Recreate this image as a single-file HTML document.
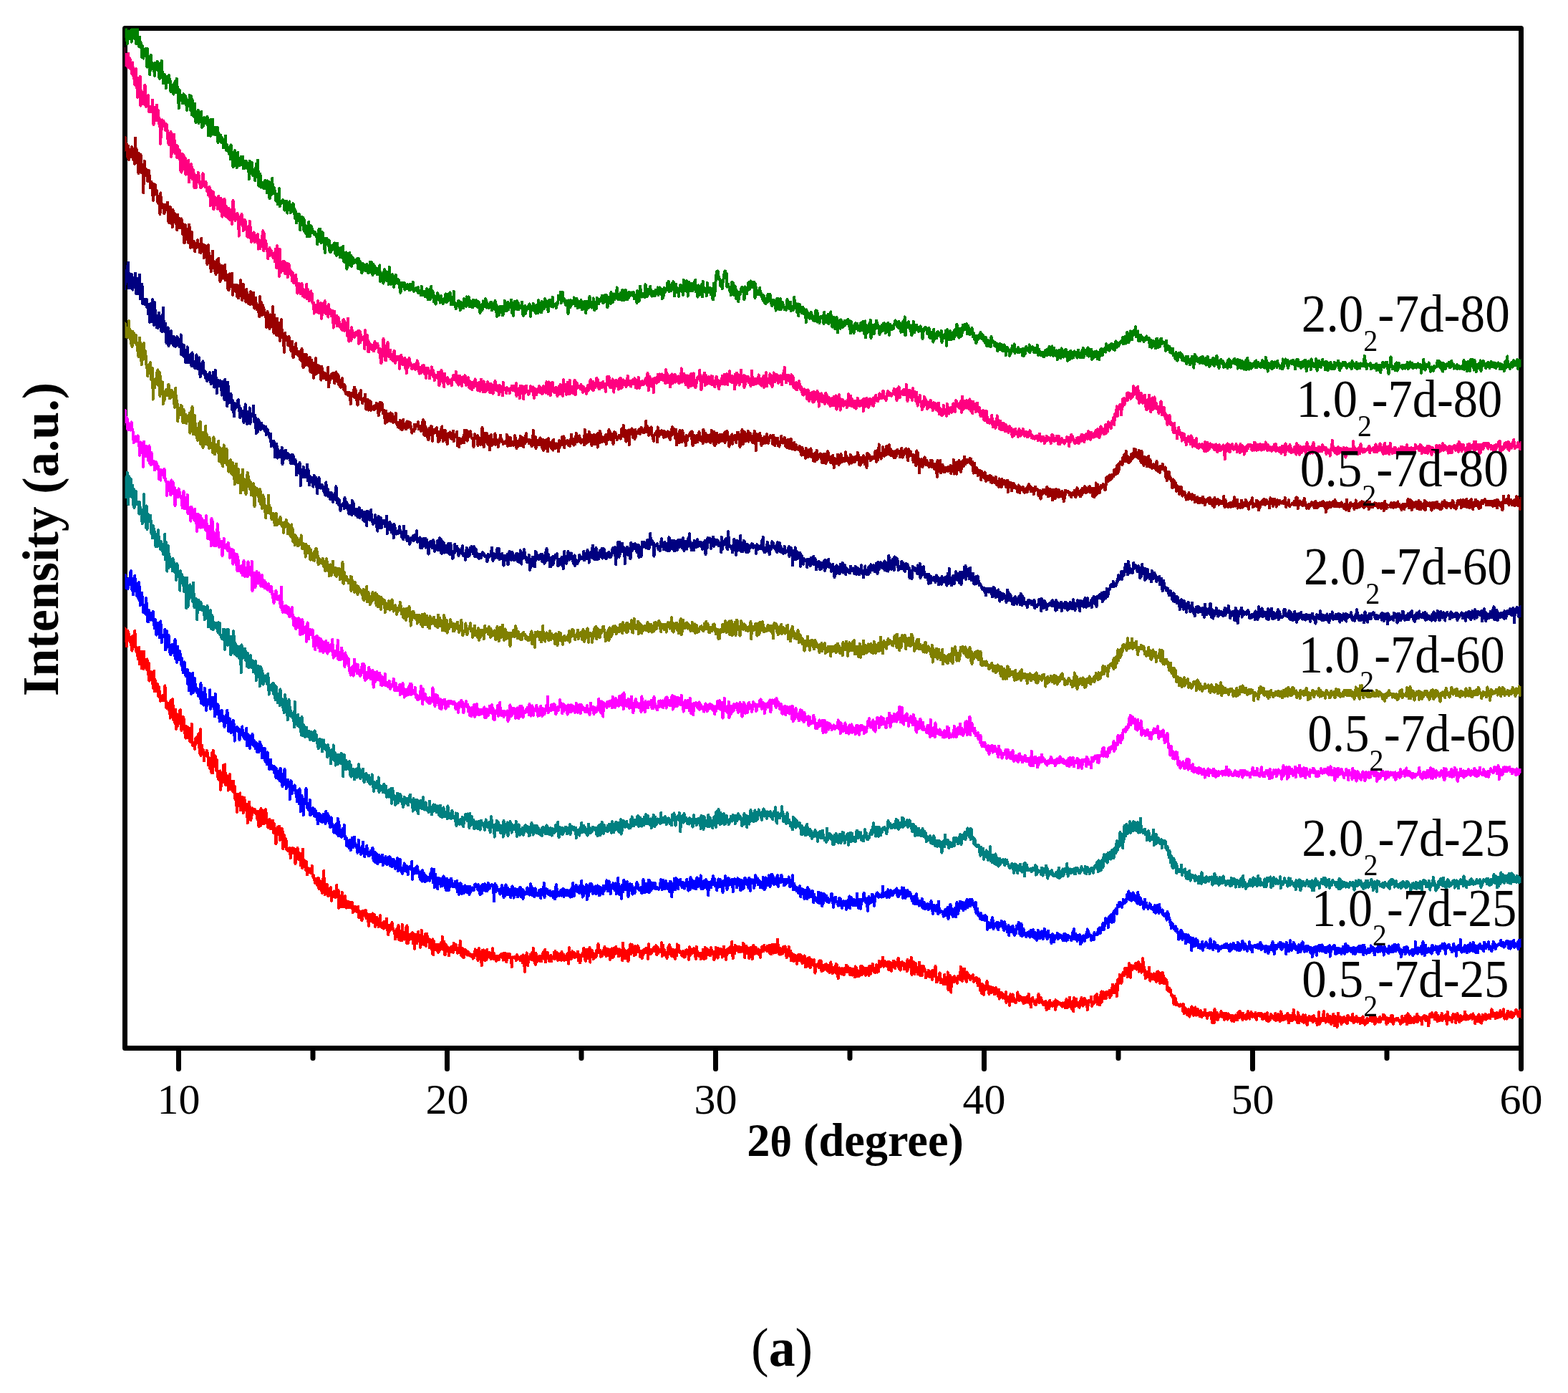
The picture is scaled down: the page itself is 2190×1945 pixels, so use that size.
<!DOCTYPE html><html><head><meta charset="utf-8"><title>XRD</title><style>html,body{margin:0;padding:0;background:#fff}svg{display:block}</style></head><body>
<svg width="2190" height="1945" viewBox="0 0 2190 1945" font-family="'Liberation Serif', serif">
<defs><clipPath id="c"><rect x="174.5" y="39.5" width="1950" height="1424"/></clipPath></defs>
<rect width="2190" height="1945" fill="#fff"/>
<rect x="174.5" y="39.5" width="1950" height="1424" fill="none" stroke="#000" stroke-width="7" stroke-linejoin="round"/>
<path d="M249.5 1463.5v29M437 1463.5v14M624.5 1463.5v29M812 1463.5v14M999.5 1463.5v29M1187 1463.5v14M1374.5 1463.5v29M1562 1463.5v14M1749.5 1463.5v29M1937 1463.5v14M2124.5 1463.5v29" stroke="#000" stroke-width="7" stroke-linecap="round" fill="none"/>
<g clip-path="url(#c)" fill="none" stroke-width="4" stroke-linejoin="round" shape-rendering="crispEdges">
<path stroke="#008000" d="M172.5,48.7l.75 2.8 .75-5.4 .75-5.8 .75 4.2 .75-5.1 .75 10 .75 12.1 .75-17 .75-1 .75 10.8 .75-.9 .75-1.8 .75-9.2 .75 9 .75 7.3 .75-18.4 .75 8.9 .75-12.9 .75 6.4 .75-4.4 .75 15.8 .75-8.8 .75 15.3 .75-.1 .75-2.1 .75-20.6 .75 19.5 .75 5.6 .75 2.6 .75-14 .75 10.8 .75-3.5 .75 2.7 .75 18.4 .75-16.1 .75 8.2 .75 9.6 .75-12.4 .75 5.5 .75 3.1 .75 .7 .75-10.6 .75 12.9 .75 12.8 .75-25.5 .75 22.9 .75-5.7 .75-6.1 .75 24.9 .75-10.5 .75-17 .75 12.4 .75 5.3 .75-6.2 .75 8.6 .75-6 .75 7.4 .75 7.7 .75-18.3 .75 8.6 .75-5.2 .75 6 .75-11 .75 6.2 .75 4.2 .75 10.6 .75 2.9 .75-21.3 .75 5.5 .75 13.7 .75-22.8 .75 14.5 .75 4.1 .75 12.9 .75-4.2 .75-8.1 .75 .5 .75 2 .75 16.6 .75-16.4 .75 2 .75 6.7 .75-3.2 .75 .2 .75-7.2 .75 10.7 .75-2.9 .75 15 .75-3.6 .75-5 .75 6.9 .75-7.9 .75 13.1 .75-8.3 .75 6 .75-15.4 .75 15.2 .75-16.8 .75-2.1 .75 16 .75-4.2 .75 10.1 .75 19 .75-25.7 .75 2.7 .75 8.1 .75 3.4 .75-4.8 .75 .7 .75 8.7 .75-.6 .75-12.4 .75 9.1 .75 1.9 .75-8.4 .75 12.2 .75-8.6 .75 16.5 .75-5.7 .75 0 .75-5 .75 4.9 .75-15.1 .75 8.1 .75 13.5 .75-20.3 .75 25.9 .75-21.2 .75 21.9 .75-12.7 .75 14.4 .75-4.7 .75-13.3 .75 24.2 .75 2.4 .75-12 .75-.9 .75 1.7 .75-6.1 .75 18.1 .75-13 .75 4.9 .75-5.5 .75 2.2 .75-4.7 .75 21.8 .75-11 .75 10 .75-7.2 .75-5.2 .75 3.7 .75-1.2 .75 5.3 .75-2.4 .75 1.3 .75-8.3 .75 5.4 .75 21 .75-18.5 .75-2.5 .75 12.2 .75 9.5 .75-22.9 .75 10.9 .75-2.8 .75-8.5 .75 21.1 .75-5.5 .75 1.5 .75-6 .75 10.6 .75-7.4 .75 4.1 .75-7.1 .75 0 .75 21.5 .75-14.1 .75 7.4 .75-1.8 .75-2.4 .75 .3 .75 10 .75-6.6 .75 2 .75 2.3 .75 10.1 .75-3.1 .75-1.6 .75-6.7 .75-5.6 .75 19.5 .75 1 .75-7.9 .75 6.4 .75 3 .75 1.5 .75 2 .75-9.5 .75 17 .75-20.3 .75 18.2 .75-1.2 .75 4.6 .75 9.5 .75-1.5 .75-18.9 .75-2.7 .75 20.8 .75-12.9 .75 8.8 .75 7.4 .75-18.5 .75-3 .75 18.6 .75-1.3 .75-2 .75 2.5 .75-6.7 .75-4.8 .75 10.6 .75-6 .75-4.9 .75 16.7 .75-4.1 .75 3.8 .75-10.5 .75 2.8 .75-2.4 .75 1.1 .75 8.5 .75-7.2 .75 9 .75 .3 .75 13.3 .75-25.6 .75 18 .75-6.7 .75 1.3 .75-10.1 .75 8.4 .75 10 .75-5.4 .75 2.2 .75-2 .75 11.9 .75-8 .75-15.6 .75 12.3 .75-8.7 .75-8.7 .75 21.3 .75 14.9 .75-8.7 .75-8.3 .75 2.7 .75 16.3 .75-6.4 .75 0 .75 .1 .75 1.5 .75 6.4 .75-1.1 .75-1.9 .75-8.6 .75 12.1 .75-8.1 .75 13.7 .75-16.8 .75 9 .75 1.6 .75-9 .75 23 .75-1.3 .75-13.5 .75 9.7 .75-2.2 .75-21.2 .75 21.5 .75-1.6 .75 1.7 .75-7.8 .75 6.5 .75 1.3 .75 10.5 .75-5.5 .75-1.8 .75 11.8 .75-14.4 .75 1.9 .75-9.7 .75 25.1 .75-3.7 .75 .4 .75-1.2 .75-3.3 .75 1.4 .75-2.6 .75 1 .75 2.5 .75 11.1 .75-6.2 .75-3.6 .75-3.1 .75 .3 .75 16.6 .75-7.1 .75-2.4 .75-2.2 .75-4.6 .75 8.1 .75 7.5 .75-8.1 .75 2.1 .75 .9 .75 3.3 .75-11 .75 10.4 .75-3.4 .75 13.1 .75-10.6 .75 10.3 .75 7.5 .75-11.8 .75-1.1 .75 6.4 .75-.4 .75-5.8 .75 10.9 .75 11.6 .75-14.7 .75 1.3 .75-4.8 .75 10.1 .75-9.8 .75 1.7 .75 17 .75-14.1 .75 14.1 .75 3.6 .75-7.9 .75 2.6 .75 10 .75-13.9 .75-2 .75-4.5 .75 9.9 .75 10.3 .75-2.9 .75-12.1 .75 1.2 .75 2.9 .75 5.9 .75-2.7 .75 3.4 .75 1.1 .75-3.3 .75 2.3 .75 2.3 .75-1.3 .75 4.5 .75 9.7 .75-7.8 .75-2.9 .75-10.8 .75 14.3 .75-14.6 .75 4.2 .75 15.5 .75-.3 .75-4.9 .75-9.5 .75 9.4 .75-1.3 .75 9.2 .75 11.2 .75-12.6 .75-5.7 .75-1.9 .75 7.9 .75-.1 .75-5.6 .75 8.8 .75-7.5 .75 15.1 .75 .2 .75 .7 .75-9.4 .75 6.8 .75-3.7 .75-1.2 .75 .8 .75-5.6 .75-.5 .75 14.6 .75-5.8 .75 3.1 .75 5.4 .75-16.9 .75 6.5 .75 6.5 .75 1.8 .75-4.4 .75 9.3 .75-4.7 .75-8.5 .75 2.3 .75 11.3 .75-1.6 .75-14.3 .75 20.8 .75-4.1 .75 5.2 .75-10.1 .75 1.1 .75-4.5 .75 23.4 .75-16.2 .75 11.5 .75-13.2 .75 5.6 .75-10.7 .75 8.5 .75 9 .75-13.3 .75 14.8 .75-4.1 .75-8.1 .75 3.8 .75 .6 .75 2.9 .75-2.6 .75-1.4 .75 3.5 .75-4 .75-1.2 .75 7.9 .75 6.1 .75-14.3 .75 9.7 .75-3.6 .75-1.6 .75 11.4 .75-7.9 .75 12.5 .75-13.4 .75 7.4 .75-3.3 .75-2.9 .75 8.4 .75-4.2 .75 4.8 .75-3.7 .75-6 .75 6.2 .75 1.1 .75 5.7 .75-11 .75 5.4 .75-9.8 .75 14.4 .75-10.1 .75-4.1 .75 10.6 .75 7.2 .75-15.5 .75 2.9 .75 2.3 .75-2.1 .75 9.2 .75-6.8 .75 .8 .75 8 .75-7.6 .75 7.4 .75-8 .75-1 .75-3.3 .75 22.3 .75-12.4 .75 3.8 .75-1.2 .75 1.6 .75-.2 .75 11.4 .75-16.9 .75-2.6 .75 3.7 .75-1.5 .75 12.7 .75 .8 .75-9.9 .75-2 .75 6.4 .75 10.7 .75-24.1 .75 19.9 .75-8.8 .75 12.7 .75-11.9 .75 5 .75-6.6 .75 3.5 .75 14 .75-2.8 .75-6.6 .75-2.3 .75-5.5 .75 9.1 .75 2.5 .75 .1 .75 .3 .75-5.4 .75 6.4 .75 .6 .75 8 .75 3.6 .75-10.9 .75-3.2 .75 4.4 .75-2.7 .75-.4 .75 4.3 .75-5.2 .75 9.6 .75-3.7 .75 2.3 .75-2.2 .75-2.7 .75-1 .75 4.3 .75-1.5 .75 4.6 .75-1 .75-7.4 .75 8.3 .75-7.6 .75 4.3 .75 2.1 .75-9.7 .75 12.3 .75 .6 .75-1.4 .75-1.3 .75 .6 .75-3.1 .75 4.2 .75-1.3 .75 3.8 .75-7 .75 8.3 .75-.3 .75-1.4 .75-1.4 .75 5.7 .75-12 .75 12 .75-1 .75 .5 .75 .7 .75-5.5 .75 2.4 .75 5.2 .75-.9 .75-1 .75-9.3 .75 11.5 .75 3.7 .75-.6 .75-4.1 .75-9.6 .75 14 .75-5.8 .75-12.8 .75 16.1 .75-10 .75 1.3 .75 3.9 .75 10.6 .75-8.7 .75 3.7 .75 8.3 .75-.6 .75-9.1 .75-.5 .75-5.3 .75 3.3 .75 6.3 .75 .1 .75-1.4 .75 5.1 .75-9.4 .75 4.1 .75 4.5 .75-.6 .75 2.9 .75-3.5 .75-3.6 .75 3.8 .75-7.1 .75-3.3 .75 12.1 .75-3.2 .75 2.1 .75-10.7 .75 7.4 .75-1.2 .75-1.2 .75-7.3 .75 10.4 .75 6.8 .75-2.7 .75-5.1 .75 3.3 .75 4.3 .75-18.7 .75 14.3 .75 3.7 .75 .9 .75 5.6 .75-2.9 .75-4.3 .75 0 .75 2.7 .75-7 .75 2.7 .75 5 .75 5.6 .75-11.3 .75 .6 .75 1.3 .75 6.1 .75-7.4 .75 8 .75-13 .75 4.1 .75-.1 .75 5.3 .75 1.4 .75-13.7 .75 3.2 .75 6.8 .75-5.3 .75-4.5 .75 13.7 .75-2.8 .75 .1 .75-5 .75 8.1 .75-6.6 .75 7.2 .75-10.6 .75 .4 .75 5.8 .75-4.7 .75 7.4 .75-2.1 .75-6.2 .75 5.4 .75-2.1 .75 6.8 .75-8.1 .75 1.2 .75 8.8 .75 5.6 .75-1.2 .75-10.1 .75 .9 .75 7.1 .75-8.7 .75-4.4 .75 5.9 .75 1.9 .75-6.6 .75-4.2 .75 1.2 .75 11.2 .75-7.4 .75 3.4 .75 1.9 .75 2.3 .75-4.9 .75 4.5 .75-7.2 .75 2.9 .75-3.4 .75 11.5 .75-6 .75-3.7 .75 2.2 .75 .8 .75 5 .75-11.9 .75 3 .75 3.7 .75 15.4 .75-8.1 .75-5.4 .75 4.6 .75 7.2 .75-11.8 .75-.5 .75 8.5 .75-3.6 .75 1 .75-6.1 .75 12.8 .75-1.1 .75-6 .75 .7 .75-14.2 .75 13.9 .75-4.3 .75 3.3 .75 1.3 .75-5.4 .75-7 .75 10.7 .75-5.8 .75 2.2 .75-1.5 .75 1.4 .75-10.2 .75 18.3 .75-5 .75 4.5 .75 4.5 .75-10.2 .75-9.5 .75 4.7 .75-1.6 .75 3.7 .75 3 .75-10.8 .75 12.2 .75-9.7 .75 9.5 .75-2.2 .75-1 .75 1.2 .75-2.4 .75-.4 .75-5.6 .75 8.6 .75 9.7 .75 .7 .75-3.5 .75-3.2 .75-7.3 .75 11.1 .75-7.9 .75-.1 .75-1.2 .75 2 .75-2.8 .75 1.8 .75-5.3 .75 3.7 .75 13.8 .75-12.3 .75-.9 .75 4 .75 .8 .75-9.5 .75 4.7 .75 5.8 .75-3.4 .75-.8 .75 7.4 .75-11.7 .75 4 .75-3.2 .75 10.5 .75-18.1 .75 6.7 .75 .7 .75 6.2 .75-.4 .75 4.1 .75-15.6 .75 12.1 .75-5.6 .75-2 .75 6.1 .75-7.8 .75-6.3 .75 8.8 .75-6.1 .75 4.2 .75 5.2 .75-.5 .75 6.5 .75-9.6 .75-7.3 .75 3.9 .75-1.1 .75-1.8 .75 8.6 .75-6 .75-7.2 .75 13.9 .75-4.5 .75 2.3 .75-1.5 .75 2.5 .75-3.4 .75 6 .75-4.7 .75-.9 .75-.8 .75-11.2 .75 5.4 .75-2.1 .75 1.1 .75-9.6 .75 16 .75-7.9 .75-6.1 .75-1.2 .75 9.3 .75 2.5 .75-2.2 .75 5.2 .75-3.3 .75 6.8 .75-6.5 .75 3.9 .75 5.6 .75 8.6 .75-18.8 .75 3.1 .75-1.8 .75 8.8 .75-10.1 .75 3.7 .75 2.6 .75-4.8 .75 .3 .75 2.6 .75-8.4 .75 3.5 .75 5.4 .75 3 .75-1.8 .75-8.5 .75 6.8 .75 6.5 .75-1.4 .75-3.4 .75-4.5 .75 7.9 .75-6.5 .75-3.3 .75 1.9 .75 11.7 .75-6.6 .75 4.9 .75-8.9 .75 7.4 .75-8.3 .75 2.2 .75 14 .75-9.3 .75-6.9 .75 2.1 .75 2 .75 4.6 .75-9.2 .75-6.8 .75 7.7 .75 1.4 .75 .4 .75 6.3 .75-5.5 .75 2.5 .75-10.3 .75 10.4 .75 6.4 .75-7.2 .75-3 .75-.7 .75 8.6 .75-14.8 .75 4.2 .75 2.8 .75 1.3 .75-6.5 .75 3.7 .75-3.3 .75 1.9 .75-1.6 .75-5.7 .75 5.9 .75 4.6 .75-10.2 .75 3.7 .75 4.7 .75-9.6 .75 6.5 .75-6.9 .75 11.6 .75 6.2 .75-1.8 .75-12.4 .75 5 .75-3.6 .75-.3 .75 7.6 .75-15.8 .75 12.7 .75-6.2 .75 7.7 .75-6.9 .75-4.9 .75 5 .75 2.3 .75-4.1 .75 2.3 .75-5.7 .75-8.9 .75 16.5 .75-1.2 .75-3.1 .75-.6 .75 5.3 .75-8.3 .75-1.4 .75 2.8 .75 7.5 .75-14.2 .75 14.1 .75-10.1 .75-2.6 .75 12.9 .75-7.5 .75-6.7 .75 5.2 .75 7 .75 1.4 .75-9 .75 4.5 .75 1.7 .75-7.6 .75 5.5 .75-2.2 .75-2.8 .75 .2 .75 3 .75-.3 .75-3.3 .75 .7 .75 8.4 .75-5 .75 3.6 .75 1.7 .75-3.4 .75 9.2 .75-17.1 .75 9 .75-6.3 .75 11.9 .75-.9 .75-20.2 .75 5.4 .75 9 .75 .6 .75-.4 .75-4.5 .75 2.9 .75 1 .75-4.1 .75 6 .75-18.3 .75 15.8 .75-9.3 .75 10.8 .75-6.7 .75-3.8 .75 6.9 .75-7.3 .75-.2 .75-3.7 .75 8.4 .75 2.7 .75 2.8 .75-6.6 .75 6.4 .75-5.9 .75-.7 .75 3.5 .75 2.6 .75-7.9 .75 .3 .75 .4 .75 1.2 .75-5.6 .75 10.6 .75-8 .75 4.7 .75-7.3 .75 6.6 .75 .1 .75-4.6 .75 13.6 .75-9.3 .75 7.8 .75-4.6 .75-9.1 .75 1.5 .75 4.5 .75-2.1 .75-.2 .75-1.9 .75-8.5 .75 8.8 .75-11.2 .75 14.4 .75-6.2 .75 0 .75 2.7 .75 2.7 .75-9.6 .75-1.8 .75 3.8 .75-5.5 .75 5.9 .75 14.3 .75-14.9 .75 9.6 .75-11.4 .75 9.3 .75-3.6 .75 1.4 .75 3.5 .75 6.5 .75-8.9 .75-.5 .75-6.4 .75 8.5 .75-4.9 .75 5.7 .75-5.2 .75 9.7 .75-21.3 .75 9.2 .75 6.4 .75-7.3 .75-2.8 .75 2.7 .75-6.5 .75 8.3 .75 13.1 .75-7.4 .75-12.7 .75 1.5 .75 2.9 .75 8.2 .75-10.1 .75 1.1 .75 9.1 .75 .2 .75-6.7 .75-3.9 .75-2.1 .75 5.1 .75-8.3 .75 17 .75-7.4 .75 6.5 .75 8.1 .75-3.7 .75-12.7 .75 11.6 .75 1.8 .75-10.4 .75-.9 .75 4.9 .75-8.2 .75 17.2 .75-21.5 .75 7.3 .75 4.8 .75 .3 .75 2.3 .75 .6 .75-2.6 .75 7.6 .75-18.2 .75 11.9 .75-3.9 .75 4.7 .75 .5 .75-6.3 .75 1.5 .75 8 .75-2.6 .75-5.9 .75 14.7 .75 .8 .75-22.6 .75 7.6 .75 9.3 .75-14 .75-8 .75-6.9 .75-5.1 .75 .8 .75-.9 .75 10.7 .75-2.4 .75 4.2 .75-.5 .75 9 .75-3.9 .75 3 .75 4.3 .75-7.8 .75-3.9 .75-5.4 .75-5 .75-2.3 .75 .1 .75 9.6 .75-6.3 .75 18.9 .75-3.2 .75-1 .75 3.8 .75 .4 .75 5.5 .75-4.5 .75 10.6 .75-10.7 .75-8.2 .75 8.7 .75-7.1 .75 11.1 .75 6.2 .75-2.1 .75-11 .75 3.3 .75 14.3 .75-8 .75-1.6 .75 5.9 .75 7.9 .75-6.4 .75-6.4 .75 1.2 .75 1.4 .75-7 .75-2.7 .75 5.9 .75-5.9 .75 4.6 .75 .5 .75 12.2 .75-18.1 .75 3.9 .75-.4 .75 3.3 .75 3.3 .75-8.8 .75-2.2 .75-5.2 .75 3 .75 6.9 .75-4.2 .75-7.5 .75 2.8 .75 2.2 .75 3.4 .75-4.7 .75 3.9 .75-6.6 .75 5.7 .75 17 .75-20 .75 11.1 .75 3.7 .75-2.7 .75-2 .75 4.5 .75 .7 .75-.1 .75-9.4 .75 9.9 .75-3.5 .75 2.1 .75 4.7 .75 2.6 .75 1.8 .75-7.1 .75 8.1 .75 1.8 .75 .2 .75 1.8 .75-7.9 .75 .2 .75 5.8 .75-11.4 .75 8.9 .75-3.5 .75 1.3 .75-7 .75 5 .75 5.1 .75 5.3 .75 .9 .75-5.3 .75-.2 .75-3 .75 6.9 .75-3.1 .75 4.8 .75 6.4 .75-9.3 .75-7.6 .75 3.5 .75-3 .75 1.4 .75 13.4 .75-5.7 .75-9.1 .75 11.5 .75 3.3 .75-8.5 .75-1.6 .75 1.9 .75 3.4 .75 1.9 .75 3 .75 .2 .75-.1 .75 1 .75-3.6 .75-11.5 .75 7.4 .75 2.5 .75-3.6 .75 6.9 .75-6.7 .75-2.9 .75 12.6 .75-4 .75-2.2 .75 3.9 .75 .9 .75-3.6 .75-14.4 .75 9.6 .75 1.5 .75-2.4 .75 6.5 .75 5.6 .75-8.4 .75-3 .75 16.8 .75-12.5 .75-3.7 .75 8 .75 1.4 .75-5.5 .75 8.1 .75-6.3 .75-1.9 .75 6.1 .75 3.4 .75-6.8 .75 5.3 .75-1.8 .75 15.3 .75-17.7 .75 11.1 .75-7 .75-.1 .75 4.7 .75 1.3 .75 2.2 .75-4.5 .75-4.4 .75 .6 .75 5.6 .75 .6 .75 4.4 .75-4.8 .75 3.5 .75 2.5 .75-6.6 .75-8.2 .75 1.8 .75-1.1 .75 15.5 .75-12.1 .75 10.7 .75-3 .75 5.9 .75-3.4 .75-5.3 .75-.3 .75 1.6 .75 .7 .75-3.3 .75 2.8 .75 8.4 .75-16.3 .75 10.1 .75-5.5 .75 5.8 .75 3.5 .75-4.2 .75 4.5 .75-11.5 .75 13.7 .75-8.2 .75 6.4 .75-1.9 .75-13.3 .75 9.3 .75 5.1 .75 6.9 .75-6 .75 .2 .75-8 .75 14.2 .75 2.1 .75-8.5 .75-1 .75-6.6 .75 12.4 .75 9.1 .75-9.5 .75 2.8 .75-3.3 .75-7.3 .75 11.5 .75-12.3 .75 5.2 .75 2.5 .75 3.2 .75-2.1 .75 0 .75-5.4 .75-2.3 .75 6.7 .75-3.5 .75-2.7 .75 .4 .75 3.9 .75-6.4 .75 2.6 .75-1.2 .75 9 .75 1.3 .75 7.8 .75-16.6 .75 4.1 .75 7.8 .75-5.2 .75-.3 .75 9.9 .75-9.6 .75-3.7 .75-.6 .75 8.1 .75 0 .75-7.8 .75 2 .75 7.4 .75 .4 .75-5.7 .75 6.1 .75-.1 .75-11.2 .75 7.1 .75 3.4 .75-4.7 .75-7.5 .75 8.8 .75 4.9 .75 3.9 .75-18 .75 22.9 .75-17.9 .75 9.9 .75 1.3 .75-1.2 .75-4 .75-6.3 .75 8.5 .75-6.5 .75-8.6 .75 25.4 .75-10.1 .75 5.2 .75-13 .75 11.3 .75 .6 .75-.3 .75-7.5 .75-5.7 .75 4.9 .75-9.7 .75 2.3 .75 8.5 .75-5.2 .75 3.9 .75 .3 .75 9.7 .75-3.1 .75-6.4 .75 5.9 .75-9.5 .75 2.1 .75 5.9 .75-10.4 .75 4.6 .75-5 .75 6.8 .75 7.2 .75-11.5 .75 4.6 .75-5.5 .75-1.3 .75-.6 .75 12.8 .75 4.2 .75-9.1 .75-5.9 .75 6.7 .75-5.1 .75 5.4 .75-2.6 .75-.1 .75 1.5 .75-5.8 .75 .8 .75-6.3 .75 6.1 .75-4.7 .75 6.1 .75-3.9 .75 5.1 .75 1.7 .75-9 .75 2.9 .75-.6 .75 8.1 .75 4.6 .75-4.1 .75-5.7 .75 8.7 .75-14.4 .75 14.6 .75-10.4 .75-10.2 .75 26.2 .75-5.1 .75-12.5 .75 5.8 .75-1.7 .75 1.6 .75-7.4 .75 4 .75 5.6 .75-1 .75 4.8 .75-5.2 .75 11 .75-14.5 .75 4.8 .75-10.2 .75 3.3 .75 12.5 .75-10.7 .75 7.2 .75-2.7 .75-4.6 .75 3.5 .75-.6 .75 .3 .75 6.1 .75-.3 .75-5.7 .75-1.3 .75 5.8 .75-1.6 .75 5.6 .75 7.9 .75-8.3 .75-4 .75-.4 .75-3 .75 0 .75-.2 .75 3.1 .75 0 .75 5.8 .75-5.2 .75 1.2 .75-4.6 .75 13.7 .75-5.1 .75 6.2 .75-4.4 .75 3.4 .75-7.9 .75 4.8 .75 9.4 .75-18 .75 11.4 .75 2.6 .75-5.7 .75 1.8 .75 2.6 .75-8.8 .75 5.3 .75-5.8 .75 1.1 .75 .5 .75 2.5 .75 1.6 .75 1.6 .75-8.6 .75 16.2 .75-3.6 .75-1.9 .75-4.9 .75 1.3 .75 3.1 .75-.7 .75-9.8 .75 11.2 .75 10.1 .75-22.6 .75 13.2 .75-3.2 .75-2.5 .75 6.8 .75-12.3 .75 6.1 .75 6 .75-8.1 .75-1.3 .75 2.3 .75-2.9 .75 9.3 .75-11.9 .75 8.2 .75-10.3 .75 9 .75-3.9 .75-12.1 .75 12.2 .75-5.2 .75 2.9 .75 9.3 .75-13 .75-.1 .75 11.5 .75-7.3 .75 5.7 .75-7.4 .75-7.6 .75 2.2 .75 4.8 .75-2.7 .75-5.3 .75 .4 .75 0 .75-.9 .75 14.1 .75-7.6 .75-3.9 .75 4.7 .75 7 .75 .4 .75-3 .75-2 .75 3.8 .75-7.7 .75 2.3 .75 10.4 .75-5.6 .75 4.5 .75 4.4 .75-2.2 .75-2.6 .75 10.4 .75-6.4 .75-4.4 .75 5.6 .75-1.1 .75-5.5 .75 4.8 .75-.6 .75-7.9 .75 8.7 .75-.1 .75-.3 .75-5.1 .75 6.3 .75 1.8 .75 1 .75-5.3 .75 8.4 .75-8.1 .75 4.8 .75 7.3 .75-8.8 .75 1.1 .75 7.5 .75-6.3 .75 .7 .75 2.6 .75 4.1 .75-14.4 .75 6.5 .75-.5 .75 0 .75 1.3 .75 .4 .75 5.4 .75-5.1 .75 4.8 .75 1.5 .75-4.8 .75 4.1 .75 7 .75-5.7 .75-4 .75 2.8 .75-3.6 .75 5.5 .75 2.8 .75-7.1 .75 2.9 .75 6 .75-6.8 .75 3.2 .75-5.1 .75 1.1 .75 1.6 .75 11.8 .75-10.9 .75-.2 .75 0 .75 1.9 .75 3.7 .75-1.8 .75 8.1 .75-7.6 .75 5.4 .75-4.8 .75 1.5 .75-8.5 .75 5.7 .75 .4 .75-.6 .75-7.9 .75 13 .75-5.2 .75-.1 .75 .9 .75 .3 .75 2.8 .75-6.9 .75 1.6 .75 5.3 .75-.5 .75-2.1 .75-.7 .75-1 .75 3.2 .75 5.2 .75-9.3 .75 10.7 .75-2.9 .75-5.5 .75 5.1 .75-9.5 .75-1.1 .75 1.7 .75 3.6 .75 .3 .75-.9 .75 2.6 .75-9.5 .75 11 .75-8.2 .75 3.2 .75 .9 .75-3.2 .75-.9 .75 1.5 .75 4.1 .75 2.6 .75-.1 .75-6.5 .75 1 .75-.4 .75 5.8 .75-10.3 .75 13.9 .75-7.1 .75-1.1 .75 4.9 .75 3 .75-2.7 .75 3.1 .75-3.7 .75 4.8 .75 .2 .75-5.5 .75 6.6 .75-5.2 .75-.2 .75-4 .75 2.7 .75 4.6 .75-8.6 .75 8.2 .75-1.2 .75-.3 .75-10.2 .75 8.7 .75 3.1 .75-5.8 .75 3.5 .75-10.2 .75 12.6 .75-5.5 .75 6.3 .75-11.2 .75 10.5 .75-3.9 .75 4.4 .75-7.2 .75 1.3 .75 11.8 .75-12.7 .75 .5 .75 1.8 .75-3.1 .75 9.2 .75 2.3 .75-10 .75-4.2 .75 12.1 .75-.2 .75-1.1 .75 1.4 .75-8.3 .75 3 .75-5 .75 0 .75 10 .75-6.8 .75 12.3 .75-9.1 .75-2.8 .75 6 .75 4.2 .75-5.4 .75-6.9 .75 6.6 .75 4.2 .75-7.6 .75-1.2 .75 7.4 .75-3.5 .75-5.1 .75 3 .75-1.6 .75 4.3 .75-.7 .75 4.2 .75-1.8 .75-9.3 .75 8.1 .75 2 .75-1.8 .75 2.4 .75-6.5 .75-1.7 .75 7.7 .75-8.2 .75-4.5 .75 13.1 .75-7.2 .75 1.7 .75-4.5 .75 .3 .75 .6 .75 3.3 .75 2.9 .75-11 .75 12.4 .75-8 .75 .4 .75 7.1 .75-3.2 .75-6.1 .75 13.9 .75-11.2 .75 4.5 .75-.3 .75 4.9 .75-7.8 .75 6 .75-7.3 .75 7.6 .75-7.9 .75 1.6 .75 9.2 .75-6.7 .75-1 .75 8.6 .75-8 .75-5.2 .75 6.2 .75-8.3 .75 9.4 .75 0 .75-7.7 .75-.6 .75 3.1 .75-1 .75-4.4 .75 6.2 .75-11.4 .75 6.5 .75-.1 .75 .2 .75 2.2 .75-6.9 .75 7.4 .75-3.6 .75-2.4 .75-3.4 .75 .3 .75 6.1 .75-6.2 .75 3.9 .75 3.8 .75-.7 .75 1.7 .75-8.7 .75-4.1 .75 8.7 .75-3.8 .75 3 .75-5.5 .75 4.7 .75-2.2 .75-1.1 .75-1.6 .75-1 .75-1.4 .75-.6 .75 2.9 .75-7.4 .75 9.6 .75-8.8 .75 4.4 .75-5.4 .75-1.2 .75 10 .75-11.2 .75-4.8 .75 2.1 .75 1.4 .75 11 .75-9.4 .75 2.9 .75-9.3 .75 5.8 .75 1.2 .75 5 .75-11.8 .75 6 .75-1.3 .75-6 .75 4.9 .75-.8 .75-9.1 .75 13.9 .75 .1 .75-4.1 .75-3.7 .75 13.3 .75-5.3 .75 3.8 .75 2.1 .75-8.5 .75 6.3 .75-4.5 .75 1.1 .75 .2 .75 .7 .75 5.4 .75-4.2 .75-1 .75-.2 .75 3.1 .75-5.3 .75 2.1 .75 2.3 .75-2 .75 2.2 .75-1.9 .75 12 .75-2.9 .75-3.7 .75-2.1 .75 10.2 .75-8.1 .75-1.7 .75 1.9 .75 .1 .75 5.1 .75-6.2 .75 9.6 .75-13.1 .75 7.1 .75-7.4 .75 12.7 .75-9.4 .75 1.4 .75 4.5 .75 1.6 .75-10.3 .75 3.6 .75-4.3 .75 7.1 .75-.7 .75-.6 .75-.9 .75 1.9 .75-.9 .75 6.3 .75 5 .75-14.2 .75 8.6 .75-.6 .75 4.7 .75-5.4 .75 4.2 .75-3.1 .75 8.1 .75-1.8 .75-.3 .75 3 .75-1.9 .75-4.6 .75 9.6 .75-.6 .75-1.2 .75 5.3 .75 1.4 .75-8.9 .75 1.6 .75 9.8 .75-.2 .75-8.5 .75-1.5 .75 2.4 .75 .8 .75-4.2 .75 6.8 .75-5.1 .75 .5 .75 8.8 .75-6.2 .75 2.7 .75 3 .75 1 .75-4.4 .75 1.7 .75-3.2 .75 10.4 .75-4.1 .75-6.8 .75 4.5 .75 3 .75-.8 .75 5.4 .75-1.7 .75-7.5 .75 1.9 .75-4.7 .75 6.2 .75-.3 .75 10.1 .75-10.2 .75-8.6 .75 5.7 .75 3.2 .75-5.3 .75 1.6 .75 2 .75 2.9 .75-1.9 .75-2.8 .75 6.7 .75-5.2 .75 .2 .75-3.3 .75 2.4 .75 5.7 .75-8.8 .75 6.1 .75 3.2 .75-4.2 .75 2.5 .75-5.3 .75 9.6 .75-.8 .75-3.3 .75-7.7 .75 2.9 .75 8 .75 2.9 .75-5.5 .75 3.8 .75-7.1 .75 1.7 .75 .8 .75 1.7 .75-7.5 .75 9.6 .75 1.6 .75-9.6 .75-.7 .75 6.6 .75-3.8 .75-6.7 .75 12.4 .75-2.5 .75-2.4 .75 10.1 .75-7.6 .75-3.4 .75 3.3 .75-4.4 .75 1.1 .75 4.5 .75-3.6 .75 .5 .75 8.2 .75-3.1 .75-.2 .75-1 .75-.1 .75 3.8 .75-5.7 .75 7.3 .75-10.8 .75 2.7 .75-4.3 .75 4 .75 3.4 .75 3.7 .75-8.2 .75 2.6 .75-1.3 .75-1.5 .75-1.7 .75 4.9 .75-6.9 .75 7.2 .75-.3 .75-2.6 .75-1.4 .75-1.4 .75 12.6 .75-12.3 .75 11.2 .75-3.6 .75-3.7 .75-3 .75 8.5 .75 2.7 .75-10.3 .75 2.5 .75 5.3 .75-2.8 .75 6.5 .75-9.9 .75 4.3 .75-6.8 .75 12.9 .75-10.8 .75-5.7 .75 8.1 .75-.1 .75 8 .75-8.7 .75 1.3 .75 2.4 .75 3.9 .75-6.3 .75 4.2 .75-1.9 .75-3.1 .75 1.4 .75-.1 .75-3.6 .75 8.2 .75-9.9 .75 9.8 .75-.8 .75-3.9 .75-2.6 .75 2.1 .75 2.7 .75 1.1 .75-1.7 .75 2.7 .75-5.9 .75 3.1 .75-6.8 .75 8.9 .75-2.3 .75-2.1 .75 6 .75-1.8 .75-13.4 .75 10.9 .75-5.7 .75 9.6 .75 5.4 .75-11.5 .75 2.3 .75-1.3 .75 2.3 .75 1.1 .75 2.4 .75-8.7 .75 9.8 .75-9.6 .75 4.6 .75 3.3 .75-1.7 .75-6.4 .75 .9 .75 .9 .75 1.6 .75 4.5 .75-9.3 .75 6.7 .75 .5 .75-.2 .75-.4 .75 4 .75-3.9 .75 1.4 .75-1.2 .75 4.7 .75-14.2 .75 12.2 .75-5.9 .75-.1 .75-2.7 .75-3.5 .75 5.7 .75-1.2 .75 4.5 .75-7.6 .75 11.2 .75-4.5 .75-2 .75-1.8 .75-.3 .75-1.4 .75 2.2 .75 2.1 .75-.7 .75-4.8 .75 4.4 .75-2.4 .75 4.1 .75 6.5 .75-4.7 .75-3.6 .75-5.1 .75 .9 .75-1.1 .75 9.3 .75-5.7 .75 3.2 .75-2.6 .75 2.8 .75 5 .75-8 .75 1.3 .75-1.7 .75 6.5 .75-7.3 .75-.4 .75-1 .75 0 .75 7.2 .75 8.1 .75-13.7 .75 7.5 .75-2.7 .75-5.1 .75 3.1 .75 .2 .75-1.7 .75 10.1 .75-14.7 .75 8.8 .75-.2 .75-3.5 .75 2.8 .75 2.8 .75-2.7 .75 1 .75 1.1 .75-10.4 .75 13.4 .75 3.1 .75-4.9 .75 .1 .75-9.3 .75 5 .75-2.6 .75 .8 .75 6 .75-6.7 .75 2.6 .75-6.8 .75 6.7 .75 1 .75-3.1 .75 0 .75 10 .75-11.8 .75 .6 .75 .9 .75 7.7 .75 3.5 .75-6.8 .75-3.9 .75 1.1 .75 5.7 .75-7.5 .75 9 .75-.1 .75-5.1 .75 2.2 .75 .4 .75 3.1 .75-9.9 .75 8.5 .75-5.9 .75-1.5 .75 3.3 .75-1.1 .75-3 .75-2.3 .75 2.5 .75 9.2 .75 2 .75-5 .75 2 .75-6.4 .75 1.6 .75 1.4 .75-5.1 .75 .3 .75 4.2 .75-1.6 .75-2.8 .75 5.5 .75-2.4 .75 4.9 .75-3.9 .75-1.1 .75 1.7 .75-1.2 .75-1.8 .75 1 .75 4.4 .75-.4 .75 2.5 .75-11.3 .75 4.9 .75 0 .75 2.2 .75-2.3 .75-.3 .75 5 .75-2.3 .75-5.1 .75 9.5 .75-1.2 .75-6 .75 5.4 .75-5.9 .75 7 .75-5 .75-2.2 .75 1.6 .75-1.5 .75 3.7 .75-.1 .75-.5 .75-2.2 .75-11.8 .75 14.3 .75-7.5 .75 8.1 .75 3.4 .75-3.2 .75-2.5 .75 .8 .75 .2 .75-1.6 .75-.1 .75-1.3 .75 8.1 .75-4.6 .75 3.7 .75-4.5 .75 1.2 .75-.9 .75 2.4 .75 1.4 .75-2.2 .75-3.4 .75-.4 .75 9.2 .75-7.3 .75 0 .75 6.7 .75-1.4 .75-2.1 .75-3.5 .75 10.4 .75-7.4 .75 .6 .75-2.7 .75-4.7 .75 .3 .75 6.6 .75 0 .75-2.4 .75-3.5 .75-1 .75 4.3 .75-4.3 .75 8.9 .75 1 .75 6.4 .75-7.4 .75-5.5 .75-1.1 .75-9.7 .75 10.8 .75 1.6 .75 4.3 .75-1.3 .75-.1 .75-1.4 .75 1.7 .75 3 .75-9.5 .75 2.3 .75-3.5 .75 11.3 .75-1.2 .75-2 .75-7.4 .75 5.2 .75-1.6 .75 1.2 .75-1 .75 2.7 .75-3.5 .75 4.7 .75-2.3 .75-2 .75 .7 .75-1.3 .75 4.8 .75-4.1 .75 2.1 .75-2.6 .75-4.1 .75 9 .75-7.4 .75 6.6 .75-1 .75-7.8 .75 2.6 .75 1.7 .75-1.2 .75-1.4 .75 7.3 .75-3.7 .75 2.4 .75-3.1 .75 2.8 .75-4 .75 2.7 .75 2.3 .75-2 .75-1.9 .75-2.4 .75 4.7 .75 .7 .75-2.3 .75-1.9 .75 5 .75 7.3 .75-10.5 .75 2.4 .75 .1 .75-11.1 .75 10.2 .75-3.2 .75 7.9 .75-6.1 .75-2 .75 2.1 .75 1.4 .75-2.7 .75 1.9 .75-4.9 .75 4.3 .75 3.7 .75 4.5 .75-4.7 .75-1.7 .75 3.5 .75-.6 .75 2.4 .75-2.2 .75-4.5 .75 1.4 .75-.3 .75 .5 .75-.4 .75-3.7 .75-5 .75 5.4 .75-5.1 .75 7.9 .75-.3 .75-6.3 .75 8.9 .75 .7 .75-3 .75 6 .75 .7 .75-11.6 .75 8.4 .75-2.2 .75-.1 .75 1.9 .75-6.3 .75 .5 .75-.9 .75 .2 .75 2.5 .75-5.1 .75 1.5 .75 6.1 .75-2.5 .75 1.7 .75-8.6 .75 4.2 .75 .8 .75 2.2 .75-2.3 .75 5.7 .75-3.8 .75 .3 .75 0 .75 2.6 .75-4.5 .75 6 .75-2.5 .75-1.2 .75-.4 .75 1.8 .75 1.8 .75-.3 .75-2.2 .75 1.9 .75-2.9 .75 4.3 .75-4.9 .75-7.7 .75 12.9 .75-4.7 .75-4.9 .75 3.7 .75-2.6 .75 11.3 .75-6.1 .75-7.9 .75 8 .75-3.6 .75 8.8 .75-11.3 .75-4.5 .75 8.7 .75-1.6 .75-.3 .75-6.5 .75 9.7 .75 4.7 .75-13.6 .75 11.7 .75-6.6 .75 11 .75-7.3 .75-2.4 .75 4.9 .75-2.2 .75-4.2 .75 4.9 .75-4.7 .75-4.9 .75 14.6 .75-9.1 .75-1 .75 3.6 .75-7.3 .75 .8 .75 3.2 .75-.1 .75 2.3 .75 3.9 .75-6.1 .75 3.7 .75 .4 .75-6.4 .75 4.9 .75-4.4 .75 7.6 .75-2.4 .75-1.7 .75-5.2 .75 5.6 .75-3.4 .75 5.6 .75-3.2 .75-2.7 .75 6.6 .75-.8 .75-5.1 .75 6.7 .75-5.6 .75-.1 .75 1.7 .75-3.4 .75 1.1 .75 1.1 .75 6.4 .75-.1 .75-6.8 .75 7.1 .75-6.3 .75 1.6 .75 1.8 .75-2.2 .75 8 .75-8.3 .75-5.5 .75 9.5 .75-6.6 .75 .4 .75-10.3 .75 15.2 .75-.7 .75-.1 .75 .6 .75 2.7 .75-6.6 .75 3.7 .75-6.5 .75 1.5 .75 5.4 .75-2.6 .75-6.7 .75 6.5 .75-2.1 .75-2.5 .75 4.8 .75-3.3 .75-4.5 .75 1.8 .75 11 .75-12.6 .75 6.6 .75 1.5 .75 .1 .75-7.2 .75 3.5 .75 1.7 .75 2.6"/>
<path stroke="#FF0080" d="M172.5,72.4l.75-5 .75 22.1 .75 1.6 .75-6.7 .75-8.9 .75 11.4 .75-1.6 .75 8.9 .75-19.3 .75 15.4 .75-1 .75-7.8 .75 15 .75 0 .75-2.7 .75 9.8 .75-16.2 .75 15.2 .75 6.5 .75 .2 .75 9.4 .75-21 .75-1.5 .75 18.5 .75 3.5 .75 17.5 .75-13.4 .75-13.4 .75 17.7 .75-14.9 .75-5 .75 41.1 .75-21 .75 5 .75-.2 .75 13.3 .75-13.6 .75 10.3 .75-20.5 .75-2.3 .75 28.5 .75 1.7 .75-8.1 .75-1.5 .75 .7 .75-6.9 .75 22.7 .75-7.1 .75-.2 .75 .2 .75 7.7 .75-3.8 .75 3.7 .75-16.8 .75 17.3 .75 17.3 .75-24.2 .75 5.1 .75 11 .75 2 .75-1.8 .75-19.7 .75 21.3 .75-14.4 .75 4.8 .75 14.2 .75-6.5 .75 11.7 .75 23.2 .75-20.7 .75 .8 .75-13.7 .75 3.7 .75-2.5 .75 6.2 .75-3.8 .75 5.3 .75 5.5 .75-6 .75-2.5 .75 1.9 .75 17.9 .75-2.3 .75 10.2 .75 1.5 .75-11.4 .75 10.6 .75-17.9 .75 35.2 .75-8.6 .75-11.5 .75-7.3 .75 15.3 .75-19 .75 11.1 .75 15.1 .75-4.7 .75-3.8 .75 14.3 .75-16.6 .75 13.2 .75-5.7 .75-1.8 .75 13 .75-11.7 .75 27.1 .75-20.8 .75 24.2 .75-26.1 .75 16.4 .75-14.7 .75 .1 .75 14.6 .75 5.8 .75-15.8 .75 22.8 .75-16.1 .75 9.4 .75 3.4 .75 3.1 .75-19.8 .75 30.8 .75-8.2 .75-7.7 .75-4.4 .75-5 .75 3.7 .75 17.3 .75-6.9 .75-6.1 .75 6 .75 18.8 .75-15.6 .75-1.4 .75 17.4 .75-6.9 .75-2.9 .75-4.8 .75-7.4 .75 4.1 .75 6.6 .75 3 .75 5.7 .75 2.4 .75-2 .75 .7 .75-9.7 .75-9.1 .75 14.7 .75-2.9 .75 3.3 .75 4 .75-7.5 .75 1.9 .75 9.3 .75 2.6 .75-5.8 .75 10.5 .75-5.3 .75-6 .75 9.7 .75 16.3 .75-20.8 .75 16.2 .75 2.5 .75 1.8 .75-18.8 .75 24.6 .75-15.2 .75-2.3 .75 1 .75 7.7 .75-3.8 .75-1.2 .75 13 .75-16 .75-1.8 .75 16 .75 .1 .75 4 .75-17.2 .75 18.6 .75-4.1 .75 11.3 .75-24.1 .75 12.9 .75-3.3 .75-10 .75 8 .75 15.9 .75-12.3 .75-1.3 .75 13.8 .75 1.7 .75 .7 .75-13.9 .75 6.6 .75 9.4 .75-13.2 .75-.3 .75 13.3 .75 6.5 .75-21.7 .75-11.3 .75 9.8 .75 4 .75 7.6 .75 6.6 .75-5.6 .75-3.9 .75 7.6 .75-8.3 .75 8.2 .75-4 .75 27.7 .75-14.2 .75-12.5 .75-.4 .75 5.3 .75-8.8 .75 8.2 .75 .8 .75 13.9 .75-9.6 .75-2.1 .75-3.5 .75 2.2 .75 9.7 .75-.3 .75 11.5 .75-13.1 .75 14.2 .75-5.6 .75-1.3 .75-15.1 .75 6.4 .75 16.7 .75 5.8 .75-8.8 .75 4.9 .75-8.6 .75 .9 .75-1.8 .75 13.4 .75-4.4 .75-3.9 .75-.2 .75 7.5 .75-1.3 .75-8.4 .75 20.4 .75-10.8 .75-1.4 .75 12 .75-2.9 .75-8.1 .75 5.5 .75-11.9 .75 4 .75-11.8 .75 27.8 .75-23.3 .75 20.8 .75-10.8 .75-.2 .75 6.9 .75 4.5 .75 3.6 .75 9.8 .75-9.9 .75 5 .75-10.4 .75 10.9 .75-3.3 .75-3.7 .75 3.7 .75 1.2 .75 2.8 .75 2.6 .75-6 .75-.8 .75 12.1 .75-17.5 .75 9 .75 17.2 .75-31.1 .75 15.9 .75 11.1 .75-16.7 .75 32.5 .75-38 .75 30.8 .75 1.6 .75-4 .75-7.7 .75 5 .75-8.5 .75 13.4 .75-13.5 .75 7 .75 10.1 .75-14.8 .75 6.3 .75 4.6 .75-10.3 .75 19.2 .75-5.3 .75-12.8 .75 11.6 .75-4.5 .75 1.7 .75 6.2 .75-4.8 .75 13.1 .75-11.2 .75 13.1 .75-6.5 .75 7.5 .75-9.2 .75 1.2 .75-3.7 .75 13.4 .75 3.5 .75 9.4 .75-5 .75-6.6 .75-2.3 .75 5.2 .75-2 .75 11.5 .75-2.8 .75-11.7 .75 2 .75 15.5 .75-6.6 .75-2.8 .75 10.9 .75-10.1 .75 1.7 .75-.4 .75-9.5 .75 20.7 .75-13.5 .75 5.4 .75-.3 .75 11.1 .75-4.5 .75 1.5 .75-10.8 .75 11.9 .75-8.6 .75 13.2 .75 1.4 .75-1.7 .75 15 .75-9.5 .75 1.3 .75-2.2 .75-1.5 .75 8.6 .75 1.6 .75-15.6 .75 16.5 .75-3.2 .75 3.6 .75-2.9 .75-11 .75 1 .75 20.6 .75-10 .75-10.8 .75 12.4 .75-4.3 .75-9.4 .75-2.5 .75 5.1 .75 13 .75-1.6 .75-.9 .75 4.1 .75 2.6 .75-17.5 .75 12.5 .75-3 .75-2.1 .75 5.1 .75 3.4 .75-.3 .75-7.2 .75 7 .75 17.1 .75-19.6 .75-3.5 .75 13.5 .75 2.8 .75-.3 .75-9.7 .75 14.5 .75-11 .75-1.6 .75 4 .75 3.9 .75 6 .75 0 .75-3.5 .75 6.8 .75-4.9 .75 5.9 .75-14.2 .75-.5 .75 15.7 .75-13.3 .75 7.5 .75 1.9 .75-1.9 .75 .8 .75 12.4 .75-24.5 .75 22.3 .75 9.6 .75-13.9 .75 .2 .75 5.3 .75 7.4 .75-18.6 .75 8.5 .75-1.3 .75 5.1 .75-2.1 .75 3.6 .75-6.4 .75 3.4 .75-4.1 .75 .4 .75 3.7 .75 .4 .75-6 .75 17.6 .75-10.3 .75-7.4 .75 16 .75-11.2 .75 8.3 .75-2.9 .75 2.1 .75-.1 .75-4.2 .75 4.3 .75 12.8 .75-26.1 .75 14.7 .75 2.8 .75-8.8 .75-1.5 .75 22.2 .75-15.1 .75 15.5 .75-9.1 .75-2.3 .75 2.9 .75 1.4 .75 3.8 .75-4.1 .75-1.4 .75 .7 .75 7.6 .75-2.8 .75-10.7 .75 2.7 .75 6.3 .75-5.3 .75 1.9 .75-3.1 .75 4.7 .75 4.5 .75 3.9 .75-5.5 .75 12.8 .75-12.5 .75 20.1 .75-12.8 .75-2.6 .75-5.6 .75-13.5 .75 16.4 .75 2.4 .75 10.9 .75-19.4 .75 20.1 .75-12.5 .75 6.2 .75-19 .75 16.4 .75-2.5 .75 6.5 .75-3.1 .75-6.9 .75 12.8 .75-1.1 .75-.2 .75 2.9 .75 .9 .75-6.2 .75-7.4 .75 .2 .75 16.5 .75-3.3 .75-3.2 .75-2.7 .75 3.1 .75 .4 .75-1.7 .75-1.7 .75 17.1 .75-10.9 .75-4.4 .75-3.6 .75 3.7 .75 8.8 .75 .6 .75-5.2 .75 1.9 .75-1.8 .75-4.3 .75 14.2 .75-5.1 .75 12.4 .75-18.4 .75 3.8 .75 6.1 .75-6.3 .75-6.3 .75 2.7 .75 6.3 .75 1.6 .75-2.3 .75 6.5 .75 .2 .75-3.6 .75-1.5 .75-1.4 .75 4.9 .75 2.3 .75-4.7 .75 2.5 .75-4.2 .75-6 .75 2.7 .75 10.3 .75-1.5 .75 6.8 .75-8.4 .75 4.9 .75 3 .75-1.6 .75-8.7 .75 2.7 .75 2.2 .75-6 .75 8.6 .75 3.4 .75-8.1 .75 14.1 .75-12.4 .75 .9 .75 .1 .75-2.3 .75 6.7 .75-1.9 .75 9.5 .75-5.6 .75-.1 .75-3.9 .75-6.4 .75 7.7 .75-3.9 .75 10.3 .75-5.2 .75 9.7 .75-4.9 .75 .8 .75-3.1 .75 .1 .75 2.7 .75 1.8 .75-8.8 .75 6.9 .75 12 .75-14.7 .75-.6 .75-2.2 .75-3.9 .75 14.8 .75-6 .75 1.6 .75 8.7 .75 3.9 .75-18.4 .75 10.8 .75-2.1 .75-1.1 .75 .6 .75-2.6 .75 9 .75-5.2 .75-1.3 .75 5.1 .75-1.8 .75-2.2 .75-.6 .75 8 .75-6.7 .75-3.1 .75-4.1 .75 3 .75-3.7 .75 6.5 .75 .9 .75-12.4 .75 11.5 .75 3.6 .75-2.5 .75-5.9 .75 12.3 .75-10.4 .75-2.7 .75 1.1 .75 6 .75 5.6 .75 1.3 .75-4.9 .75-7.4 .75 3.2 .75-1.1 .75 4.2 .75-8.4 .75 10.4 .75 3.1 .75-4 .75 3.5 .75-7.3 .75-2.6 .75 4.6 .75 9.8 .75-.6 .75-7.8 .75 9.1 .75-8.1 .75 10 .75-5.3 .75-4.9 .75 6.8 .75-8.2 .75-.7 .75-2.6 .75 9.2 .75-1.5 .75 .1 .75-1.7 .75 10 .75-9.7 .75-1.5 .75 10.6 .75 1.1 .75-5.6 .75-10.9 .75 6.2 .75 6.6 .75-3 .75 8.3 .75-15.3 .75 11 .75-6.8 .75 10.5 .75-7.3 .75 6 .75-8.7 .75-3.9 .75 1.8 .75 2.8 .75-2.1 .75 11.9 .75 .9 .75-5.5 .75-6.7 .75 4.9 .75-2.8 .75 11.4 .75-5.8 .75 1 .75-4.5 .75-8.3 .75 6.6 .75-1.7 .75 7.9 .75-1.4 .75-4.6 .75 2.2 .75 10.3 .75-13.2 .75 .2 .75 3.7 .75-2.4 .75 1.4 .75 5.1 .75 6.3 .75-18.4 .75 9.3 .75 .4 .75-.7 .75-.5 .75-.7 .75 7.1 .75-7.7 .75 1.8 .75 .7 .75 .6 .75-1.4 .75 6.2 .75-5.3 .75 1 .75-1.1 .75-5 .75 1 .75-1.1 .75 6.5 .75-4.7 .75-1.8 .75 6.9 .75 1.5 .75-11.9 .75 18.1 .75-8.7 .75-.6 .75 6.1 .75-5.2 .75-3.4 .75 14.6 .75-17 .75 5.1 .75 5 .75-10 .75 5.1 .75 2.6 .75 10.5 .75-17.1 .75 4.4 .75 3.8 .75-3 .75-6.7 .75 8.4 .75-1.6 .75 1.8 .75 3.5 .75-.6 .75-3.2 .75-.6 .75-7.3 .75 5 .75 1.8 .75-3.3 .75 2.6 .75-4.9 .75 12.3 .75 3.2 .75-13.3 .75 4 .75-3.3 .75 7.8 .75-4.4 .75-1.9 .75-1.6 .75 1.8 .75-5.9 .75 8.7 .75-7.3 .75 6.5 .75-2.2 .75 5 .75-5.8 .75 5.4 .75-10.2 .75 7.9 .75-4.4 .75 2.2 .75-.7 .75 4.5 .75-15.5 .75 12.2 .75-9.5 .75 14.1 .75-16.7 .75 5 .75-3.5 .75 17.3 .75-15.4 .75 7.3 .75-3.4 .75-6.7 .75 7.6 .75 5.3 .75-4.5 .75 5.8 .75-6.8 .75 1.9 .75-2.1 .75 3.8 .75 8.1 .75-8.1 .75-.9 .75-4.3 .75-.8 .75 11.6 .75-13.5 .75 1 .75 4.2 .75-1.8 .75 12.5 .75-22.7 .75 14.3 .75 1.8 .75-9.7 .75 2.5 .75 5.6 .75 6.2 .75-13.4 .75-3.5 .75 13.4 .75 2.8 .75-9.8 .75-9.9 .75 19.3 .75-8.8 .75 7 .75-6.2 .75-1.8 .75-.4 .75 10 .75-.2 .75-18.8 .75 6.2 .75 14.3 .75-11.3 .75-5.3 .75 7.1 .75-.6 .75 0 .75-2.1 .75 .8 .75-.8 .75 4.1 .75-6.1 .75 2.7 .75 .7 .75 7.5 .75-5 .75-2.6 .75 3.3 .75-.7 .75 3.5 .75-3.1 .75 6.7 .75-2.5 .75-7.4 .75-2 .75 6.8 .75-2 .75-3.3 .75-7.4 .75-2 .75 11.5 .75 2.1 .75 .1 .75-11.1 .75 12.2 .75-8.4 .75 4.8 .75 .1 .75-6.5 .75 1 .75-7.9 .75 6 .75-4.7 .75 11.8 .75-2.1 .75 4.5 .75-3.1 .75-5.3 .75 5.1 .75-4 .75 5.3 .75-1.6 .75-7 .75 5.2 .75 .2 .75-2 .75 6.4 .75 4.3 .75-11.1 .75 0 .75-10.1 .75 11.2 .75-1.7 .75-9.2 .75 13 .75 1.6 .75-7.1 .75 1.9 .75-3.2 .75 9.2 .75-12.2 .75 6.4 .75 12 .75-10.2 .75 2.2 .75-3.3 .75-5.5 .75 6 .75 2.3 .75-7.6 .75 7.2 .75 4.8 .75-1 .75-14.2 .75 3.2 .75-3.4 .75 14.3 .75-2.5 .75 .4 .75-8.4 .75-1.6 .75 6.6 .75 .1 .75-5.2 .75 5.3 .75 2.7 .75-2.3 .75-6.8 .75-5.8 .75 9.9 .75 2.2 .75-2.4 .75-1 .75-1.5 .75 7.5 .75-4.2 .75 .8 .75-6 .75 1.8 .75 4.1 .75-6.4 .75-1.5 .75 4.9 .75 8.1 .75-5.5 .75 6.7 .75-8.7 .75-1.1 .75-5.9 .75 4.3 .75 10.7 .75-6.1 .75 2.1 .75-.3 .75-3.9 .75-1.2 .75 1.6 .75 2.9 .75-1.3 .75 .1 .75-1.9 .75-5.1 .75 2.6 .75-3.8 .75 10.4 .75-16.9 .75 10.1 .75 14 .75-14.9 .75-4.4 .75 5.9 .75 7 .75-8 .75 4.1 .75-2.9 .75-2.7 .75 19 .75-16.7 .75-3.4 .75 .1 .75 4.7 .75 .1 .75 1.9 .75-3.5 .75-8.5 .75 10.6 .75-4.6 .75 .1 .75-6.6 .75 4.9 .75-.8 .75 3.7 .75-7.8 .75 8.2 .75 .3 .75-6.8 .75 2.7 .75-1.3 .75 9.5 .75-18.7 .75 11.9 .75-7.2 .75 6.6 .75 6.9 .75-8 .75 4.1 .75-5.4 .75 15.1 .75-5.6 .75 1.1 .75-13.4 .75 1.2 .75 11.9 .75-7 .75-.4 .75 3.2 .75-8.7 .75 11 .75-4.1 .75 2.4 .75-6.3 .75 6.4 .75-6.6 .75 9 .75 .9 .75-1.2 .75-2.2 .75 .7 .75-18.2 .75 19.3 .75-6 .75 2 .75-2 .75-6 .75 4.7 .75 6.5 .75 4.2 .75-11.1 .75-1.5 .75 12.9 .75-12.7 .75 16.2 .75-11 .75-5.1 .75 10.3 .75 3.8 .75-16.9 .75 16.3 .75-10 .75 9.7 .75-10.2 .75-6.4 .75 11.3 .75 2.4 .75 6.4 .75-2 .75-5.6 .75-5 .75-1.5 .75 1.3 .75-2.9 .75 3 .75-12.3 .75 14.9 .75-1.1 .75 14.1 .75-9.8 .75-6.7 .75 5.8 .75-9.7 .75 3.4 .75-6.8 .75 17.9 .75-4.5 .75-9.6 .75 6.1 .75 5.5 .75-2.5 .75-.6 .75-6.7 .75 1.2 .75 3.9 .75 4.5 .75-9.5 .75-1.6 .75 12.3 .75-11.2 .75 10.9 .75-4.6 .75 3.5 .75 4.7 .75-5.7 .75 .4 .75-9.2 .75 1.3 .75 7.2 .75 4.9 .75-.8 .75 5 .75-10.9 .75-.6 .75 4.4 .75-5.4 .75-.4 .75-5.4 .75 11.1 .75-11.2 .75 8.6 .75-10.5 .75 13.7 .75-11.6 .75 10.2 .75-13.2 .75 6.2 .75 8.8 .75-10.7 .75 4.7 .75-3 .75-9.9 .75 14.2 .75 .7 .75-8.4 .75 9.2 .75-7.4 .75-1.1 .75 5.5 .75-3.7 .75 16.2 .75-20.9 .75 12.5 .75 1.4 .75-16.1 .75 1.4 .75 12.5 .75-5.6 .75 4.7 .75 4.1 .75-8.1 .75-3.7 .75-9 .75 15.9 .75-6.1 .75 6.8 .75-.4 .75-8.7 .75 16.8 .75-3.4 .75-1.2 .75-11 .75 4.2 .75-.7 .75 .8 .75-3.8 .75 8.4 .75-1 .75 .7 .75-4.6 .75 9.7 .75-5.9 .75-15.8 .75 11.4 .75 3.2 .75 5.5 .75-6.8 .75 .3 .75-2.1 .75 7.2 .75-6 .75-.9 .75-.7 .75 7 .75-5.9 .75-6.3 .75 12.4 .75-7.2 .75 5.7 .75 0 .75 4.4 .75-.9 .75-8.9 .75 2.2 .75-6.2 .75 16 .75-6.8 .75 5.1 .75-9.4 .75-9.4 .75 19.3 .75-7.8 .75 .1 .75-.5 .75 3.1 .75-.7 .75-11.6 .75 14.5 .75-8.8 .75 .2 .75 11.9 .75-4.5 .75-6.9 .75-8.3 .75 10.9 .75 1.9 .75-3.4 .75-6.5 .75 2.4 .75-2.6 .75 7.8 .75 3.1 .75 .9 .75-9.9 .75 4.8 .75 1.2 .75-6.4 .75 1.2 .75 11.7 .75-11.4 .75 2.9 .75-8.1 .75 2.1 .75-10.1 .75 9.3 .75 7 .75 5.5 .75-4.3 .75-1.8 .75-2.4 .75-2.4 .75 3.7 .75 5.3 .75-6.5 .75 10.2 .75-9.6 .75-3.6 .75 4.8 .75-3 .75 2 .75 13.9 .75-6.8 .75 2.6 .75 5.4 .75 1 .75-9 .75 10.3 .75-4.5 .75-1.5 .75 2.9 .75-9.3 .75 4 .75 4.2 .75 4.4 .75-4.6 .75 1.9 .75 6.4 .75 2.9 .75-2.8 .75 3.2 .75-8.1 .75 1.1 .75 3.8 .75-2.6 .75-.5 .75 11.7 .75-9 .75-3.5 .75 8 .75 7.3 .75-8.7 .75 6.2 .75-8.2 .75 0 .75-.8 .75 3 .75 10.3 .75-15 .75 14.5 .75-13.3 .75 4.2 .75 5.6 .75-.8 .75-1.5 .75-9.6 .75 10.4 .75-6.8 .75 18.4 .75-13.8 .75 2.2 .75-6.5 .75 3.6 .75-3.8 .75 11.6 .75-6 .75 4.4 .75-6.1 .75 1.2 .75 9.2 .75-11.1 .75-4 .75 11.3 .75-7.5 .75 3.7 .75 7 .75-8.4 .75 8.7 .75-7.6 .75 11.1 .75-.6 .75-8.7 .75 1.5 .75-2.9 .75 5.3 .75 4.9 .75-12.7 .75 11.9 .75-11 .75 2.4 .75-4.5 .75 19.3 .75-10.1 .75 1 .75-4.5 .75 8.7 .75-15.7 .75 10.6 .75 10.8 .75-12.8 .75 2 .75 3.3 .75-7.3 .75 4.2 .75 4.7 .75-3.8 .75 .9 .75-3.5 .75 3.3 .75-1.2 .75 6.9 .75-3.6 .75-4.7 .75-10.9 .75 15.7 .75 .2 .75-8.2 .75-5.3 .75 4.3 .75 10.2 .75-9.8 .75 3.1 .75 3.4 .75 5 .75-6.1 .75-.4 .75-2.2 .75 10.8 .75-2.7 .75-5.7 .75-6.4 .75 3 .75 6.8 .75-6.4 .75 7.9 .75-2.6 .75-.4 .75 1.8 .75-.9 .75-6.7 .75 2.5 .75 13.1 .75-17.6 .75 3.6 .75 7.5 .75-6.1 .75-3.3 .75-2.6 .75 9.1 .75 2.3 .75 1.8 .75-6.7 .75 4.8 .75-10.3 .75 5.8 .75-4.3 .75 4.1 .75 2.7 .75 1.4 .75-10.4 .75 11 .75-9 .75-3.1 .75 3.9 .75-6.8 .75 7 .75 1 .75-2.8 .75 3.3 .75-4.6 .75 1.2 .75-7.6 .75 7.1 .75-4.9 .75 1.6 .75 1.4 .75 1.1 .75-9.7 .75 .1 .75 6 .75 3.6 .75-.9 .75 2.4 .75 1.7 .75-4.4 .75-2.9 .75-5.4 .75 .2 .75 2.2 .75 3.5 .75-.5 .75-1.4 .75-1 .75 3.7 .75-2.4 .75 .2 .75-.2 .75-4.6 .75-2.8 .75 7.6 .75-.6 .75-3.5 .75-1.3 .75 13.7 .75-16 .75 2.6 .75 2.2 .75-7.6 .75 6.5 .75 8.5 .75-4.6 .75-1.6 .75-.3 .75-2.4 .75 4.5 .75-5.7 .75-1.2 .75 2.9 .75 4.4 .75-2.7 .75 2 .75-13.6 .75 17 .75 6.3 .75-4.8 .75-8.2 .75-2.2 .75 6.2 .75-6.1 .75 9.3 .75-6 .75 8.1 .75 2.5 .75-16.9 .75 12.3 .75-4.6 .75-3.2 .75 4.5 .75 2.5 .75 6.8 .75-12.5 .75 13.4 .75 5.3 .75-6.7 .75 .1 .75-2.4 .75-5.5 .75 8.9 .75-.4 .75 2 .75 9.5 .75-8.9 .75-1.2 .75 6 .75-14.2 .75 1.3 .75 4.1 .75-1 .75 6.9 .75-4.7 .75 10.5 .75-.8 .75-3.4 .75-5.4 .75 5.2 .75 1.3 .75-8.9 .75 7.3 .75 2 .75-2 .75 6.9 .75-1.4 .75-9.6 .75 5.1 .75-4.4 .75 7.3 .75-6.6 .75 9 .75-2.2 .75 3.2 .75-5 .75-6 .75 15.9 .75-8.9 .75 7.8 .75-4.2 .75 1.5 .75 5.9 .75-6.8 .75 5.4 .75-13.5 .75 11.5 .75-5.2 .75 .6 .75 .6 .75 1.6 .75 6.1 .75-16.9 .75 8.8 .75-3.8 .75 8.8 .75-7.9 .75 4 .75-4.3 .75 4.9 .75 1.4 .75-7 .75 1.9 .75-7.3 .75 8.1 .75 2.5 .75-7.1 .75 7.9 .75-15.7 .75 .8 .75 2 .75 4.1 .75 2.1 .75-.8 .75-.3 .75 3.5 .75-6.2 .75-4.2 .75-.3 .75 16.1 .75-22.3 .75 10.3 .75 7.7 .75-5 .75-6.7 .75 3.9 .75 4.1 .75 1.7 .75-10.3 .75 8.2 .75-2.3 .75 4.3 .75 1.6 .75-8.3 .75-5.3 .75 9.3 .75 6.9 .75-5.1 .75-2.1 .75 10.8 .75-16.6 .75 9.8 .75-6.9 .75 3.4 .75 .7 .75 7.5 .75-11.2 .75 2.7 .75-4.2 .75 10.9 .75-3.6 .75 5.2 .75-6.1 .75 4.4 .75 7.6 .75-4.8 .75 4.7 .75 .4 .75-3.2 .75-4.8 .75 12.5 .75-3.1 .75 4.4 .75-13.2 .75 2.2 .75-1.7 .75 6.3 .75 9.3 .75-1.6 .75-2.2 .75 1.2 .75 3.4 .75-4.3 .75 3.7 .75-.6 .75-9.9 .75 8.6 .75 8.3 .75-7.3 .75 1.6 .75-1.6 .75 1.1 .75 7.5 .75-5.7 .75-2.9 .75-8.8 .75 11.5 .75-5.8 .75 .9 .75 11.8 .75-.1 .75-11.1 .75 12.3 .75-1.4 .75-5.1 .75 6.9 .75-9.9 .75 2.1 .75-.7 .75 1.7 .75 8.9 .75-9.2 .75 1.1 .75 1.1 .75 5.3 .75-2.1 .75 5.5 .75-6.5 .75-2.2 .75 3.6 .75 2.5 .75-3.9 .75 5.4 .75 6.8 .75-10 .75 2.9 .75 5.7 .75-8.2 .75-.6 .75-.9 .75 6.6 .75 .7 .75-2.6 .75 1 .75 5.4 .75-1.5 .75-9.3 .75 6.1 .75 .7 .75 2.7 .75-3.7 .75-1.6 .75 1 .75-5.4 .75 7.5 .75-2.2 .75 4.6 .75-6.1 .75 2.6 .75-2.1 .75-.2 .75 7.5 .75-4.7 .75 3.9 .75-6.3 .75 5.1 .75-7.2 .75 5.2 .75 0 .75 4.6 .75-1.5 .75-1.3 .75 4.3 .75-2.5 .75 1.6 .75 1.1 .75-3.3 .75-.8 .75 2.7 .75-2.9 .75 3.4 .75 3.1 .75-.9 .75-4.9 .75-3.5 .75 5.2 .75-.2 .75 5.2 .75-5.9 .75 .9 .75 3.9 .75-4.7 .75 1.4 .75 7.7 .75-.7 .75-3.4 .75-1.3 .75-4.9 .75 6.3 .75-1.9 .75 .8 .75-2.9 .75 2.1 .75-.6 .75 2.1 .75 4.5 .75-4.2 .75-8 .75 2.8 .75-2.4 .75 3.3 .75 5.5 .75-.6 .75-3.9 .75 3.5 .75-4 .75-2.6 .75 .2 .75 2.2 .75 9.2 .75-11 .75 10.4 .75 .4 .75-6 .75 .5 .75-2.2 .75 2.4 .75 2.7 .75-2.6 .75 4 .75 .7 .75-3.4 .75 0 .75-1.6 .75 1.7 .75-5.9 .75 6.1 .75-.8 .75-4.3 .75 12.1 .75-12.5 .75 .4 .75 4.6 .75-8.9 .75 4.5 .75-2.9 .75 2.1 .75 3.3 .75 1.7 .75 3 .75-1.3 .75 1.4 .75-2.6 .75-4.4 .75 6.3 .75-6.6 .75-.7 .75 8.5 .75-3.2 .75-2.4 .75 2 .75 .4 .75-9.2 .75 4.9 .75-4.5 .75 5.1 .75-3.4 .75 8.1 .75-3.6 .75-5.5 .75 3 .75-5.1 .75 4.9 .75 1.9 .75-1.4 .75-9.2 .75 6.3 .75 3.3 .75-1.1 .75 3.3 .75-10.3 .75 7.2 .75-5 .75 3.2 .75 .7 .75 .9 .75-5.4 .75 2.9 .75-5.9 .75-1.2 .75 7.9 .75-2.8 .75-6.9 .75 2.8 .75 3.2 .75 6 .75-2.7 .75-1.6 .75-11.5 .75 6.4 .75 1.8 .75-1 .75-.6 .75-3.4 .75 7.9 .75-1.9 .75-7.5 .75-4.5 .75 12.5 .75-12 .75 7 .75 2.4 .75-13.2 .75 4.8 .75-3.6 .75 3.1 .75-1.7 .75 6.5 .75-7 .75-3.7 .75 4.1 .75-7.5 .75-1.5 .75 10.7 .75-15.2 .75 .3 .75 1.3 .75-6.4 .75-6.1 .75 13.6 .75-9.8 .75-.1 .75-.4 .75-4.1 .75-1.7 .75 4.7 .75 9.7 .75-9.2 .75-1.1 .75-12.2 .75 6.2 .75-6.8 .75 8.7 .75-5.9 .75 .5 .75-1.5 .75-3.2 .75-5.5 .75 9.8 .75-10.7 .75 .3 .75 3.7 .75-2.9 .75 4.2 .75 3.1 .75-4.6 .75-.9 .75-1.6 .75 3.8 .75-14.3 .75 11.2 .75-6.8 .75-1.4 .75 6.8 .75-1.6 .75 5.6 .75 3.3 .75-16.8 .75 12.3 .75 11.1 .75-4.8 .75 3.6 .75-6 .75-7 .75 2.3 .75 9.9 .75 2 .75-7.8 .75 2.9 .75 3.3 .75-9.5 .75 7.4 .75 10.1 .75 3.1 .75-11.1 .75 9.9 .75-11.4 .75-1.2 .75-6.8 .75 16 .75-6.4 .75 13.6 .75-9.6 .75-.5 .75-9.6 .75 16.5 .75-8.9 .75 1.2 .75-9.8 .75 15.6 .75 .6 .75-7.5 .75 3.8 .75 2 .75 3.3 .75-3.5 .75 8.6 .75-8.7 .75-.9 .75 1.6 .75-8.9 .75 9.2 .75 9.6 .75-2.6 .75-4.1 .75 6.5 .75-10 .75 9.1 .75 4.8 .75 1.9 .75-5.8 .75 8.8 .75 5.4 .75-9.4 .75 6.4 .75-9.4 .75-.7 .75 12.6 .75-1.5 .75 1.7 .75-2.4 .75 2.4 .75 5.8 .75 5 .75-7.4 .75-5.2 .75 13.5 .75-2 .75 1.2 .75-1.3 .75 9.8 .75-8.8 .75 2.5 .75-9.2 .75 6 .75 .2 .75 3.5 .75 2.2 .75-3.9 .75 10.9 .75-10.8 .75 3.2 .75 3.5 .75-5.4 .75 8.1 .75 .9 .75-3.1 .75 9.5 .75-6.7 .75 1.4 .75-4.4 .75-2.4 .75 4.6 .75 1.6 .75-.2 .75 5.1 .75-12.2 .75 5.2 .75-2.5 .75 12.7 .75-7.3 .75 .4 .75-2.1 .75 8.1 .75-4.9 .75 2.7 .75-8.6 .75 12.7 .75-2.8 .75 .9 .75 2.9 .75-5.4 .75 .3 .75 3.7 .75-.9 .75-2.4 .75 1.2 .75-1.9 .75 4.9 .75 1 .75-3.5 .75 7.4 .75-13 .75 5.2 .75 7.6 .75-8 .75-4.4 .75 11.6 .75-3.1 .75-6.5 .75 7.7 .75-6.7 .75-1.1 .75 4.7 .75-1.1 .75-2.2 .75 2.9 .75-2.3 .75 4.1 .75-.2 .75 3 .75-4.5 .75-3.3 .75 0 .75 4.1 .75 6.8 .75-2.6 .75-5.7 .75 6 .75-8 .75 8.3 .75-5.3 .75 4.4 .75-.6 .75-3.4 .75 2.3 .75-5.3 .75 3.8 .75 4.3 .75 11.5 .75-12.9 .75-2.3 .75-4.2 .75 7.9 .75-10.3 .75 3.2 .75 4.4 .75-5.9 .75 10.4 .75-1.7 .75-6.3 .75 0 .75-2.9 .75-.3 .75 7 .75 .7 .75-1 .75-.3 .75-3.2 .75 3.5 .75-6.9 .75 5.6 .75 5.5 .75-.5 .75-6.8 .75 .5 .75 6.5 .75 1.5 .75-12.4 .75 4 .75 2.5 .75 3.8 .75-7.8 .75 5.6 .75-3.6 .75 10.2 .75-7.4 .75-2.2 .75-.7 .75 5.3 .75-1.5 .75-6.7 .75 5 .75-5.9 .75 2.2 .75-2.1 .75-.1 .75 2.4 .75-1.1 .75 5.8 .75 1 .75-4 .75-3.3 .75 7.3 .75-10.7 .75 .3 .75 10.1 .75-.3 .75 1.2 .75-4.5 .75-3.9 .75 2.8 .75 4.1 .75-5.1 .75 .3 .75-2.6 .75 .8 .75 7.6 .75-1.4 .75-6.2 .75 .4 .75 1.9 .75 4.2 .75-6.5 .75 3.8 .75-7.5 .75 3.4 .75 6.4 .75 1.8 .75-7.7 .75 1.4 .75 6 .75-4.5 .75-.5 .75 4 .75-1.2 .75 3.5 .75-1.2 .75-5.2 .75 1.8 .75 .2 .75-4.9 .75 1.5 .75 7.4 .75-9.7 .75 9.8 .75-2.6 .75-1.6 .75 2.6 .75-.3 .75 2.8 .75-6 .75 .6 .75 0 .75 8.1 .75-3.6 .75-7 .75 2.2 .75-1.4 .75 2.8 .75 .8 .75 7.8 .75-15.5 .75 10.8 .75-2.2 .75-4.3 .75 2.1 .75-1.3 .75 2.1 .75 3.6 .75-9.5 .75 10.7 .75-6.3 .75 7.1 .75-4.1 .75 3.1 .75-2.5 .75 2 .75-3.9 .75-3.3 .75 5.7 .75 .2 .75 5.2 .75-15.4 .75 6.8 .75 4.8 .75-8.7 .75 3.8 .75 8.9 .75-2.6 .75-8.7 .75 8.7 .75-.8 .75-1.6 .75-1.4 .75-.5 .75-4.2 .75 1.4 .75 4.7 .75-2.2 .75 6.4 .75-8.2 .75-7.7 .75 7.8 .75 2.3 .75 .4 .75-1.2 .75-3.3 .75 8.7 .75-8 .75 5.1 .75-3.7 .75-3.4 .75 9.8 .75-14.7 .75 6.3 .75 4.8 .75-2.9 .75 4.1 .75-3.1 .75-1.3 .75 9.8 .75-8.9 .75 .2 .75-3.4 .75 1.2 .75 5.3 .75-.3 .75-2.1 .75-2.7 .75 5.2 .75-8.9 .75 5.1 .75 .3 .75-2.2 .75 3.8 .75-3.1 .75-.5 .75 9.7 .75-3.9 .75 1.7 .75-4.3 .75 3.4 .75-.7 .75 1.6 .75 4.4 .75-9.7 .75 1.8 .75-1.2 .75-12.9 .75 7.9 .75 5.3 .75 2.3 .75-4.5 .75 6.4 .75 .5 .75-6.3 .75 6.9 .75 1.2 .75-4.8 .75-5.4 .75 9.1 .75-6.1 .75-.8 .75 1.9 .75-2.5 .75 6.1 .75-1.1 .75 1.6 .75-2.4 .75-5.1 .75 2.4 .75 3.8 .75-4.8 .75 12.5 .75-11.9 .75-1.2 .75 6.4 .75-1.5 .75-2.9 .75-.7 .75 2.4 .75 1.6 .75-.3 .75-4 .75 2.8 .75 1.5 .75-.3 .75-14.4 .75 8.2 .75 .5 .75 2 .75 1.5 .75 2.8 .75-1.1 .75-2.8 .75 .5 .75 6.5 .75-8.8 .75 3.4 .75 4.7 .75-4.6 .75-8.9 .75 9.1 .75-2.9 .75 1 .75 4.4 .75-2.2 .75-2.7 .75 4.3 .75-1.7 .75-1.3 .75 .8 .75-.2 .75-2.2 .75-.5 .75 1.8 .75-3.6 .75-1.2 .75 9.6 .75-5.7 .75 .8 .75-.5 .75 .6 .75 0 .75 .2 .75-3.3 .75 6.5 .75-6 .75 6.4 .75-11 .75 3.2 .75 7.7 .75-4.3 .75-2 .75 4 .75-5.4 .75 4.2 .75-8.5 .75 6.6 .75-.8 .75 4.5 .75 1.2 .75-6.4 .75 9.2 .75-8.3 .75-5.4 .75-1.2 .75 14.6 .75-6.1 .75-2.1 .75-.3 .75-1.3 .75 9.1 .75-5.4 .75 7 .75-7.4 .75-8 .75 11.9 .75-4.5 .75 .5 .75 6.7 .75-6.9 .75 5.4 .75-4.4 .75-2.8 .75 4.7 .75-4.2 .75 6.8 .75-1 .75-3.4 .75 2.1 .75-.2 .75-3.2 .75 4.4 .75-4.3 .75 3.2 .75-5.9 .75 3.9 .75 1.2 .75-4.6 .75 1.4 .75-.4 .75 4.7 .75-5.5 .75 4.4 .75 4 .75-4.4 .75-7.4 .75 6.5 .75 3.4 .75-5 .75 5.3 .75-1.9 .75-.8 .75-2.5 .75-1 .75 1 .75 1.1 .75 1.7 .75-.4 .75-2.7 .75 1.4 .75 1.2 .75-7.6 .75 3.2 .75-.1 .75 2.2 .75-.3 .75 0 .75-2.3 .75 5.8 .75-1.5 .75-7.2 .75 6.2 .75-4.3 .75 10.6 .75-8.2 .75 .3 .75 1.7 .75-1 .75 .5 .75 6 .75-5 .75 2.3 .75 1.1 .75-8 .75 10 .75-3.7 .75 1 .75-6.9 .75 6.3 .75-1.6 .75-3.5 .75 10.6 .75-6.5 .75-3.1 .75 1.6 .75 2.7 .75 .8 .75-2.1 .75 2.4 .75 1 .75-10.3 .75 2.8 .75-1.7 .75 3.9 .75 5.1 .75-3 .75-6.5 .75 2.9 .75 4.9 .75-5.9 .75 1.6 .75 1.5 .75-8 .75 9.8 .75-1.7 .75 .9 .75-5.9 .75 .8 .75 .6 .75 3.2 .75-.7 .75 .2 .75 6.3 .75-1.9 .75-7.7 .75 .3 .75 8.9 .75-7.7 .75 6.4 .75 .8 .75-8.1 .75 1 .75 1.3 .75-3.6 .75-.4 .75 2.1 .75 4.7 .75-4.9 .75 .9 .75-1 .75-3.4 .75 10.7 .75-14.5 .75 6.4 .75 4.6 .75-7.4 .75 7.5 .75 2.5 .75-8.1 .75 4.1 .75-5.1 .75 6.2 .75-1.6 .75 .4 .75 4.4 .75-3.5 .75 3.3 .75-2.7 .75-6.9 .75 5.5 .75 .8 .75-7.3 .75 10.5 .75-4.8 .75 1.1 .75-4.8 .75 3.6 .75 .9 .75-2.4 .75 1.5 .75-8.4 .75 13.2 .75-9.4 .75-4.1 .75 4.7 .75 .4 .75 5.2 .75-5.5 .75 4.5 .75-4.7 .75 12 .75-6.4 .75 5.4 .75-11.3 .75 6.3 .75-6.1 .75 5.8 .75 .3 .75-8.6 .75 1.7 .75-.1 .75-1.3 .75 2.9 .75-.9 .75-1.9 .75 5.9 .75 1.7 .75-7.2 .75 2.9 .75 2.1 .75-.9 .75-1.9 .75 5.8 .75 0 .75-.7 .75-3.4 .75 8.3 .75-1 .75-8.2 .75 1 .75 4.9 .75-7.6 .75 4.5 .75-1.4 .75-3 .75 1.8 .75-5.2 .75 3.9 .75-5.7 .75 16.4 .75-3.1 .75-1.1 .75-3.6 .75 2.6 .75 1 .75-1.1 .75-.4 .75-7.1 .75 5.1 .75-3.8 .75-2.5 .75 .1 .75 5.9 .75 2.4 .75-9.4 .75 11.9 .75-1.1 .75-7.2 .75-.4 .75 1.5 .75 4 .75-5.4 .75-2.8 .75 5.5 .75-9.4 .75 8.5 .75 3.9 .75-3.4 .75 1.8 .75-1.2 .75 .9 .75-2.4 .75-3.8 .75 2.3 .75 .5 .75 5.2 .75 1.4 .75-4.7 .75-4.6 .75 .1 .75 2.1"/>
<path stroke="#990000" d="M172.5,212.3l.75-10.1 .75-3.6 .75-6.5 .75 16.6 .75-5 .75-2.5 .75 2.6 .75 16.5 .75-16.7 .75 19.3 .75-3.1 .75-10.2 .75 9.4 .75-8.4 .75-5.4 .75 6.7 .75-4.8 .75 15 .75-3.5 .75 6.6 .75 3.7 .75-36.5 .75 34 .75-19 .75 20 .75-8.8 .75 10.4 .75 13.1 .75-28 .75 19.1 .75-1.4 .75-16.1 .75 25.2 .75-4.7 .75-4 .75-.9 .75 38.2 .75-32.8 .75-12.1 .75 9.3 .75 6.4 .75 1 .75 4 .75-7.9 .75 16 .75-8.4 .75-6.9 .75 6.3 .75 5.3 .75 12.7 .75-2.1 .75-6.3 .75 4.6 .75 3.1 .75 18.2 .75-23.2 .75 11.3 .75 3.7 .75-14.1 .75 11.8 .75 1.1 .75-4.5 .75 10.8 .75 5.5 .75 2.2 .75-10.7 .75 4.7 .75 20.9 .75-30.1 .75 13.3 .75 7.2 .75-5.5 .75 5.6 .75-3.3 .75 6.2 .75 5.7 .75-12.5 .75 4.7 .75-1.4 .75-2.1 .75 4.3 .75-9 .75 17.8 .75 9.4 .75 1 .75-2.9 .75-19 .75 23 .75-18.9 .75 6.8 .75 17.8 .75-24.9 .75 17.9 .75-4 .75-2.8 .75-5.4 .75 12.5 .75-6.7 .75 14.4 .75 2.7 .75-21.7 .75 8.9 .75 2.8 .75-6.4 .75 1.8 .75 11.7 .75-1.4 .75-11.4 .75 10.9 .75 10.4 .75-13.8 .75 3.6 .75 22.9 .75-1.1 .75-24.2 .75 3.5 .75 16 .75-12.3 .75 9.1 .75-.7 .75 9.6 .75-25.7 .75 3.6 .75 9 .75 19.6 .75-9.4 .75-12.8 .75 19.2 .75 2.2 .75-7.7 .75-.3 .75 7 .75 7 .75-8.6 .75 3.7 .75-4.5 .75-2.5 .75-4.1 .75 10.4 .75-4.3 .75 .9 .75 10.4 .75-3.3 .75 3.8 .75-20.2 .75 18.7 .75-9 .75-1.1 .75 .5 .75 18.2 .75-2.3 .75-12.1 .75-2.6 .75 10.6 .75-3 .75 18.7 .75-25.1 .75-2.1 .75 14.1 .75 3.1 .75 2 .75 6.1 .75 11.9 .75-19.1 .75-.7 .75-9.1 .75 17.5 .75 6 .75-8.2 .75 12.8 .75-8.6 .75 13.1 .75-8.9 .75-10.5 .75 4.3 .75-6.6 .75-.8 .75 17.2 .75 5.8 .75 9.7 .75-15.6 .75-.7 .75-6.2 .75 17.8 .75-4 .75-7.2 .75 11.2 .75-.2 .75-18.8 .75 21.9 .75-4 .75-3.5 .75 .7 .75 18.2 .75-.8 .75 3.2 .75-23 .75 4.9 .75 13.4 .75-16 .75 4.9 .75-7.7 .75 30.1 .75-5.3 .75-3.9 .75-1 .75-4.1 .75 1.1 .75 8.8 .75-9.7 .75 16.1 .75-12.8 .75-2.4 .75 17.8 .75-10.7 .75 6.1 .75-7 .75-13.8 .75 22.5 .75-14.2 .75 19.6 .75-20 .75-1.9 .75 17.6 .75 1.5 .75-1.8 .75-9.7 .75 16.9 .75-17.7 .75 8.4 .75-1.9 .75 3.8 .75 10.2 .75-10.9 .75 9.9 .75 1.6 .75-17.9 .75 4.9 .75 6.7 .75-1 .75 7.6 .75-16.5 .75 21 .75 .9 .75-6.3 .75-8.7 .75 11.3 .75-3.5 .75 9.2 .75-4.4 .75 6.9 .75-8.2 .75 15 .75-27.9 .75 10.5 .75 12.2 .75-14.5 .75 17.7 .75-14.1 .75 10.7 .75-6.9 .75 4.4 .75 5.4 .75-1.3 .75-1.2 .75 19.8 .75-15.3 .75-6.5 .75 15.1 .75 0 .75 3.8 .75 5 .75-19.5 .75 15.8 .75 1.4 .75-7.7 .75 2.7 .75-23.3 .75 18.9 .75 18.2 .75-25.5 .75 10.1 .75 6.9 .75 3 .75 8.6 .75-24 .75 14.1 .75 6.9 .75-14.9 .75 10.2 .75 15 .75-3.2 .75-4.7 .75-21.9 .75 18.9 .75 4.7 .75-4.1 .75 2.7 .75 23.7 .75-22.8 .75-4.5 .75 9.7 .75-3.1 .75 1 .75 2.5 .75 7.1 .75-2.9 .75-9.3 .75 8.6 .75 5.2 .75-5.8 .75 12.3 .75-1.8 .75-11.5 .75 10 .75 12.6 .75-2.1 .75-10.5 .75 7.5 .75-10.1 .75-4.6 .75 14.9 .75-1.3 .75 2.7 .75-2.9 .75 3.3 .75-5 .75 7.7 .75 3.3 .75-5.2 .75 6.8 .75-16.9 .75 7.5 .75 16.1 .75 2.9 .75-9.6 .75-1.8 .75-7.3 .75 11.8 .75 3.4 .75-14.7 .75 14.4 .75 .2 .75 .2 .75-10 .75 11.9 .75-13.2 .75 20.8 .75-8.5 .75-8.2 .75 17.5 .75-.7 .75-11.5 .75 19.7 .75-20.9 .75 9.4 .75 6.4 .75-22.4 .75 22.3 .75-6.5 .75 .8 .75-6.6 .75 9.9 .75-9.1 .75 1.4 .75 3.9 .75-4.7 .75 19 .75-18.7 .75 4.2 .75 3.4 .75 2.5 .75 5.7 .75 .6 .75-6.9 .75-.1 .75 3.2 .75 5.6 .75-.4 .75-7.5 .75-9.6 .75 27.9 .75-7.3 .75-4 .75 .9 .75-5.2 .75-2.6 .75 4.8 .75 1.1 .75-2.1 .75-5 .75 7.9 .75 6.2 .75-6.5 .75 3.8 .75-13.1 .75 12.5 .75 1 .75-6.7 .75-2.7 .75 14.2 .75-7.4 .75 8.8 .75-5.4 .75 7.1 .75-5.6 .75-7 .75 9.6 .75-1 .75 6.9 .75-6.4 .75 1.1 .75 8.7 .75 2.7 .75-1.7 .75 2.5 .75-2.9 .75 2.8 .75 1.5 .75-2.2 .75-1.4 .75 1.2 .75 14.8 .75-14.3 .75-1 .75-.3 .75 2.5 .75 2.2 .75-8.1 .75-4.8 .75 14.5 .75-11.4 .75 12 .75-.3 .75 6.6 .75 3.6 .75-7.6 .75-5.3 .75-3.4 .75 2.8 .75 5.5 .75-12.5 .75 13.6 .75-.1 .75 4.4 .75-5.6 .75 3.1 .75-4.6 .75 2.1 .75-7.5 .75 12 .75 9.2 .75-8 .75 1.7 .75-7.7 .75 15.1 .75-12.8 .75 10 .75-3.7 .75-6 .75 12.5 .75-5.6 .75 1.4 .75 2.2 .75-2.4 .75-1.6 .75 5.5 .75-4.7 .75 3.3 .75-3.9 .75-4.4 .75 5.3 .75 1.5 .75 3.5 .75 7.4 .75-16.6 .75 11.2 .75-13.5 .75 7.4 .75 3.6 .75-9.9 .75 2.7 .75 12.3 .75 0 .75-.7 .75-3.7 .75 17.8 .75-13.2 .75-3.7 .75 15.3 .75-5.8 .75-5.4 .75 9.6 .75-5.7 .75 3.3 .75-2 .75-6.9 .75 12 .75-4.4 .75-6.4 .75 1.8 .75 10.3 .75-7.3 .75 2.7 .75 3.9 .75-2.7 .75-9.2 .75 12.8 .75 2.1 .75-.1 .75 4.6 .75-6.8 .75 2.7 .75 5 .75-10.5 .75 12 .75 .3 .75-5.1 .75 6.4 .75-5.4 .75-9.5 .75 11.8 .75-4.4 .75 .8 .75-1.3 .75 7.1 .75-4.4 .75-6.9 .75 6.9 .75 1.6 .75-8.1 .75 1.9 .75 .4 .75-1.1 .75 5.6 .75 4 .75 5.1 .75-3.7 .75-.8 .75 .8 .75 1.3 .75-9.5 .75 6.2 .75-1.9 .75-2.3 .75-1.6 .75-.1 .75 1.5 .75-5.2 .75 10.1 .75-2.8 .75 1 .75 1.6 .75 2.4 .75-7.1 .75 3 .75-8.2 .75-3.1 .75 1.8 .75 19.7 .75-18.5 .75 13.1 .75 5.8 .75-10.5 .75 11.9 .75 1.5 .75-4.8 .75 8.2 .75-9.5 .75-7.2 .75 7.2 .75-5.1 .75-4.5 .75 .4 .75 20.1 .75-15.5 .75 3 .75-3.2 .75 4.6 .75-1.8 .75-.8 .75-4.1 .75-.9 .75 3.9 .75 5.9 .75 10 .75-5.4 .75 4.5 .75-7.1 .75-2.9 .75-6.6 .75 7.5 .75-11.5 .75 10.3 .75 10.8 .75-6.9 .75 4.6 .75-8 .75-5.3 .75 5.1 .75 .7 .75 8.9 .75 4.4 .75-14.6 .75 2.3 .75 1.3 .75-.9 .75-4.7 .75 7.5 .75 1.6 .75 .3 .75-8.4 .75 6.1 .75-8.6 .75 14.5 .75-10.2 .75 4.2 .75-.8 .75-.5 .75-2.4 .75-3.7 .75 19 .75-7.9 .75 .1 .75 9.9 .75-11.9 .75 3.5 .75-3 .75 6.2 .75-3.7 .75-1.1 .75-3.2 .75 2.8 .75 4.7 .75-17.6 .75 10.5 .75-1.7 .75 .6 .75-9.1 .75 14.6 .75-8.5 .75 3.3 .75-1.4 .75-6.3 .75 6.7 .75-7.5 .75 5 .75 3.4 .75 1.8 .75 .4 .75-1 .75 12.3 .75-9.1 .75-8.8 .75 3.3 .75-.1 .75 2.6 .75-2.2 .75-1.3 .75 13.6 .75-8.6 .75-1.9 .75 .5 .75 .3 .75 8.7 .75-4.9 .75 3.6 .75-22.7 .75 18.6 .75 4 .75 4.9 .75-10.3 .75-9.3 .75 12.4 .75-6.3 .75-6.3 .75 6.4 .75 9 .75 .9 .75-2.5 .75-9.4 .75 19.2 .75-19.7 .75 5.9 .75-7.2 .75 14.8 .75-4.6 .75 2.5 .75-4.2 .75-.8 .75 1.4 .75-11 .75 15.5 .75-.4 .75-6.9 .75 2.1 .75 1.7 .75 6.8 .75-6.1 .75-2 .75-2.9 .75-5.3 .75 4.9 .75 3.5 .75-1.7 .75 1.8 .75 3.6 .75-1.6 .75-.8 .75 2 .75-2.5 .75-1.1 .75 2.7 .75-11.7 .75 15.9 .75-13.5 .75 11.4 .75-4.4 .75 5.9 .75-5.7 .75-5.2 .75 10.7 .75-4.7 .75-.3 .75-.2 .75 5 .75-1 .75-3.1 .75-9.5 .75 6.2 .75 2.7 .75 9 .75-7.4 .75-2.6 .75 6.9 .75-6.9 .75 .5 .75 1 .75-8.8 .75 13.1 .75-2.8 .75-3.8 .75-4.5 .75 7.2 .75 6.4 .75-10.9 .75-2.2 .75 7.9 .75-10.7 .75-3.2 .75 9.5 .75-1.3 .75 2.3 .75-1.4 .75 4.7 .75-2.8 .75-2 .75 .9 .75 5.8 .75 1.8 .75-.2 .75-1 .75-21.1 .75 12.2 .75 3.8 .75 2.8 .75-9.6 .75 16.2 .75-5.9 .75-4.8 .75 4.2 .75-2.6 .75-2.1 .75 6.8 .75-5 .75-5 .75 4.2 .75 2.8 .75-5 .75 12.4 .75-12.3 .75 15.1 .75-4.5 .75-9.6 .75 5.7 .75 5.7 .75-7.2 .75-5.2 .75 6.9 .75 10 .75-18.3 .75 10.9 .75-2.8 .75-.6 .75-1.4 .75 .4 .75 7.2 .75-2.3 .75-8.4 .75 13.4 .75-15.1 .75 10.2 .75-2.7 .75 5.2 .75-4.5 .75 3.5 .75-5.8 .75 5.1 .75-3.5 .75 9.4 .75-15.2 .75 9.9 .75-4 .75-1.7 .75-4.1 .75 5.2 .75-10.3 .75 .4 .75 10.9 .75-12.2 .75 15.7 .75-9.2 .75 2.6 .75-1 .75 1.7 .75-3.9 .75-.6 .75 1.1 .75 6.1 .75 .3 .75 .6 .75-5 .75-3.1 .75-8.1 .75 12.3 .75 .9 .75-6.8 .75 6.3 .75 2.4 .75-6.5 .75 5 .75-4.2 .75-11.1 .75 6.7 .75 .2 .75 4.9 .75-7.5 .75 2.2 .75-2.9 .75 4.9 .75 .5 .75 4.8 .75-1 .75-3.4 .75 .4 .75-.8 .75 0 .75 7.7 .75-21.7 .75 12.4 .75 2.5 .75 4.4 .75-12 .75 7.7 .75 2.7 .75-7 .75-7.9 .75 8.3 .75-4.6 .75 9.9 .75-8.1 .75 14.1 .75-8.8 .75-5.2 .75 1.6 .75-3.2 .75 8 .75 5.9 .75-9.3 .75 6.1 .75-10.1 .75 6.7 .75 10.8 .75-20.1 .75 14.2 .75-.3 .75-16.6 .75 2.4 .75 2.4 .75 10.5 .75-7.6 .75 1.4 .75 4.6 .75-3.2 .75 .5 .75-3.1 .75 7.8 .75-10.4 .75 13.1 .75-11 .75-2.6 .75 7.7 .75-1.1 .75-13.3 .75 11.8 .75-8.6 .75 2.7 .75 8.6 .75-9 .75 6.5 .75-4.1 .75 12.4 .75-11.1 .75-6 .75 .3 .75 .9 .75 5.5 .75-.8 .75 5.2 .75-4.5 .75-.3 .75 .9 .75-2.6 .75 2.2 .75 2.6 .75-.1 .75-7.4 .75-6.8 .75 5.1 .75 5.9 .75-15.3 .75 10.9 .75 4.9 .75-5.6 .75-3.1 .75 15.5 .75-2.1 .75-9.1 .75 8.5 .75-.2 .75-13.4 .75 20.7 .75-20 .75 3.6 .75-4.7 .75 6.3 .75-7.8 .75 7 .75 5.8 .75-4.9 .75-2.8 .75 9.8 .75-13.5 .75 10.1 .75-7.2 .75 2.7 .75-1.2 .75 .4 .75-1.1 .75-4.2 .75 1 .75 5.5 .75-3.2 .75-5.9 .75 2.5 .75 0 .75 3.6 .75 1.3 .75-.4 .75-4 .75 3.9 .75-7.6 .75-8.2 .75 15.8 .75-8.7 .75 4.1 .75-1.3 .75 10.2 .75-9.9 .75 8.3 .75-4.1 .75-4 .75-1.7 .75 11.4 .75-.3 .75 2.2 .75 6 .75-8.4 .75 .1 .75-2.1 .75 1.4 .75-2.4 .75-2.9 .75 15.9 .75-21.1 .75 11.7 .75 1.1 .75-1.5 .75-6.1 .75 4.3 .75-1.4 .75-3.3 .75 5.7 .75-1.9 .75-.7 .75 6.8 .75-9.4 .75 8.2 .75-5.6 .75 5.7 .75-1.9 .75 1 .75-6.6 .75 1.2 .75-.4 .75 5.7 .75 3.2 .75 1.9 .75-8.5 .75 3.2 .75-9.2 .75-3.1 .75 7.4 .75 1.1 .75-4.7 .75-1.2 .75 12.7 .75-7.2 .75-4.7 .75 21.8 .75-11.6 .75-2.6 .75 5.5 .75-7.8 .75 12.8 .75-16.8 .75 1.3 .75 6.4 .75-3.3 .75 11.8 .75-16.2 .75 4.8 .75 5.3 .75 1.8 .75 2.4 .75-3.5 .75 10.2 .75-14.4 .75 3.6 .75 3.7 .75-6.3 .75 .2 .75-.8 .75-.9 .75-2.6 .75 3.2 .75-5.3 .75 10.5 .75-10.6 .75 19.8 .75-1.9 .75-3.1 .75-7 .75-2 .75 9.8 .75-5.5 .75 2.1 .75-6.8 .75 9.7 .75-10 .75 4.9 .75-9.7 .75 5.8 .75 6.3 .75-5.1 .75 .1 .75 6.7 .75-4.5 .75 7.1 .75-19.5 .75 16 .75-.2 .75-11 .75 1.4 .75 11.7 .75-10.4 .75 2.3 .75 6.6 .75-5 .75 4.3 .75-7.3 .75 6.2 .75 4.2 .75-4.1 .75-13.5 .75 15.2 .75-3.2 .75-5.2 .75 12.2 .75-16.8 .75 19.4 .75-13.5 .75 11.8 .75-8.7 .75-7 .75 7.6 .75 1.3 .75 1 .75 2.8 .75-10.5 .75 7.4 .75 1.2 .75-5.4 .75-3.6 .75-.2 .75 9.2 .75 .2 .75-8.8 .75-2.8 .75 13.8 .75-15 .75 9.2 .75-5.3 .75-5.1 .75 10.1 .75-1.8 .75 8.8 .75 4.4 .75-13.3 .75 6.5 .75 .1 .75-8.4 .75-1.9 .75 13.3 .75-10.6 .75 1.9 .75-1.4 .75 .9 .75-2.5 .75 7.3 .75 2.7 .75-8.7 .75-5.3 .75 7.7 .75-8.2 .75 4.5 .75 10.1 .75 5.9 .75-10.4 .75-7.7 .75 10 .75-16.2 .75 8.3 .75 11.9 .75-4.1 .75-11.3 .75-1.5 .75 13.5 .75-4.8 .75-2.9 .75 5.5 .75-5.3 .75-7.2 .75 14.7 .75-7.8 .75-1.8 .75-1.8 .75 8.5 .75-5.6 .75 7.7 .75-4.7 .75 7.2 .75-7.8 .75-1.4 .75-7 .75 4.7 .75 9.8 .75 12.5 .75-23 .75 1.2 .75 7.4 .75 .8 .75-6.1 .75 4 .75-8.9 .75 7 .75 6.4 .75 4 .75-9.6 .75-.4 .75 3.8 .75 3.5 .75-3.2 .75-6.6 .75 5.9 .75 3.3 .75-8.9 .75-3.3 .75 9.9 .75-.7 .75 3.2 .75-4.6 .75-3.9 .75 1.1 .75-3.1 .75 .5 .75 2.1 .75 .4 .75 8.6 .75-12.4 .75 6.3 .75-2.9 .75 11.1 .75-6.4 .75-3.4 .75 6.4 .75-4 .75-2.8 .75 10.7 .75-4.3 .75 5.4 .75-3 .75-2 .75-3.3 .75-6.4 .75 9.6 .75-3.2 .75 3.4 .75-3.4 .75-3.3 .75-1.3 .75 9.4 .75 3.5 .75-7.9 .75 4.4 .75 5.3 .75-11.2 .75 3 .75-3.6 .75 12.5 .75-4.4 .75-3.3 .75-5.8 .75 8.2 .75 6.6 .75-6.3 .75-.2 .75 5.9 .75-9.2 .75 7.1 .75 3.2 .75-6.7 .75 .1 .75 5.9 .75-1.5 .75-.3 .75 2.6 .75 .3 .75-5.5 .75 1.6 .75 6 .75 3.7 .75 1.5 .75-10.9 .75 10.2 .75-1.4 .75-3.7 .75 2.9 .75 2 .75 5.2 .75-14.1 .75 8.7 .75-3.5 .75 0 .75 7.1 .75-1.4 .75-9 .75 3.9 .75 2.8 .75-7.9 .75 11.6 .75-4.5 .75 1.4 .75 1.1 .75 7.6 .75-8.6 .75-1.7 .75 10.6 .75-10.9 .75 .1 .75-4.1 .75 12.5 .75-3.8 .75 1.3 .75-1.3 .75-1.3 .75-3 .75 .3 .75 6.2 .75-1.3 .75 7.6 .75-11.5 .75 1.6 .75-2.4 .75 12 .75-12.6 .75 10 .75 3.5 .75-7.5 .75 4.5 .75-13.7 .75 8.7 .75-6 .75 9.2 .75-.6 .75-3.6 .75 8.6 .75-2.6 .75-4.1 .75 .3 .75-4.5 .75 6.4 .75 11.3 .75-13.6 .75 5.6 .75-4.7 .75 6.6 .75-1.8 .75-3.2 .75-7.6 .75 6.1 .75 8.3 .75-7 .75 4.2 .75-5.4 .75-6.8 .75 11.1 .75-.6 .75-4.4 .75 1 .75 3.2 .75-4.3 .75 4.5 .75-2.7 .75-10.5 .75 10.7 .75-2.3 .75-1.2 .75 6 .75-4.3 .75 4.9 .75 2.7 .75-4.7 .75-8.2 .75 3.9 .75 7.9 .75-5.7 .75-2.7 .75 3.5 .75 2.8 .75-1.2 .75 1.8 .75-7.2 .75 2.7 .75 .1 .75 1 .75-10.1 .75 9 .75-5.4 .75 13.2 .75 .7 .75 .5 .75-4.4 .75-6.4 .75 6.9 .75-5.9 .75 3.8 .75-7.6 .75 1.4 .75 5 .75 6.2 .75-9 .75 11 .75 2.3 .75-20 .75 5.9 .75-4.7 .75 3.8 .75-2.1 .75 2.1 .75 4.9 .75-.3 .75-3.6 .75-1.4 .75 .4 .75-.2 .75 2.1 .75-3 .75 2.2 .75-9.1 .75 10.2 .75 4.6 .75-8 .75-8.1 .75 13.5 .75-8.5 .75-13.4 .75 13.6 .75 3.9 .75-1.3 .75 4.1 .75-3.3 .75-2.6 .75-10.7 .75 4.1 .75 6.3 .75 2.3 .75-8.6 .75 1.9 .75 5.3 .75-12 .75-.2 .75 8.6 .75 2.4 .75-3.7 .75-9.1 .75 11.6 .75-6.7 .75 9.9 .75-3.8 .75 1.8 .75 1.9 .75-5.8 .75 6.8 .75 2.1 .75-4.3 .75 4.7 .75-9.8 .75 7.7 .75-3.2 .75-6.3 .75 4.5 .75-2.2 .75-.2 .75 3.3 .75 4.9 .75-7 .75 2.2 .75-7.9 .75 7.9 .75 5.2 .75-1.7 .75-1.7 .75-5 .75-2.2 .75 4.5 .75-6.1 .75 .7 .75 11.2 .75-9.1 .75 13.9 .75-15.8 .75 9.7 .75-7.7 .75 7.1 .75-5.7 .75 5.8 .75-.6 .75-1.1 .75 5.2 .75 5.3 .75-10 .75 7.6 .75-3.6 .75-.2 .75 11.3 .75-21 .75 7.7 .75-5.2 .75 7.7 .75 .8 .75 20.1 .75-16.5 .75 7.4 .75-2 .75-8.1 .75 4.8 .75 6.2 .75-6.9 .75 .5 .75 1.8 .75-9.3 .75 3.7 .75 5.9 .75 1.4 .75-6.6 .75 3.2 .75 1.3 .75 .3 .75 4.4 .75-2.5 .75 .7 .75-7.2 .75 2.1 .75 6.8 .75-8.8 .75 9.1 .75-4.1 .75-.5 .75 7.2 .75-6 .75-.7 .75 1.1 .75 3.7 .75 12.9 .75-22.7 .75 10.1 .75-.8 .75 5.8 .75-6 .75-9.6 .75 18 .75-11.1 .75 5.1 .75-6 .75 1.5 .75 2.9 .75 6.5 .75-.1 .75-6.7 .75 5.1 .75-4.2 .75 2.1 .75 0 .75 2 .75-6 .75 2 .75 1.4 .75-.8 .75-4.4 .75 11.6 .75-10.5 .75 5.5 .75-2.8 .75 4.6 .75-16.3 .75 19.7 .75-10.9 .75-5 .75 6.2 .75 9.8 .75-8.6 .75-8.5 .75 3.3 .75 8.3 .75-13.4 .75 5.4 .75-.9 .75 11.4 .75-12.1 .75 7.3 .75-9.9 .75-1 .75 8.3 .75-2.2 .75-11.7 .75 11.1 .75-.3 .75-6.3 .75 3.8 .75 .2 .75-3.6 .75-.3 .75 0 .75 2.4 .75-4.5 .75 6.9 .75-6.3 .75 8.2 .75 0 .75-3.8 .75 9.8 .75 5.8 .75-2.1 .75-12 .75 13.2 .75-4.2 .75-.5 .75-1.8 .75 3.5 .75 7.2 .75-3.2 .75-3.6 .75-.5 .75 2 .75 5.3 .75 6.5 .75-12.6 .75 5.5 .75-1.2 .75-1.1 .75 5.7 .75 1.1 .75-8.4 .75 2.1 .75 10.3 .75-3.6 .75 1.2 .75-4.3 .75 .9 .75 4 .75-3.9 .75-2.5 .75 5.3 .75 4.3 .75-8.3 .75 9.5 .75-1.2 .75-6.6 .75 4.1 .75 .1 .75 3.2 .75 .4 .75-8.3 .75 .1 .75 10.6 .75-3.7 .75 1.5 .75-.1 .75 5.4 .75-11.6 .75 10.1 .75-8 .75 6.9 .75 2.9 .75-11.5 .75 7.9 .75-2.7 .75 .2 .75 1.6 .75-4.5 .75 .6 .75 7.2 .75 1 .75-5.8 .75-3.5 .75 16.3 .75-5 .75-2.9 .75-5.7 .75 2.1 .75 3.8 .75-4.9 .75 11.1 .75-6 .75 1.3 .75-5.8 .75 .8 .75 .7 .75 4.7 .75-2.1 .75 .2 .75 2.7 .75-.1 .75 5.5 .75-6.8 .75-3.2 .75 4.4 .75 6.3 .75-8.2 .75 2.7 .75-1.5 .75 3.3 .75-.5 .75-4.3 .75 2.6 .75 4.9 .75 .7 .75-.6 .75-.2 .75-4.9 .75 0 .75 5.4 .75-8.6 .75 4.7 .75-7.4 .75 6.2 .75-1.3 .75-2 .75 7.5 .75-5.4 .75 1.6 .75 .6 .75-1.9 .75 8.9 .75-7.7 .75 2.9 .75-6 .75 3.5 .75 .8 .75 .2 .75-1 .75 3.1 .75 6 .75-6.8 .75 .1 .75-.8 .75 12 .75-3.6 .75-4.1 .75 .7 .75-5.6 .75 2.4 .75 1.7 .75-.3 .75-3.8 .75 .5 .75 5.4 .75-.7 .75-9.7 .75 9 .75 4.9 .75-7.7 .75 3.7 .75-6.7 .75 9.2 .75-7.7 .75-.5 .75 3.8 .75 10.9 .75-11.9 .75-2.5 .75 7 .75-.9 .75 5.8 .75-11.6 .75-1.3 .75 5.2 .75 2.9 .75-.1 .75 3 .75-10.2 .75 2.7 .75 2.7 .75 3.9 .75-1.5 .75-3.6 .75-2.4 .75 7.5 .75 .2 .75 7 .75-11.6 .75 7.1 .75-11.4 .75 2.6 .75-.6 .75 .7 .75-1.7 .75 1.3 .75 1.8 .75-1.6 .75 4.4 .75-3.1 .75 .3 .75 5.8 .75-4.7 .75-.7 .75-.8 .75 .2 .75 2 .75-5.6 .75 7.8 .75 1.6 .75-1.7 .75-6.7 .75-4.6 .75 4.6 .75 2.3 .75 2.7 .75-4.2 .75-.5 .75 7.3 .75-9 .75 7 .75-.7 .75-9.2 .75 6.5 .75-3.5 .75-1.6 .75-3.8 .75 1.1 .75 7.9 .75-3.3 .75 2.6 .75-5.5 .75 3 .75 .1 .75-5.3 .75-.5 .75 8.5 .75-1.3 .75-4.5 .75 3.3 .75 3.1 .75 4.6 .75-11.1 .75 6.1 .75 6 .75-8.4 .75 5.6 .75-16.7 .75 16.4 .75-6.2 .75-7.8 .75 10.5 .75 .7 .75 .2 .75-.7 .75-5.7 .75-3.8 .75 .4 .75 1 .75 1.1 .75-4.6 .75 1.4 .75 2.7 .75-3.2 .75 7.6 .75-1.3 .75-15.1 .75 1.7 .75-4.1 .75-.2 .75 6.7 .75-7.6 .75-1.1 .75 2.6 .75 3.9 .75-6 .75-.9 .75 4.9 .75-2.9 .75-1 .75 1.4 .75-9.8 .75 4.7 .75-4.8 .75 6.7 .75-1.9 .75-9.4 .75 10.1 .75-12.5 .75 9.9 .75-5.4 .75-5.9 .75-2.1 .75 3 .75 .4 .75-4.2 .75 5.2 .75-10.2 .75 5.9 .75-.7 .75-9.8 .75 9.9 .75-8.2 .75-6.6 .75 8.6 .75 1.4 .75 5 .75-7.3 .75 9.1 .75-.7 .75-2.2 .75 .7 .75-5.3 .75-5 .75 5.5 .75 1.1 .75-4.1 .75-2.8 .75-7 .75 10.9 .75-1.8 .75-8.2 .75 7.1 .75 3.3 .75-3.7 .75 4.9 .75 .4 .75-10.5 .75 6.4 .75 4.5 .75 2.7 .75 3.1 .75-15.7 .75 9.6 .75 4.5 .75 3.1 .75 2.8 .75-12.1 .75 3.3 .75-2.6 .75 9.6 .75-9.7 .75 12.7 .75-.6 .75-1.6 .75-12.2 .75 7.7 .75 7.2 .75-9.9 .75 6 .75 .9 .75 5 .75-2.6 .75 .2 .75-3.1 .75 2.3 .75-.4 .75 4.3 .75-4.1 .75 5.9 .75-12.6 .75 13.9 .75-6.2 .75 6.3 .75-4.7 .75 3.8 .75 3.3 .75-9.3 .75 3.3 .75-.8 .75 2.2 .75-7.9 .75 7.4 .75 .4 .75-1.6 .75 3.7 .75-5.2 .75 14.4 .75-3.3 .75 7.6 .75-11.5 .75-.2 .75 7.5 .75-7.6 .75 9.5 .75-3.1 .75 2.7 .75 3.6 .75 .2 .75 8.9 .75-4.3 .75-7.3 .75 10.8 .75-8.9 .75 7 .75-4.8 .75 2.6 .75 9.8 .75-7.1 .75 .4 .75 1.1 .75 1.7 .75 7.9 .75-10.1 .75 .4 .75 8.2 .75-8.2 .75 5.7 .75 6.7 .75-3.9 .75-1.3 .75-.2 .75-.2 .75 2 .75 3.6 .75 5 .75-.5 .75-5.5 .75-.1 .75 6 .75-9.5 .75 5.7 .75 .7 .75-2.8 .75 .6 .75 5.4 .75-7.6 .75 3 .75 1.2 .75 3 .75-5.5 .75 9.7 .75-5.3 .75 .3 .75-.2 .75-1.1 .75-1 .75 8.4 .75-3.5 .75-1.1 .75 4.4 .75-6.4 .75 5.3 .75-2.2 .75-3.3 .75 6.4 .75-8.5 .75 8.4 .75-5.7 .75 5.1 .75 3.8 .75-2.9 .75-4.4 .75 2.4 .75-1.2 .75-2.9 .75 .4 .75 4.5 .75 2.1 .75-8.6 .75 6.5 .75 2.4 .75-1.4 .75-4 .75 7.8 .75-8.4 .75 7.1 .75 3.7 .75-13.6 .75 8.7 .75 .3 .75-.3 .75-3.7 .75 1.7 .75-4 .75 5.8 .75 1.5 .75-4.4 .75-1 .75 1.8 .75 1.7 .75 .3 .75-.6 .75 .7 .75-5.1 .75-5.2 .75 12.5 .75 3 .75-10.5 .75 2.8 .75 3.6 .75 2.5 .75-1.1 .75 2.4 .75-4.9 .75 1.7 .75 .1 .75-3.1 .75 6.1 .75-2.1 .75 1.3 .75-5 .75 5.3 .75-7.7 .75 5.4 .75-11.1 .75 6 .75 6.5 .75-4.4 .75 2.4 .75-6.7 .75 11.8 .75-3.5 .75-2.3 .75 1.7 .75-.4 .75 4.1 .75-4.5 .75-6.3 .75 4.5 .75 5.7 .75-2.7 .75-3.7 .75 3.8 .75-1.9 .75 1.8 .75-8.2 .75 2.5 .75 5.8 .75-3.4 .75 2.1 .75 6 .75-8.5 .75 2 .75-3 .75-.3 .75 2 .75-5.1 .75-2.5 .75 12.9 .75-5.5 .75 4.5 .75-3.8 .75 .1 .75 1.9 .75 .1 .75-7.1 .75 8.9 .75-8.1 .75 4.3 .75 8.7 .75-9.3 .75 5.9 .75-7.5 .75 3.5 .75-2.1 .75 1.3 .75-4.8 .75-.2 .75 4.6 .75-7.1 .75 2.7 .75 5.5 .75-4.7 .75-1 .75-.8 .75 4.7 .75-1.9 .75 1.9 .75-1.2 .75 7.6 .75-8.5 .75-5.7 .75 7.8 .75-.4 .75 .5 .75-6.5 .75 10.2 .75-4.3 .75 0 .75-5.7 .75 7.6 .75-2 .75 5.3 .75-6.5 .75-3 .75 5 .75-3.8 .75 4.9 .75-5.5 .75 3.6 .75-.4 .75 .7 .75-1.7 .75-1.1 .75 2.8 .75-1.9 .75 2.7 .75-1.5 .75-7.3 .75 8.1 .75 5.4 .75-4 .75 1.1 .75-.5 .75-3.4 .75-3.2 .75 7.9 .75 .9 .75-1.7 .75-.5 .75-.1 .75-1.6 .75 1.2 .75-1 .75 1.2 .75-4.7 .75 1.2 .75 4.4 .75-3.3 .75-7.6 .75 9.4 .75-8.9 .75 15.4 .75-4.3 .75-.2 .75-4.8 .75-1.7 .75 3.4 .75 .8 .75-2.8 .75 3.4 .75 1.9 .75-.3 .75-5.9 .75-4.1 .75 7.9 .75-2.4 .75 4 .75 4.4 .75 0 .75-4.9 .75 3 .75 2 .75-5.8 .75 .8 .75 2.2 .75-3.2 .75-1.7 .75-.9 .75 2.8 .75-2.3 .75 5.2 .75-4.1 .75 6.5 .75-.9 .75-8.8 .75 8.4 .75-5.3 .75 6.4 .75-3.1 .75-2 .75 2.6 .75-4.4 .75 3.2 .75 .2 .75-1.9 .75 2 .75-5 .75 5.6 .75-6.3 .75 6.6 .75-.6 .75 .9 .75-4.5 .75 12.9 .75-11.7 .75 1.4 .75-3.3 .75 7.9 .75-6.8 .75 5.3 .75-7 .75 4.5 .75-2.4 .75 4.7 .75-4.4 .75-2 .75 4.7 .75-5.9 .75 .9 .75 6.2 .75-9.4 .75 9.4 .75-4.1 .75-1.9 .75 4.2 .75 1.4 .75-4.3 .75 1.4 .75 3.5 .75-.1 .75-2.9 .75-2.5 .75-.6 .75 1.2 .75 4.6 .75-.3 .75-1 .75 3.9 .75-6 .75-.3 .75 0 .75 8.2 .75-14.1 .75 8.4 .75 .5 .75-1.3 .75 8.1 .75-4.2 .75-1.4 .75-5.9 .75 5 .75-3.1 .75 1.5 .75 .6 .75-2.4 .75 4 .75 3.5 .75-2.1 .75-2.9 .75-7.6 .75 10.7 .75 0 .75-4.5 .75-1 .75 4.1 .75-5.2 .75 5.7 .75-6.6 .75 .6 .75 3.3 .75-5.2 .75 5.2 .75 1.9 .75-6.6 .75 8 .75-5.3 .75 4 .75-1.2 .75-2.4 .75-.2 .75-4.1 .75 3.5 .75-.2 .75 8.5 .75-2.2 .75-8.4 .75 7.7 .75-2 .75-2.1 .75 2.9 .75 1.2 .75-4.8 .75 1.1 .75 1.5 .75-4 .75 4.1 .75-.9 .75-2.1 .75-.5 .75 4 .75 2 .75-1.9 .75-4.1 .75 5.6 .75-2 .75 1.5 .75 2 .75-7.2 .75 2.7 .75-1.6 .75-1 .75 10.1 .75-3.7 .75-9.5 .75 7.7 .75-3.4 .75 6 .75-3.7 .75-.9 .75 1.1 .75 .9 .75-1.3 .75-.8 .75 .3 .75 2.3 .75-5.8 .75 4 .75-.4 .75-1.3 .75 4.2 .75-7.1 .75 3.3 .75-1.8 .75 4.9 .75-3.5 .75 1.7 .75 1.2 .75-7 .75 7.2 .75-4.2 .75 1.7 .75 .5 .75 3.2 .75-.3 .75 3.6 .75-5.6 .75-2.3 .75-.1 .75 4 .75 3.3 .75-4.4 .75-3.2 .75 2.9 .75-.1 .75-.8 .75-2.7 .75-6.3 .75 7 .75 5.5 .75-2.9 .75-8.5 .75 7.7 .75-6.5 .75 13.4 .75-6.3 .75-4.9 .75 7 .75-5.6 .75 4.7 .75-1.9 .75-4.2 .75 6.4 .75-7 .75 9.4 .75-4.5 .75-3.9 .75-2.8 .75 12.1 .75-.6 .75-9.6 .75 10.2 .75-5.2 .75-1.4 .75 .5 .75-.7 .75 6 .75-4.6 .75-7 .75 13.8 .75-4.2 .75-7 .75 2.6 .75-2 .75 3.3 .75 1.3 .75-.6 .75-3 .75-.7 .75 5.8 .75-3.4 .75 8.3 .75-10.8 .75 5.6 .75-2.6 .75-2.9 .75 7.5 .75-4.4 .75-3.6 .75 2 .75 4.7 .75-7.9 .75 9.1 .75-2.5 .75-3.4 .75 5.8 .75 1.3 .75-4 .75-1.6 .75 5.9 .75-1.2 .75-8.6 .75 2.5 .75 0 .75-.7 .75-3.9 .75 8.5 .75-2.9 .75 0 .75 4.6 .75-7 .75 1.8 .75 1.1 .75-2.5 .75 1.1 .75 3.1 .75-2.7 .75 4.7 .75-7.4 .75 3.4 .75-5.8 .75 4.6 .75-2.1 .75 7.3 .75-2.2 .75-.9 .75 4.8 .75-1.5 .75-2.6 .75-5 .75-2.7 .75 5 .75-1.2 .75-1 .75 1.2 .75-4.9 .75 11.2 .75-9.4 .75 1.7 .75 4.4 .75-7.9 .75 9.1 .75 .1 .75-4.5 .75-2.8 .75 2.2 .75-5 .75 11.6 .75-4.8 .75-2.9 .75-.6 .75 5.3 .75 3.3 .75-10 .75 2.5 .75-4.2 .75 8.7 .75-1.9 .75 7.5 .75-8.5 .75-1.2 .75-1 .75 5.6 .75-8.9 .75 8.5 .75-1.8 .75-2.8 .75-1.4 .75 7 .75 2.9 .75-8.3 .75 3.5 .75 4.3 .75-8.5 .75 1.3 .75-3.5 .75 3.8 .75 .3 .75-1.3 .75-1.2 .75-3 .75 .8 .75 1.3 .75 5.9 .75-4.2 .75-1.3 .75 5.5 .75-.4 .75-4.8 .75 .5 .75 4.6 .75-1.1 .75-4.4 .75 3.9 .75-1 .75 4.1 .75-7.2 .75 6.3 .75-1.7 .75-5.2 .75 7.4 .75-.5 .75-8.2 .75 12 .75-11.4 .75 .8 .75 2.1 .75 4 .75-.7 .75-2.5 .75 5.3 .75-3.6 .75 3.6 .75 5.2 .75-9.6 .75-10.2 .75 7.7 .75-2.3 .75 4.3 .75 0 .75-4.9 .75 .2 .75 3.2 .75 .3 .75-8.9 .75 13.1 .75-3.5 .75-.2 .75 1.1 .75-4.9 .75 3.6 .75 4 .75 .1 .75-2.3 .75-2.8 .75-2 .75 7.9 .75-3 .75-3.6 .75-6.5 .75 4.8 .75-4 .75 11.8 .75-3.9 .75-3.5 .75 1.7 .75 10.7 .75-5.1 .75-9.6 .75 4.5 .75-4.1"/>
<path stroke="#000080" d="M172.5,364.6l.75 17.8 .75 21 .75-7.7 .75-13.9 .75-3.5 .75 5.9 .75 8.4 .75-22.6 .75-3.1 .75 35.6 .75-14.1 .75 13.1 .75-12 .75 12.2 .75-18.6 .75 11.1 .75 10.5 .75-4.1 .75-12.9 .75 13.5 .75-13.4 .75-6 .75 19.3 .75 9.4 .75-3.7 .75-18.1 .75 21.1 .75-.2 .75-9.1 .75-17.1 .75 33.7 .75 .3 .75-2.1 .75-18.9 .75 3.7 .75 24.4 .75-.4 .75-1.3 .75-5.3 .75 7.3 .75-7 .75 3.5 .75-3.6 .75 11.7 .75-4.8 .75 13.7 .75-.8 .75-12.8 .75 25.1 .75-25.7 .75 15.2 .75 6.6 .75 2.8 .75-30.5 .75 29.8 .75 2.9 .75 2.9 .75-31.9 .75 14.8 .75 6.1 .75-2.1 .75 16.9 .75-17.1 .75 17.9 .75-5 .75-17 .75 5 .75 5.6 .75 6 .75 8.9 .75-9.5 .75 10.6 .75-21.1 .75-12.2 .75 25 .75 7.9 .75-6.3 .75-4.9 .75 13.6 .75 14.2 .75-17.1 .75-4.6 .75-.1 .75 25.6 .75-16.7 .75 6.6 .75 6.2 .75-.3 .75-16.6 .75 17.3 .75-.1 .75-2.2 .75 5.4 .75-12.8 .75 5.1 .75-3 .75 11.9 .75-11.4 .75 9.9 .75-12.1 .75 9.2 .75-1.2 .75 2.9 .75 2.9 .75-1.9 .75 .4 .75-15.1 .75 28.1 .75-14.1 .75 4.1 .75-4.2 .75 16.4 .75-15.5 .75 12.8 .75 6.6 .75 4.8 .75-3.2 .75-4.1 .75-14.7 .75 22 .75-.1 .75-2.3 .75 .5 .75-5.4 .75-4.3 .75 14.2 .75 2.4 .75-18.9 .75 17.2 .75-4.9 .75 6.1 .75-4.4 .75 7.8 .75-.1 .75-.4 .75-18.3 .75 19.2 .75-5.8 .75-9.1 .75 16 .75-16.5 .75 19.5 .75 7.4 .75-17.6 .75 12.6 .75-3.2 .75 2.3 .75-15.9 .75 17 .75-3.3 .75 5.7 .75-5.4 .75 9.7 .75-6.1 .75 4 .75 6.4 .75-9.1 .75 7.3 .75-5.6 .75 3.1 .75-7.9 .75 11.3 .75 4.4 .75-10 .75 7.8 .75-2.3 .75-11.7 .75 12.5 .75 8.5 .75-13.9 .75-9.7 .75 16.8 .75-6.1 .75 21.3 .75-14.8 .75 1.1 .75-4.2 .75 7.8 .75-5.6 .75-1.9 .75 7.5 .75-5.1 .75 17.7 .75-18.9 .75 9.5 .75-4 .75-4.7 .75 24.9 .75-28.9 .75 28.9 .75-21.8 .75 12.7 .75 18 .75-33.6 .75 7 .75 22 .75-7.7 .75-4.4 .75 5.3 .75-5.9 .75 9.9 .75 12 .75-13.1 .75 5.5 .75 9.6 .75 7.4 .75-18.4 .75 8 .75-5.5 .75 .3 .75 2.7 .75-1.1 .75-7.9 .75-1.5 .75 9.9 .75 6.8 .75 8.5 .75-12.9 .75 3 .75 6.5 .75 .9 .75-6.2 .75 .7 .75 14.9 .75-16.5 .75-.9 .75-8.3 .75 15.8 .75-5 .75 16.7 .75-16.6 .75 9 .75 1.2 .75 5.8 .75-21.8 .75 22.3 .75-11.1 .75-.2 .75-.8 .75 .1 .75 1.1 .75-14.1 .75 22.1 .75-2.6 .75-6.7 .75 7.3 .75 18.4 .75-13.5 .75-4.9 .75 16.3 .75-17.8 .75 5.6 .75-2.2 .75 3.1 .75 7.9 .75-.3 .75-8.8 .75 5.2 .75 2.4 .75-2.7 .75 3.6 .75-4.1 .75 .9 .75 6.6 .75-6.8 .75 11.5 .75-3.5 .75-4.3 .75 3.2 .75 2 .75 3.2 .75 3 .75-1.3 .75-3.8 .75 17.4 .75-2.8 .75-4.6 .75 6.9 .75-3.5 .75-3.2 .75 3.4 .75 19.2 .75-10.9 .75 1.2 .75-9.3 .75 7.8 .75 12.4 .75-12.1 .75 5.2 .75 2 .75-3.6 .75 7.2 .75-8.7 .75 2.5 .75-7.1 .75 23.3 .75-15.5 .75-.7 .75 9.5 .75-12.2 .75 4 .75-4.7 .75 6.2 .75-2.1 .75 7 .75-3.9 .75-2.5 .75 2.8 .75 1.9 .75-1.9 .75 10.6 .75-1 .75-2.8 .75-8.3 .75 12.4 .75-11.3 .75 10.7 .75-.1 .75-3.5 .75-.8 .75 1.8 .75 19.2 .75-14.7 .75 1.2 .75 8.6 .75-2.8 .75 5.1 .75-14.4 .75 1.8 .75 30 .75-21.5 .75-.8 .75 3.8 .75 6.2 .75-13.6 .75 10.3 .75-1.4 .75 5.3 .75-2.7 .75-4 .75-1.5 .75-9.7 .75 22.9 .75-15.3 .75 7.5 .75 14 .75-12.9 .75 7.2 .75-4.7 .75 6.5 .75-3.7 .75-2.9 .75 12.6 .75-9.8 .75-6.3 .75 7.1 .75 6.1 .75-10 .75 12.7 .75 .5 .75 9.2 .75-17 .75 8.8 .75-14.2 .75 8.5 .75 3.9 .75 2.5 .75-2.4 .75 .4 .75-2.8 .75 1.7 .75 5.3 .75 2.1 .75 1.1 .75 2.8 .75 1.7 .75-18.1 .75 8.6 .75 2.8 .75-2.5 .75 11.1 .75-1.3 .75-4.7 .75 2 .75 7.6 .75-9.4 .75 .8 .75 8.1 .75-2.2 .75 6.4 .75-5.9 .75 2.9 .75-7.4 .75-1.8 .75 6.2 .75-15.5 .75 19.2 .75 4 .75-4.9 .75-1.2 .75 8.5 .75-6.3 .75 6.7 .75 7.9 .75-8.3 .75 1.9 .75-2.2 .75-.9 .75 .7 .75-.7 .75 6.7 .75-15.6 .75 8.6 .75 6.1 .75-8.4 .75 5 .75-2.9 .75 7.3 .75 3 .75 4.1 .75-5.2 .75-6.7 .75 6.2 .75 2.3 .75 5.4 .75-20.6 .75 15.2 .75-12.5 .75 15.3 .75-1.3 .75 .7 .75 2.6 .75-2.6 .75-5.7 .75 6.1 .75 5.3 .75-7.3 .75 1.2 .75-6.9 .75 14.1 .75-9.3 .75-1.1 .75 2.1 .75-2.1 .75 3.9 .75 9.2 .75-2.4 .75 4 .75 .8 .75-13.4 .75 8.4 .75 6.3 .75 5 .75-20.9 .75 .4 .75 11.3 .75-4.1 .75-3.4 .75 8.4 .75-6.3 .75-8 .75 13.3 .75 1.3 .75 3.4 .75 2.1 .75-3.8 .75-2 .75-2 .75-5.1 .75 7.3 .75 8.6 .75-1.6 .75 8.3 .75-12.1 .75-8.8 .75 15.1 .75 1.5 .75-12.2 .75-2.1 .75 10.2 .75 3.4 .75-10 .75 4.7 .75-2.1 .75-2 .75-.4 .75 8.4 .75-2.6 .75-1.3 .75-10.5 .75 24.6 .75-14.7 .75 4.8 .75-5.3 .75 8.7 .75-10.1 .75 9.2 .75-1.2 .75 6.5 .75-10.8 .75 2.9 .75 2.6 .75 13.3 .75-19.3 .75 10.2 .75-4.8 .75 5.7 .75 2.3 .75-2.4 .75 1.1 .75 .5 .75-4.4 .75 2.5 .75-7.5 .75 7.5 .75-1.8 .75 3.2 .75 5.8 .75-1.5 .75 .8 .75 3.8 .75-18.5 .75 15.5 .75-2.1 .75-.2 .75-6.3 .75 10.3 .75 3.4 .75-.5 .75-5.8 .75 4.1 .75 1.7 .75 5.1 .75-3.1 .75-5.6 .75-.1 .75 .6 .75 .5 .75-3.7 .75 7 .75-7.7 .75-.4 .75 6.4 .75-4.8 .75 2 .75-9.6 .75 15.5 .75-4 .75-.4 .75 3.5 .75-1.1 .75-4.5 .75 14.7 .75-12.7 .75 7.9 .75 4.9 .75-12.7 .75 4.1 .75-4.5 .75 10.3 .75-7 .75-3.7 .75 13.1 .75-1.8 .75-9.2 .75 11.3 .75-4.9 .75 13.6 .75-4.9 .75-11.6 .75 1.8 .75-2.9 .75 5.6 .75-.2 .75 3.8 .75-3.2 .75-7.9 .75 3.7 .75 11.8 .75-1.2 .75-6.7 .75 .4 .75 0 .75 1.2 .75-8.7 .75 13.6 .75-7.9 .75 4.4 .75-13.7 .75 14.5 .75 5.9 .75-18.3 .75 19.6 .75-5.2 .75-6.1 .75-4.2 .75 14.4 .75-4.5 .75 1.9 .75-4.3 .75-2.5 .75 8.8 .75-9.2 .75 9.7 .75-13 .75 4 .75-2.5 .75 14.3 .75-15.5 .75 3.3 .75 9.5 .75-2.1 .75 10.3 .75-1.6 .75-6.1 .75 .5 .75-12.7 .75 5 .75 3 .75 1 .75-6 .75 2.4 .75 .6 .75 9.9 .75-3.2 .75-3.7 .75 .3 .75 3 .75-5 .75 2.3 .75-7.4 .75 12.3 .75 1.6 .75-3 .75 .6 .75-.5 .75 8.6 .75-9.3 .75-7.7 .75 1.5 .75 9 .75 1.9 .75-1.4 .75 .4 .75-3.2 .75-8.5 .75 4.1 .75-5.5 .75 7.4 .75-4.9 .75 7.6 .75-1.2 .75-8.9 .75 13.7 .75 .3 .75-10.7 .75 7.9 .75 3.1 .75-5 .75 6 .75-3.3 .75 4.7 .75-4.4 .75-1.6 .75 3.5 .75 1.6 .75-2.6 .75-3.4 .75-1.6 .75 2.3 .75-.9 .75 4.1 .75 0 .75-1.2 .75 .6 .75 .9 .75 7.2 .75-1.7 .75-9 .75 5.2 .75-3.7 .75 1.2 .75-.7 .75-1.8 .75-3.7 .75-5.4 .75 13.5 .75 5 .75-10.5 .75 7.2 .75-4.4 .75 3.4 .75-5.4 .75 3 .75 .7 .75-11.4 .75 13.2 .75-1.7 .75-11.8 .75 15.9 .75-3.4 .75 1.3 .75 .8 .75-3.9 .75-3.2 .75 3.2 .75 .1 .75 13.4 .75-1.9 .75-11.7 .75 .4 .75 3.7 .75 1.3 .75-6.4 .75-1.5 .75 14.8 .75-4.4 .75-13.1 .75-1.1 .75 4.8 .75 5.3 .75 1.7 .75-4.5 .75-6.4 .75 9.3 .75 2 .75-3.1 .75-2.4 .75 5.4 .75-3.2 .75-5.3 .75 6.1 .75-7 .75 11.5 .75-2.5 .75-7.4 .75 6.2 .75 5.2 .75-17.1 .75 10.2 .75 9 .75-16.2 .75 7.1 .75-6.4 .75 6.9 .75-11.8 .75 4 .75 5.5 .75 3.5 .75 1.2 .75 .3 .75 3.7 .75-2.2 .75 .2 .75-8.7 .75 4.2 .75 17 .75-4.6 .75-7.3 .75-.4 .75 1.3 .75-7 .75 12 .75-11.8 .75 1.5 .75 11.6 .75-21.7 .75 12.5 .75-10.6 .75 5.5 .75 2.9 .75-1.3 .75 2.7 .75-4.7 .75 3.4 .75-5.5 .75 4.1 .75-5 .75 10.4 .75-9.9 .75 10.2 .75-5.6 .75 .6 .75 7.6 .75-5.4 .75-10.2 .75 12.2 .75-17.3 .75 16.2 .75-3.4 .75-5 .75 7.6 .75-2 .75 11.9 .75-12.5 .75 12.2 .75-2.8 .75-10.2 .75-1 .75 10.9 .75-7.5 .75 1.5 .75-2.1 .75-5 .75 4.3 .75-3.1 .75-2.9 .75 6.3 .75 10.6 .75-.9 .75-8.6 .75 .9 .75 1.9 .75 4.4 .75-5.4 .75-4.2 .75 .4 .75 7.8 .75 7.6 .75-16.7 .75-7.4 .75 14.7 .75-4.6 .75 1.1 .75 5.6 .75-6 .75-7.3 .75-3.3 .75 9.9 .75-5.8 .75 7.4 .75-8.1 .75 4.7 .75-5.8 .75 5.7 .75-.5 .75 5.4 .75 3.8 .75-7.9 .75-3.6 .75 14.6 .75-8.3 .75 1.2 .75 0 .75 4.3 .75-2.4 .75-1.8 .75 .4 .75-8.5 .75 1.2 .75 2.5 .75 .9 .75-.5 .75 1.4 .75-1.6 .75-2.4 .75-6.4 .75 12.7 .75-1.4 .75-7.7 .75 7 .75-.6 .75-1.8 .75-10.1 .75 3.2 .75 3 .75 11.5 .75-13 .75 2.5 .75-4.1 .75 3.1 .75 4.3 .75-12.8 .75-4.1 .75 18.2 .75-3.4 .75-3.4 .75 8.1 .75-.1 .75-16.2 .75 10 .75 6.6 .75-9.5 .75 1.8 .75 6.5 .75-6.5 .75-5 .75 2.6 .75-3.5 .75 9.8 .75-12.1 .75 14.2 .75-14.1 .75 8.8 .75-8.1 .75 5.9 .75 7 .75 .4 .75 .8 .75-7.5 .75 .8 .75 .6 .75 1.8 .75-5.5 .75 7.8 .75-4.2 .75 4.2 .75-3.7 .75 .9 .75-7.7 .75 1.6 .75-4.9 .75 5.2 .75 .5 .75 5.2 .75-11.3 .75 23.8 .75-18 .75 7.2 .75-1.3 .75-19.2 .75 11.9 .75 9.2 .75-21.1 .75 17 .75-9.2 .75 2.3 .75 3.5 .75-11.3 .75 10.9 .75-4.7 .75-.7 .75 7.6 .75 15 .75-17.2 .75 1 .75-3.4 .75-3.8 .75 5.2 .75 6.6 .75-7.3 .75 3.7 .75-6.2 .75 14.7 .75-22.6 .75 11.9 .75-.3 .75-1.6 .75-7.6 .75-.3 .75 4.8 .75 1.7 .75-7.2 .75 .7 .75 8.7 .75 2.4 .75-8.7 .75-.9 .75-.3 .75 17.3 .75-10.9 .75-3.1 .75 5.7 .75 6.9 .75-6.3 .75-14.2 .75 7.2 .75-1.9 .75 .3 .75-4.9 .75 4.4 .75-3.9 .75 7.6 .75-1.7 .75-8.1 .75-1.7 .75 6.6 .75 6.1 .75-1 .75-3.2 .75-17.8 .75 15.2 .75-1.4 .75 2.1 .75-5 .75 4.2 .75-1.3 .75 18.4 .75-11.1 .75-5 .75 .8 .75-.4 .75 1.6 .75-3.2 .75 2.1 .75 5.7 .75-1.1 .75-2.8 .75 5.6 .75-6.1 .75-6.6 .75-4.2 .75 5.8 .75 3.4 .75 2.6 .75 3.7 .75-9.1 .75-1.3 .75 8.7 .75 2.2 .75-9.1 .75 4.5 .75 5.7 .75-5.8 .75-2 .75-11.1 .75 18.6 .75-3.7 .75-2.8 .75-3.3 .75-4.3 .75 6.3 .75 0 .75 6.6 .75-12.7 .75 14.6 .75-7.7 .75 6.3 .75-11.9 .75 7.3 .75 4.8 .75-6.1 .75-8.7 .75 6.2 .75 4.8 .75-10.7 .75-.2 .75 9.2 .75-6.6 .75 8.9 .75-10.3 .75-3.7 .75 5.8 .75 12.4 .75-13 .75 4.6 .75 1.3 .75-6.6 .75 11.1 .75-5.1 .75 1.4 .75-11.8 .75-.4 .75-5.6 .75 14 .75-.3 .75 5.2 .75 4.1 .75-9.6 .75-.2 .75 3.9 .75 5.9 .75-13.1 .75 7.9 .75-4.8 .75-.6 .75 6.3 .75-9 .75-1.6 .75 9.5 .75-3.9 .75-1.4 .75 .7 .75 3.4 .75-4.9 .75 6.2 .75-2 .75 5.8 .75-1.2 .75-2.4 .75-5.9 .75 1.7 .75-3.9 .75 19 .75-17 .75 4.3 .75 4.4 .75-15 .75 3.1 .75 2.4 .75-3.2 .75-1.5 .75 4.2 .75 10.1 .75-3.1 .75-3.7 .75 .1 .75-9.3 .75 13.1 .75-1.4 .75-8.3 .75 7.2 .75-2.1 .75-1.7 .75-2.5 .75 1.8 .75-1.4 .75 7.8 .75-.5 .75-.1 .75-2.7 .75-1.2 .75 13.5 .75-21.3 .75 16.8 .75-4.5 .75-1.5 .75-3.1 .75 1.7 .75-5.3 .75-1 .75 7.1 .75-8.4 .75 13.7 .75 1.6 .75-24.9 .75 10.5 .75 10 .75-.2 .75-.5 .75 1.8 .75 1.8 .75 .7 .75 5.1 .75-9.6 .75 4.7 .75-13.6 .75 8.2 .75-5.9 .75 14.3 .75 5.2 .75-9.8 .75-10 .75 6.5 .75 .9 .75 .9 .75 4.9 .75-.7 .75-19.6 .75 22 .75-10.2 .75-.3 .75 10.8 .75-9.1 .75-6 .75 .3 .75 7.6 .75 4.6 .75 3.3 .75-9.1 .75-1.5 .75 11.4 .75-11.3 .75 10.5 .75-6.7 .75 .1 .75-2.5 .75 2.9 .75-4.1 .75-1.2 .75 3 .75-2.7 .75 5.2 .75-1.1 .75-1.9 .75 .4 .75-.1 .75 10.7 .75-9.4 .75-3.2 .75 1.7 .75 5.3 .75-4.7 .75 .4 .75-.5 .75 2.3 .75 1.3 .75 .4 .75-11.2 .75 3.1 .75-8.4 .75 18.7 .75 1.8 .75 1.1 .75-6.2 .75 5.5 .75-6.3 .75-.4 .75-7.6 .75 4.1 .75 1.2 .75 8.2 .75 4.1 .75-11.4 .75 4.6 .75-.5 .75-5.6 .75-5 .75 5.3 .75-3.6 .75 6.1 .75 1 .75-.1 .75 .1 .75 3.6 .75-7.5 .75 9.9 .75-13.8 .75 9.4 .75 1.9 .75-6.3 .75-4.3 .75 12.2 .75-7 .75 7.9 .75 .1 .75-4.1 .75 .3 .75 5.5 .75-3 .75-6.8 .75 6.3 .75 2.4 .75-1.5 .75 .3 .75-1.5 .75 .6 .75-4 .75-2.3 .75 14 .75-9 .75 4.9 .75-8.7 .75 9.2 .75-4.9 .75 20.4 .75-20.6 .75 .6 .75 10.5 .75 1.3 .75-16.6 .75 12.8 .75 3.6 .75-10.6 .75 10.3 .75-5.9 .75-2.1 .75 3.7 .75-.2 .75-4.4 .75 19.2 .75-13.6 .75-1.1 .75 8.6 .75-4.4 .75 7.6 .75-7.8 .75 3.5 .75-.9 .75 .7 .75-1.5 .75 .9 .75 9.4 .75-11.7 .75 1 .75 1.4 .75 4.9 .75-.6 .75 2.9 .75-11.3 .75 8.3 .75-2 .75-.4 .75 2.5 .75-10.6 .75 11.5 .75-.4 .75-7.8 .75 6.9 .75 8.5 .75-9.6 .75 5.2 .75-4 .75-2.7 .75-.4 .75 2.8 .75 8.7 .75-2.2 .75-7.5 .75 8.8 .75-5.5 .75-2.6 .75 5.8 .75-6.5 .75-3.1 .75 14.4 .75-15.3 .75 12 .75-10.1 .75 7.6 .75-.6 .75-1.1 .75-8.4 .75 10.5 .75 .5 .75-4.1 .75 4.3 .75 5.5 .75-8.3 .75 5 .75-6.8 .75 7.7 .75 1.5 .75 9.2 .75-7.7 .75-2.2 .75 4.9 .75-11.7 .75 10.2 .75-7.8 .75-.3 .75 8.5 .75-4.2 .75 5.4 .75-13.5 .75 8.5 .75-3.8 .75 1.3 .75-7.9 .75 14 .75-3.5 .75-5.8 .75-1.6 .75 2.4 .75 11.1 .75-7.2 .75-1.1 .75 4.1 .75-2.2 .75 1.1 .75 2.6 .75-2 .75 2.8 .75-10 .75 6.2 .75-2 .75 2.3 .75-.6 .75-2.8 .75 1.5 .75 6.3 .75-7.2 .75-3.2 .75 8.9 .75 1.9 .75-5.9 .75 2 .75-4.6 .75 3.1 .75 6.3 .75-1.4 .75-3.2 .75-2.2 .75-6.6 .75 9.2 .75 .6 .75 2.7 .75 4.5 .75-8.2 .75 2.7 .75-10.3 .75 11.1 .75-1.8 .75 2.2 .75-3.5 .75-1.3 .75 4.8 .75-10.6 .75 6.2 .75 2 .75-9.3 .75-2 .75 7.5 .75-1.7 .75 2.2 .75 0 .75-7.1 .75 5.3 .75 3.6 .75-7.4 .75 .2 .75-4.3 .75 9.3 .75 5.4 .75-16.5 .75 10.3 .75 .5 .75-7.4 .75 .7 .75-3.4 .75 1 .75 4.5 .75 2.2 .75-2.8 .75 3.5 .75-3.4 .75-7 .75 12.8 .75-1.5 .75-9.5 .75 12.1 .75-6.5 .75-1.8 .75 8.7 .75-22 .75 4.3 .75 11.3 .75-4.8 .75-3.6 .75 12.1 .75-5.2 .75-8.8 .75 3 .75 7.5 .75 4.7 .75-18.7 .75 11.2 .75-3 .75-6.6 .75 8 .75-7 .75 5.5 .75 10.8 .75-5.3 .75 1.4 .75-.7 .75-1.1 .75 3.2 .75-10.4 .75 4.2 .75 6.1 .75-7.7 .75 1.6 .75 8.3 .75 1.8 .75-10.4 .75-.8 .75 7.1 .75-1.3 .75-4.4 .75 6.5 .75 .1 .75-2 .75 14.3 .75-7.5 .75-2.3 .75 1.3 .75 9.7 .75-8.8 .75-8.5 .75 5.4 .75-.9 .75-2.8 .75 4.3 .75 .2 .75-1.2 .75-1.7 .75 6.6 .75-11.3 .75 12 .75-3.6 .75 1.6 .75-12.3 .75 19.9 .75-15.9 .75 4.6 .75 7.6 .75-5.5 .75 1.4 .75-8.2 .75 9 .75 3.5 .75 2.6 .75-4.1 .75 2.9 .75 1.4 .75-4.7 .75 .1 .75 13.1 .75-12.7 .75 10.2 .75-5 .75 6.9 .75-9.5 .75 5.7 .75-.5 .75-2.4 .75 2.8 .75-4.8 .75 3.3 .75-1.3 .75 5.5 .75-3.7 .75-5.9 .75 4.9 .75 1.4 .75-3.6 .75 10.5 .75-4.2 .75 2.2 .75-7.2 .75 1.8 .75 6.6 .75-11.1 .75 8.4 .75-1.1 .75-2.7 .75 2.8 .75-5.4 .75 6 .75-6.7 .75-.5 .75 12.2 .75-9.9 .75-6.7 .75 14 .75-8.3 .75-12.9 .75 15.8 .75 4.3 .75-2.9 .75 6.2 .75-8.8 .75 3.1 .75-7.7 .75 5.3 .75 6.1 .75-5 .75-1.8 .75-10.3 .75 7.2 .75-4.6 .75 9.4 .75-7.5 .75 4.8 .75-6.8 .75 13.2 .75-14.9 .75 5.7 .75 11.4 .75-11.9 .75-5.7 .75 6.6 .75 1.4 .75-1.1 .75-14 .75 10 .75-11.7 .75 19.1 .75-9.1 .75-2.7 .75 5.5 .75-.7 .75-7.8 .75 14 .75-8.4 .75-6.6 .75 15.8 .75 1.4 .75-.6 .75-2.7 .75-6 .75 9.4 .75 5.1 .75-4.2 .75 4.4 .75-10.4 .75 9.2 .75 .4 .75-10.4 .75 .3 .75 5.1 .75 4.7 .75 2.7 .75-2 .75 1.8 .75 .8 .75 1.9 .75 3.2 .75 .5 .75-1.7 .75 2 .75-2.6 .75 6 .75-5.3 .75 9.8 .75-7 .75 1.6 .75-4.3 .75 2.2 .75 2.5 .75-.3 .75-2.5 .75-2.1 .75 5.6 .75 .8 .75 2 .75 3.4 .75-6.6 .75-7 .75 8.4 .75-7.1 .75 2.7 .75 10.3 .75-1.7 .75-5 .75 .3 .75 2.6 .75-7 .75 9.9 .75-3.4 .75 9.7 .75-12.3 .75 9.1 .75-7 .75 7.6 .75-8.4 .75 7.6 .75-4.8 .75-1.5 .75 3.2 .75 2.9 .75-.1 .75 5.2 .75-3 .75-14.5 .75 9.7 .75-6.6 .75 7.1 .75 4.4 .75-8.1 .75 .8 .75 5.8 .75-1.7 .75 8.1 .75-5.2 .75 1 .75 5.3 .75-9.3 .75 2.2 .75-4 .75 5.4 .75 3.4 .75 1.6 .75-5.8 .75-2.7 .75 0 .75-2.5 .75 6.5 .75 5.3 .75-15.5 .75 1 .75 15.2 .75-12.5 .75 8.3 .75-6.5 .75 8.7 .75 .1 .75-2.4 .75 2.9 .75-3.1 .75 2.3 .75 5.4 .75-2.9 .75-7.1 .75-.5 .75 2.5 .75 .2 .75 1.4 .75-2.6 .75 5.3 .75-2.4 .75 1.5 .75-1.3 .75 2.6 .75-7.3 .75 11.5 .75-5 .75 .6 .75 .7 .75 2 .75-1.3 .75-2 .75-1.6 .75-6 .75 7.7 .75-2 .75 0 .75 11.3 .75-17.5 .75 8 .75 4.8 .75-1 .75 1.3 .75-10.2 .75 1.3 .75 6.5 .75-3.7 .75 8.3 .75-6 .75-.1 .75 1 .75-2.9 .75 1.6 .75-3.2 .75 2.6 .75-1.8 .75 3 .75-6.8 .75-.3 .75 8 .75-1 .75-4.9 .75 3.1 .75-3.4 .75 12.6 .75-14.7 .75 13.4 .75-10.4 .75 5.1 .75-2.8 .75-.5 .75 5.4 .75-.5 .75-4.5 .75-2.5 .75 12.2 .75-2.7 .75-5.2 .75-1.8 .75 2.4 .75-.9 .75 4.6 .75-8.8 .75 4 .75-3.3 .75 8.6 .75 2 .75-7.8 .75 2.6 .75 3.6 .75-7 .75-2.6 .75 8.1 .75-2.2 .75-3 .75 6.8 .75-5 .75-8.3 .75 8.7 .75-1.8 .75 7.9 .75-7.8 .75-.9 .75 2.6 .75-.9 .75-6.8 .75 6.2 .75-1.9 .75 7 .75 4 .75-14.5 .75 .5 .75 .5 .75 .6 .75-.2 .75 3 .75 4.2 .75-9.9 .75-1.1 .75-1.4 .75 12 .75 .8 .75-12 .75-.6 .75 7.1 .75 3.7 .75-.5 .75-3.6 .75 1.8 .75-1.7 .75-3.9 .75 10 .75-8.2 .75-4.8 .75 2.4 .75-4.7 .75 6.3 .75 4.3 .75-10.1 .75 9.8 .75 3.8 .75-7.5 .75-6.9 .75 .9 .75 1.8 .75-4.6 .75-.5 .75 3.6 .75-.4 .75 2.7 .75-8.5 .75 12.5 .75-4.2 .75-1.5 .75-7.5 .75 9.8 .75-9.9 .75 8.7 .75-4 .75-9.5 .75 1.2 .75 9.7 .75-4.6 .75-6 .75 .9 .75-.8 .75-5.2 .75 1.8 .75-2.9 .75 .2 .75 3.2 .75-7.4 .75 6.9 .75-3.8 .75 2.2 .75-.3 .75 .8 .75-3.8 .75-.5 .75-5.1 .75 2.7 .75-7.9 .75 2.2 .75 3.9 .75-4.8 .75 1.5 .75-8.1 .75 10.9 .75-10.4 .75 4 .75-2.9 .75 4 .75-7.1 .75-3.7 .75-5 .75 7.4 .75-4.9 .75 8.1 .75 4.1 .75-18.7 .75 4.2 .75 7.6 .75 4.2 .75-5.1 .75-.2 .75 .5 .75 .1 .75 5.2 .75-5.2 .75-9.3 .75 4 .75 3.7 .75-4.8 .75 3.1 .75-.9 .75-.4 .75 7.4 .75-4.9 .75-3.1 .75 2.4 .75 4.2 .75 10.8 .75-8.8 .75 6.5 .75-4.4 .75-12.6 .75 12.9 .75-5.6 .75-2 .75 1.9 .75 14.5 .75-16 .75 5.1 .75 9.1 .75-1.9 .75-11.1 .75 8.2 .75-1.6 .75 1.9 .75 5 .75-6.2 .75 1.5 .75 8.8 .75-15.8 .75 7.3 .75 4.2 .75-8.2 .75 3.1 .75-3.1 .75 7.2 .75-3.5 .75 7 .75 1.4 .75-4.2 .75-1.6 .75 3.7 .75-.2 .75-5.3 .75 11.7 .75-3.1 .75 3.6 .75-9.2 .75 11.4 .75 6.6 .75-6 .75-8.7 .75 7.8 .75 .5 .75 2.1 .75-1.1 .75 4.2 .75-3.5 .75 4.1 .75-3.3 .75 4.5 .75 4.9 .75-5.8 .75 6.1 .75-6 .75 3.2 .75 1.5 .75 7.4 .75-7.9 .75 9.5 .75-10.8 .75 6.5 .75 5.4 .75-.3 .75-6.5 .75-.3 .75 9.5 .75-8.5 .75 8.4 .75-4.1 .75 2.6 .75 10.3 .75-2.7 .75-2.4 .75-8.8 .75 7.6 .75-.5 .75-.2 .75 6.5 .75-12.1 .75 8.9 .75-.2 .75-3.1 .75 10.6 .75-11.7 .75 5.7 .75 .6 .75-8.9 .75 3.4 .75 2.1 .75 7.3 .75 .8 .75-1.3 .75-1.3 .75-9.7 .75 9.8 .75-2.8 .75 6.9 .75 .8 .75 3.7 .75-6.1 .75 .6 .75-7.3 .75 4.6 .75-5.2 .75 8.6 .75-8.2 .75 4 .75-2.3 .75 1.5 .75 3.8 .75-3.9 .75 3.2 .75-4.7 .75 9.6 .75-8 .75 6.7 .75 4.6 .75-18.1 .75 5.9 .75 3.2 .75 5.6 .75-6.5 .75 3.6 .75-4.3 .75 5.2 .75-6.9 .75 8.2 .75-15 .75 4.5 .75 14.7 .75-6.4 .75-4.1 .75 12.3 .75-4.4 .75 .4 .75-6.1 .75 4.2 .75-.4 .75-8.5 .75 8.9 .75-3 .75 5.8 .75 .1 .75-7.6 .75 .2 .75 3.1 .75 1.9 .75-4.2 .75 1.2 .75 2.9 .75-.7 .75 3 .75-3.6 .75-4.4 .75-3.4 .75 10.2 .75-4.5 .75 0 .75 .2 .75-5 .75 4.7 .75-8.7 .75 8.7 .75-1.9 .75 10.8 .75-5.4 .75-2.6 .75 1.5 .75 2.3 .75-5.8 .75 2.1 .75-.5 .75 11.3 .75-9.5 .75-8 .75 10.9 .75 7.1 .75-13.9 .75 17.5 .75-13.9 .75 4.2 .75-6.1 .75 1.2 .75-3.8 .75 .8 .75-4.3 .75 13 .75-9 .75 6 .75-.1 .75-3.8 .75 2.8 .75-.6 .75-1.5 .75 2.2 .75 0 .75-4.2 .75-1 .75 1.8 .75 3.9 .75 5 .75 .3 .75-4.5 .75 2.6 .75-3.3 .75 3.9 .75-3.8 .75 1.1 .75-2.6 .75 1.1 .75 7.6 .75-12.2 .75 4.8 .75-2.3 .75 6.1 .75 3.4 .75-8.3 .75-9.7 .75 13.4 .75 0 .75-9 .75 5.7 .75 .8 .75-8.9 .75 11.8 .75-.8 .75-.8 .75-5.1 .75 1.4 .75 .4 .75 4.4 .75-5.7 .75 9.6 .75-4.2 .75-10.1 .75 15.3 .75-6 .75-2.7 .75 2.6 .75-7.6 .75 8 .75-10.4 .75 5.6 .75 9.4 .75-.3 .75-6.3 .75-2.4 .75 7.5 .75-3.8 .75 1 .75 1.7 .75-6.7 .75 7.4 .75-11.4 .75 14.1 .75-11.9 .75 3.7 .75-.1 .75 5.5 .75 .1 .75-1.5 .75 .8 .75-.3 .75-2.1 .75-7.2 .75-1.5 .75 0 .75 8.9 .75-.6 .75 .3 .75 1.5 .75-1.8 .75-3 .75-1.9 .75-1.5 .75 12.2 .75-1.1 .75-8.9 .75 4.3 .75 2.8 .75 4.6 .75-8.6 .75 3.1 .75 3.9 .75-11.4 .75 4 .75 2.7 .75-2.6 .75 11.2 .75-4.9 .75-2.6 .75-4.5 .75 7.2 .75-.9 .75-4.5 .75 .4 .75-4 .75 5.4 .75 3.8 .75 .5 .75-1.6 .75 1 .75-5.5 .75 .5 .75 6.6 .75-3 .75-4.8 .75 5.1 .75 1.3 .75-.4 .75-2.4 .75-2.4 .75 3.7 .75 5.1 .75-6.1 .75-3.1 .75 3.9 .75-6.1 .75 5.8 .75-2.1 .75 5 .75-3.3 .75 3.7 .75 4.9 .75-9.8 .75-2.4 .75 5.1 .75-2.1 .75 .9 .75-2.9 .75 4.6 .75-1.9 .75-8.7 .75 7.5 .75 2.2 .75 3.3 .75-6.8 .75-.9 .75 7.6 .75-6.8 .75 2.7 .75 1.5 .75 1 .75-2.8 .75-4.4 .75 8.3 .75-5.7 .75-.3 .75 9.8 .75-4.4 .75-7.5 .75 2.2 .75 1 .75-2 .75-4.5 .75 10.5 .75-.1 .75-2 .75-2.5 .75 2.3 .75 1.7 .75-6.5 .75 2.7 .75-.9 .75 4.9 .75-1.7 .75-6 .75 2.6 .75 9.3 .75-10.7 .75 4.4 .75-3 .75 7.2 .75-5 .75-1.5 .75-2.8 .75 3.6 .75 4.1 .75-.6 .75-7.7 .75 11.1 .75-7 .75-3.1 .75 4.6 .75-2.9 .75 .2 .75-.3 .75 2.1 .75-1.5 .75-4.7 .75 8.6 .75-4 .75 6.6 .75-2.5 .75 .3 .75-1.7 .75 4.3 .75-6.3 .75-2.6 .75 5.2 .75-11.8 .75 9.1 .75 2.2 .75-2.4 .75 6.4 .75-2.1 .75-2.3 .75-2 .75 5.8 .75-6.8 .75 1 .75 4.5 .75-.6 .75 5.5 .75-8.7 .75-6.4 .75 9.8 .75 2.3 .75-5.5 .75 6.7 .75 .8 .75-9.4 .75 .7 .75-3 .75 7 .75 .6 .75-.4 .75-7.1 .75 1.8 .75-2.6 .75-.7 .75 1.1 .75-.9 .75 5.4 .75 2.3 .75 .8 .75-2.5 .75-2.5 .75 2.5 .75 2.3 .75-3.4 .75 1.4 .75-1.4 .75-.9 .75 2.2 .75-4.5 .75 8.4 .75-10.1 .75 7.8 .75-7 .75 11.1 .75-2.5 .75-6.5 .75 1.4 .75-2.6 .75 4.1 .75 1.8 .75 8.3 .75-15.1 .75 10 .75-7 .75 3.3 .75 2.3 .75-1.3 .75-.4 .75-2.4 .75 .7 .75 .6 .75 4 .75-10.3 .75 3.8 .75-2.9 .75 1 .75 .6 .75 7.3 .75 4 .75-3 .75-9.8 .75 4.8 .75-4.7 .75 6.1 .75 3.2 .75-2.7 .75 1.1 .75-4 .75-7 .75-.1 .75 7.3 .75 2.5 .75 2.7 .75-6.2 .75 1.6 .75 .6 .75 3.1 .75-4.4 .75-3.9 .75 8.4 .75-2.7 .75-.1 .75-6.4 .75 4.9 .75-6.6 .75-1.2 .75 6.8 .75-.7 .75 3.8 .75 3.4 .75-5.8 .75 7.1 .75-9.2 .75 5.2 .75-7.9 .75 5.4 .75-1.8 .75 .4 .75 3.1 .75-9.6 .75 7.7 .75-3.6 .75 3.6 .75 1 .75-2.9 .75 0 .75-3.1 .75 6.6 .75-4.8 .75 4.3 .75-7.2 .75 10.8 .75-9.3 .75 8.4 .75-6.2 .75 3.8 .75-2.7 .75 3.2 .75-2.6 .75 4.8 .75-2.3 .75 0 .75 3.8 .75-9.1 .75 7.7 .75-4.8 .75-6 .75 7.5 .75-2.6 .75 7.3 .75-8.5 .75 2.1 .75 .7 .75-8.3 .75 9.3 .75-5.8 .75 9.3 .75 .9 .75-6.5 .75-6.1 .75 6.8 .75 0 .75 2.1 .75-4 .75-3.4 .75 4 .75-3.1 .75 10.5 .75-9.7 .75 .2 .75 2.4 .75-4.7 .75 3.1 .75 1.2 .75-1.4 .75 .9 .75 5.8 .75-3.2 .75-6.9 .75 3.5 .75 4.6 .75-5.5 .75 2.8 .75-.4 .75 2.1 .75-2.7 .75 .1 .75-2.8 .75 4.7 .75-5 .75 10.3 .75-6.8 .75-.8 .75 3.9 .75-3.4 .75 .6 .75-.5 .75-2.7 .75-.8 .75 .9 .75 7.1 .75-6.9 .75 .9 .75-.2 .75 4.4 .75 5 .75-11.3 .75 5.7 .75-1.7 .75-1.7 .75 3.2 .75-7 .75 8.2 .75-2.4 .75-4.8 .75 10.1 .75-2.9 .75 1.2 .75-10.2 .75 4.6 .75-1 .75 4.4 .75 2.8 .75-12.7 .75 7.5 .75-.6 .75 4.4 .75-4.1 .75-4.8 .75 4.2 .75-3.3 .75 1 .75 3.2 .75-2.1 .75 2.9 .75-7 .75 14.9 .75-4.1 .75-2.1 .75-7.9 .75-3.4 .75 5.1 .75 2.4 .75 9.6 .75-3.7 .75-7.1 .75 6.7 .75 .1 .75-4.8 .75 4.7 .75-3.5 .75-3.9 .75-2 .75 4 .75 4.3 .75-9.2 .75-1.1 .75 8.4 .75-12.8 .75 17.7 .75-8.9 .75 4.5 .75 4.3 .75-13 .75 1.5 .75 12.9 .75-10 .75 .6 .75 1.3 .75 3.2 .75 1 .75-4.9 .75-1.8 .75 1.1 .75 1.3 .75 3.9 .75-4.7 .75 6.6 .75-10.6 .75 5.4 .75 4.7 .75-1.9 .75-3.8 .75-4.8 .75 .6 .75 2.1 .75 1.8 .75-2.3 .75-4.8 .75 2.8 .75 4.9 .75 1.1 .75-8.8 .75 4 .75-5.3 .75 4.4 .75 16.2 .75-13.9 .75-1.7 .75-1 .75-2.5 .75-2.6 .75 7.1 .75-1 .75 6.9 .75-12.4 .75 8.2 .75 3.6 .75-13.1 .75 10.3 .75-9 .75 8.5"/>
<path stroke="#808000" d="M172.5,472.3l.75-14.7 .75 3.2 .75-9.5 .75 10.3 .75 9.1 .75-12.4 .75 1.4 .75 6.3 .75 5.4 .75-23.4 .75 18.1 .75-6.2 .75 12.9 .75 6.5 .75-6 .75 10.9 .75-21.4 .75 7 .75-4.6 .75 11.6 .75 1.6 .75-1.6 .75-8.7 .75 12.5 .75-2.1 .75 11.5 .75-7.2 .75 15.4 .75-7.7 .75-19 .75 17.8 .75-10.8 .75 24.7 .75 5.9 .75-12.8 .75 5.9 .75-16.9 .75-6.3 .75 17.7 .75 4.3 .75-10.7 .75 16.8 .75 3.5 .75 4.5 .75 10 .75-5.9 .75-10 .75 5.7 .75 5.9 .75-14.6 .75 23.7 .75-3 .75-9.7 .75-2.8 .75 43.2 .75-27.1 .75 2 .75 9.1 .75-6.6 .75-6.3 .75 5.7 .75-14.2 .75 16.4 .75-20.1 .75 19.5 .75 2.3 .75-18.8 .75 33.6 .75-27.7 .75 21.5 .75-13.7 .75 8.8 .75-8.1 .75 30.2 .75-12.7 .75 8 .75-8.7 .75 .1 .75-4.3 .75-2.7 .75 8.6 .75-3.3 .75-2 .75-10.5 .75 10.7 .75 9.2 .75-9 .75 8.3 .75-3.7 .75-7.3 .75 2 .75 2.4 .75 5 .75 1.1 .75 13.6 .75-19.3 .75-7.8 .75 26 .75-9.4 .75 4.2 .75 25.4 .75-8.8 .75-6.9 .75 4.4 .75-6.4 .75 8.7 .75-13.1 .75 .3 .75 3.3 .75 19.6 .75 .9 .75-18.4 .75 17.1 .75-10.8 .75 12.2 .75-11.4 .75 12.5 .75-8.4 .75-.5 .75 3.4 .75 2.6 .75-5.7 .75-6.1 .75 28.1 .75-17.7 .75-11.9 .75-3.2 .75-4 .75 20.2 .75 18.2 .75-25.7 .75 12.4 .75-12.7 .75 26.7 .75-5.7 .75 .4 .75 9.8 .75 3.3 .75-4.7 .75-13.4 .75-5.8 .75 3.3 .75-5.5 .75 31.9 .75-16.7 .75 3.6 .75 1.3 .75 16.7 .75-21.8 .75 16 .75-6.9 .75-3.3 .75-14.6 .75 25.5 .75-13.7 .75 3.2 .75 6.7 .75-.4 .75 9.7 .75-14.8 .75 8 .75 1.7 .75-1.4 .75 6.4 .75-7.3 .75 13.3 .75-15.7 .75-5.5 .75 12.8 .75 11.2 .75-13.7 .75-.2 .75 3.3 .75 5.2 .75-2.1 .75 5 .75-16.4 .75 28.2 .75-6.9 .75-11.4 .75 19.8 .75-7 .75 9.5 .75-21.6 .75 24.9 .75-12.8 .75-16.9 .75 24.6 .75-8.1 .75-5.1 .75 7.6 .75-13.6 .75 22.1 .75-5.8 .75 .5 .75 15 .75-10.5 .75-4.7 .75-1.3 .75 8.5 .75 10.6 .75-12.5 .75-2.6 .75 17.4 .75-6 .75 .5 .75 18.5 .75-26.1 .75 12.7 .75-15.3 .75 13 .75 8.1 .75 5.1 .75-18.9 .75 17.9 .75 .2 .75-6.7 .75 21.7 .75-19.4 .75-6.5 .75 11.2 .75-17.9 .75 28.4 .75-4 .75-10.6 .75 8.8 .75 0 .75 11.9 .75-19.9 .75-4.8 .75-5.3 .75 14.7 .75-9.6 .75 12 .75 5.4 .75-6 .75-3.2 .75 18 .75-10.2 .75 4.3 .75 6.7 .75-17.1 .75 4 .75 28.1 .75-20.1 .75-6.1 .75 7.2 .75-1.6 .75-4.2 .75 7.4 .75 4 .75 .9 .75 5.3 .75-16.9 .75 2.8 .75 18.8 .75-8.7 .75 13.9 .75-6.2 .75-12.4 .75 16.1 .75-11.1 .75 10.7 .75 8.4 .75 7.7 .75-15.9 .75 6.8 .75-2.2 .75 4.7 .75-24.7 .75 17.5 .75 6.1 .75 2.2 .75-8.4 .75 12.9 .75 3 .75-6.9 .75-1.4 .75-.1 .75 4.7 .75 8.7 .75 3.3 .75-14 .75-2.6 .75 1.8 .75 14.2 .75-5 .75 1.3 .75 2 .75-.1 .75-3 .75-6.2 .75 3.9 .75 6.2 .75 2.6 .75-4.9 .75 .3 .75 13.9 .75-12.9 .75 5.8 .75-3.4 .75-3.3 .75-4.1 .75 7.9 .75-1.4 .75 12.9 .75-13.9 .75 6.1 .75 8.5 .75-4.9 .75 5.2 .75 3.3 .75-17.3 .75 9.8 .75-3.1 .75 17.5 .75-9.8 .75 5.3 .75 9.4 .75-13.9 .75 3.9 .75 3.2 .75-4 .75 11.7 .75-2.3 .75 2.1 .75-6 .75-1.9 .75 .7 .75 .7 .75-8.2 .75 15 .75 4 .75-5 .75-2.7 .75 4.5 .75 2.1 .75 1.5 .75 10.9 .75-17.7 .75 9.2 .75 3 .75-3.6 .75-1.4 .75-4.7 .75 3.7 .75 9.6 .75 5.9 .75-13.8 .75 8.5 .75 1 .75 4.1 .75-4.5 .75 2 .75 3.8 .75-13.3 .75 8.9 .75-11.6 .75-.8 .75 8.4 .75-4.2 .75 14.3 .75 3.8 .75-8.3 .75 1.6 .75-.2 .75 .2 .75 3.1 .75 1.9 .75-5 .75-1.7 .75 2.2 .75 9.3 .75-7.7 .75 12.9 .75-10.9 .75 11.2 .75-16.6 .75 3.8 .75 8.2 .75 .5 .75-3.8 .75 15 .75-12.5 .75 2 .75-5.1 .75 15.2 .75-4.7 .75-2.3 .75-12.8 .75 13.8 .75-4.8 .75 6.2 .75 4 .75-10.1 .75 6.9 .75 4.9 .75-4 .75-2.5 .75-4.1 .75 3.1 .75-3.2 .75 15.2 .75-5.1 .75-7.8 .75 8.4 .75-7.6 .75-12.1 .75 29.4 .75 .3 .75-16.2 .75 5.5 .75 6.5 .75-3.1 .75-2.4 .75 2.8 .75 2.4 .75-1.4 .75 5.5 .75-2.2 .75-2.7 .75 5.5 .75-9.9 .75 20 .75-19.3 .75 10.8 .75 3.2 .75 1 .75-.4 .75 6.7 .75-14.3 .75 7.1 .75 1.9 .75-3.5 .75-.1 .75 12.2 .75-11.8 .75 1.9 .75 1.8 .75 .9 .75 2.8 .75-1.7 .75 4.1 .75-1 .75 2.6 .75 5.9 .75-12.9 .75 15.6 .75-12.3 .75 7.2 .75-2.7 .75-2.4 .75-9.6 .75 21.9 .75-13.9 .75 .2 .75 11.5 .75-5.6 .75 11.4 .75-1 .75-5.4 .75-2.4 .75 3.4 .75-12 .75 9.2 .75 .3 .75-3.3 .75 4.6 .75-9.8 .75 14.4 .75 2.7 .75-15 .75 8.9 .75 8.7 .75-6.4 .75-8.2 .75 .6 .75 11.2 .75 6.1 .75-16.8 .75 6.9 .75-4.4 .75 3.2 .75 3.8 .75-1.7 .75-3.4 .75 16.6 .75-12.9 .75 .2 .75 7.9 .75-6.1 .75-.9 .75 7.1 .75-11.2 .75 10.7 .75 1.9 .75-1.7 .75-4.5 .75 1.3 .75-9.4 .75 9.5 .75 2.8 .75 3.8 .75-3.8 .75-2.6 .75-2.2 .75 5 .75 1.4 .75 6.6 .75-6.5 .75-2.5 .75 2.7 .75-1.7 .75 1.8 .75-10.8 .75 3.9 .75 2.7 .75 9.8 .75-2.7 .75 1.7 .75 6.1 .75-12.1 .75 12.6 .75-3.9 .75-5.9 .75 12.6 .75-16.1 .75 1.9 .75 5.4 .75 3.7 .75-3.1 .75-10.7 .75 10.5 .75 1.4 .75 14.9 .75-6.3 .75-6.7 .75-6.6 .75 8.2 .75-8.1 .75 7.8 .75 1.1 .75-4 .75 3.8 .75-3 .75-1.1 .75 11.9 .75-5 .75-4.7 .75-2.3 .75 5.4 .75 2.4 .75 1.8 .75 3.6 .75-5.3 .75-8.5 .75 17.5 .75-4.5 .75-1.6 .75 3 .75-15.3 .75 6.4 .75-.5 .75 9.5 .75-12.7 .75 4.9 .75 10.3 .75-4.6 .75-5.4 .75 12.6 .75-17.3 .75 9.9 .75-3.5 .75 4.2 .75-4.1 .75-2.9 .75 5.9 .75-8.2 .75 10.2 .75-4.5 .75 6.9 .75-7.2 .75-1.1 .75 5.9 .75 4.7 .75-17.7 .75 12 .75 2.8 .75-10.9 .75 3.1 .75 8.4 .75-7.8 .75 1.2 .75 12.8 .75-14.2 .75 .6 .75-7.6 .75 6.8 .75-.5 .75 16 .75-2.4 .75-13.1 .75 17.6 .75-6.2 .75-4.8 .75 5.6 .75-2.1 .75-5.8 .75-5.1 .75 4.8 .75 5.1 .75-1.6 .75-1.8 .75 9.4 .75-10.6 .75 10.7 .75-7.1 .75 3.4 .75-6.2 .75 6.1 .75-3.9 .75-4.8 .75 9.3 .75 0 .75 4.8 .75-2.8 .75-6.7 .75 2.2 .75-9.8 .75 7.3 .75 12.9 .75 1.2 .75-3.9 .75-2.3 .75 1.5 .75-.4 .75-11.6 .75 4.6 .75 10.9 .75 .1 .75-4.9 .75-2.8 .75-.3 .75-.7 .75-2 .75-5.1 .75 11 .75-3 .75 1.3 .75 10.3 .75-5.7 .75-6.7 .75 6.9 .75-10.8 .75 13.6 .75-4 .75-2.3 .75 4.2 .75 4.8 .75-10 .75-2.5 .75 16.4 .75-10.9 .75 7.9 .75-11.2 .75 5.7 .75-5.2 .75 6.8 .75-4.6 .75-1.9 .75 11.7 .75-6.2 .75-12.2 .75 9.5 .75-3.4 .75-1.5 .75 3.4 .75 .7 .75 2.7 .75-4.2 .75-5.5 .75 7 .75 7.5 .75-11.7 .75 10.4 .75-.7 .75-4.7 .75 4.1 .75-5.5 .75 1.9 .75-3.2 .75 7.9 .75 4.8 .75-10.6 .75 9.8 .75-17.3 .75 6.6 .75-.6 .75 14.3 .75-11.9 .75 7.2 .75-14.7 .75 11.3 .75 2.4 .75-3 .75-14 .75 15.2 .75 3.3 .75 2.7 .75-4.7 .75-10.8 .75 7.7 .75 5.9 .75-9 .75 7.3 .75-5.4 .75 3 .75 3.5 .75-7.6 .75 18.7 .75-14.1 .75 1 .75-5.6 .75 4.3 .75-1.7 .75-6.2 .75-.3 .75 9.5 .75-1.9 .75-13.2 .75 2.6 .75 9.6 .75 1.3 .75 3.6 .75-9.6 .75 9.6 .75-4.6 .75-1 .75 1.9 .75 5.9 .75-2.2 .75 1.8 .75-8.2 .75 2.2 .75-4.5 .75 3.2 .75 .8 .75-.3 .75 6.2 .75-1.5 .75 1.8 .75-3.3 .75 5 .75-5 .75 4.4 .75-2.4 .75 1.2 .75-4.1 .75-6.1 .75-1.1 .75 17.7 .75-8.2 .75 .3 .75-3.2 .75-1.5 .75 17.4 .75-20.8 .75 5.5 .75 0 .75-5.6 .75-.7 .75 2.9 .75 1.9 .75-.7 .75 6.7 .75-10.3 .75 8.2 .75 5.6 .75-3 .75-10.6 .75-9.5 .75 19.8 .75-1.8 .75-5.6 .75 9.7 .75-8.8 .75 2.7 .75-6 .75 7.1 .75-3.9 .75-.4 .75 8.2 .75-4.5 .75-8.9 .75 11.4 .75 .7 .75-8.6 .75 2.2 .75 2.3 .75-1.6 .75 2 .75 2.7 .75-6 .75 13.3 .75-14.5 .75 .8 .75 13.1 .75 2.1 .75-12.3 .75-1.2 .75-4.6 .75 11.5 .75-5.1 .75-5.4 .75 6.5 .75 5 .75-3.6 .75 7.9 .75-5.5 .75-3.8 .75-2.5 .75 3 .75 3.5 .75-2 .75 1 .75-4.4 .75 2.9 .75 2.3 .75-7.3 .75-5.9 .75 15.7 .75-6 .75-5.4 .75 3.5 .75-2.5 .75-7.7 .75 7.9 .75-6.5 .75 8.5 .75-1.7 .75 6.5 .75-6.6 .75 2.5 .75-3.6 .75-.4 .75-5.4 .75 12.4 .75-4.3 .75-4 .75 4 .75-3.3 .75-1.7 .75 5 .75 5 .75-7.8 .75-6.2 .75 4.2 .75 12.6 .75-13.8 .75 10.4 .75-7.5 .75 5 .75-4.5 .75-7.8 .75 6.1 .75 13.2 .75-11.9 .75 3.6 .75-4.8 .75 1 .75 2.3 .75 .7 .75 9.1 .75-11.8 .75-1 .75-2.6 .75-3.5 .75-1.6 .75 11.9 .75-13.4 .75 17.2 .75-3 .75-6.2 .75-4.6 .75 6.2 .75-.1 .75 5.7 .75-9.9 .75 1.8 .75 1.7 .75-1.3 .75-1.9 .75-5.9 .75 .3 .75 5 .75 2.3 .75 6.3 .75 6.8 .75-3.3 .75-7.1 .75 7.7 .75-10.7 .75-2.3 .75 14.9 .75-18.1 .75 3.3 .75 .7 .75 9 .75-11.1 .75 7.2 .75-6.5 .75-4.5 .75 7.6 .75-.5 .75-7.2 .75 1.4 .75 .2 .75 9.2 .75-2.8 .75-1.3 .75 1.2 .75-5.3 .75 4.9 .75-5.9 .75-4.1 .75 3.2 .75 4.8 .75-.8 .75 5 .75-14.9 .75 7.8 .75 3.1 .75-7.4 .75 6.4 .75-3.7 .75-4.1 .75 12 .75-13.7 .75 12.8 .75-7.8 .75-2.9 .75 .2 .75 .7 .75-.7 .75 6 .75-11.6 .75 16.7 .75-2.2 .75 2.9 .75-12.8 .75-7.2 .75 9.1 .75 2.4 .75 2.5 .75-4.5 .75 2.3 .75 1.3 .75-9.2 .75 18 .75-15.8 .75 7.4 .75 4.4 .75-10.1 .75 4.2 .75 8.8 .75-10.4 .75 7.1 .75-4.1 .75-.3 .75 2.6 .75-5.2 .75 .1 .75 6.3 .75-3.8 .75 1.2 .75-9.2 .75 6.5 .75 6.5 .75-1.8 .75-3 .75-4.7 .75-.6 .75 5.7 .75 5.3 .75-7.5 .75 6.8 .75-8.7 .75 8.1 .75-12 .75 6.4 .75-6.8 .75 9.4 .75-.5 .75-8.3 .75 1.1 .75 1.7 .75-5.7 .75 3 .75 .4 .75 8.9 .75 3.3 .75-9.9 .75 .8 .75 2.7 .75-4 .75 1.4 .75 6 .75-3.3 .75-1.7 .75-2.6 .75 11 .75-11.3 .75 4 .75-6.2 .75 2.3 .75 3.8 .75-2.7 .75 5.1 .75-2.6 .75-7.8 .75-5 .75 17.9 .75-8.6 .75 11.2 .75-8 .75-4.2 .75 7.2 .75-4.5 .75 1.5 .75-5.1 .75 8.5 .75 2.5 .75-8.8 .75 12.5 .75-12.7 .75 4.5 .75-10.2 .75-1.5 .75 21.8 .75-3.6 .75-1.5 .75-15.3 .75 10.5 .75 1.1 .75-1.8 .75 1.3 .75-6.5 .75 4.2 .75-5.2 .75 4.3 .75 4 .75-6.2 .75 2.8 .75-.7 .75 2.4 .75 5 .75-3.6 .75 .9 .75-9.8 .75 5.9 .75 6.4 .75-9 .75 2.4 .75-2.8 .75 12.5 .75-9.6 .75-1.4 .75 7.3 .75 2.7 .75-3.2 .75 2.7 .75-4 .75-1.8 .75-1.6 .75-.3 .75-.4 .75 5.3 .75-2.5 .75 1.1 .75 2.9 .75-3.5 .75-7 .75 3.1 .75-1.7 .75-4.2 .75 10.8 .75-6.9 .75-.5 .75 1.1 .75 10.4 .75-6.4 .75 7 .75-5.9 .75-1.9 .75 5.4 .75 .1 .75-2.6 .75-6.2 .75 3 .75-3.9 .75 4.9 .75 1.9 .75 7.4 .75-.4 .75-4 .75 1.4 .75-3.9 .75 13.6 .75-6.7 .75 6 .75-12.2 .75 .1 .75 3.4 .75-4.7 .75 .6 .75-7 .75 10.3 .75-4.3 .75 3.6 .75-5.6 .75-8.4 .75 12.2 .75 3.5 .75-13.2 .75 1.7 .75 3.5 .75 .3 .75-7.9 .75 18.6 .75-4 .75-8.8 .75-6.5 .75 11.7 .75 8.8 .75-6.3 .75 1.8 .75-11.2 .75 6.3 .75-9.3 .75 18.8 .75-7.6 .75-14.3 .75 1.4 .75 12.6 .75-1.8 .75-2.4 .75 5 .75 7.5 .75-8.8 .75-11.6 .75 8.9 .75-6.2 .75 2.8 .75 6.1 .75-2.6 .75-4.8 .75 5.6 .75-4.2 .75 7.3 .75-4.1 .75 3.4 .75-3.5 .75 5.5 .75-4.7 .75 .7 .75-3 .75 3.9 .75-10.3 .75 23.9 .75-17.9 .75 4.2 .75-3.1 .75 0 .75 4.8 .75-4.9 .75 .5 .75-5 .75 2.4 .75-1.3 .75 16 .75-16.8 .75 1.4 .75 6.8 .75 6.7 .75-16.8 .75 .8 .75 9 .75 1.1 .75-9.4 .75-2.1 .75 4.5 .75 9.2 .75-4.3 .75 4.3 .75-4.6 .75 .4 .75 3.5 .75-4 .75 1.9 .75-6.1 .75 1.6 .75 5.8 .75-3.8 .75-2.8 .75 7.6 .75-.6 .75-3 .75-4 .75 8.9 .75 8.6 .75-17.9 .75-3.8 .75 4.1 .75-.9 .75-1.7 .75 .4 .75 10.9 .75 .1 .75 3.3 .75-4 .75-6.5 .75 8.4 .75-9.1 .75 1.4 .75-4.4 .75 13 .75-1 .75-7.8 .75 1.1 .75 2.2 .75 1.3 .75 3.9 .75-3.7 .75 2.3 .75-9.6 .75 6.9 .75-7.4 .75 19.4 .75-1.5 .75-3.1 .75 2.6 .75 5.2 .75-5 .75-12.8 .75 7.8 .75-10.7 .75 8.6 .75-1.8 .75 7 .75 2.6 .75-6.4 .75 3.9 .75 3.4 .75-1.8 .75 .4 .75-11 .75 10.5 .75 6.8 .75-2.3 .75-8.4 .75 6.6 .75 3.2 .75-5.9 .75 8.9 .75-7.1 .75 2.9 .75 1.5 .75 12.3 .75-12.4 .75-.9 .75 7 .75-5.6 .75 3.8 .75-11.9 .75 13.1 .75-1.3 .75-6.1 .75 13.5 .75-7.8 .75 .3 .75-5.5 .75-1.5 .75 5.4 .75-4.7 .75 10.2 .75 1.9 .75-7.4 .75-4.8 .75 6.1 .75-3.2 .75 6.2 .75 .1 .75-2.9 .75 2.5 .75 4.9 .75 3.4 .75-11 .75 6.3 .75-4.7 .75-4 .75 11.7 .75-4.4 .75-1.2 .75 1.2 .75-2.5 .75-4.4 .75 14.2 .75-4.3 .75-3.1 .75 3.6 .75 1.6 .75-7.3 .75 4 .75-4.4 .75 4.8 .75-4.3 .75 13.4 .75-13.8 .75 4.4 .75-.2 .75-3.9 .75 6.4 .75-5 .75-1.5 .75 2.1 .75-3.7 .75 9.8 .75-2.8 .75 1.8 .75-11.4 .75 8.1 .75-5.1 .75 4.3 .75 6 .75-5 .75-2.1 .75 6.5 .75-.4 .75 4.2 .75-18.3 .75 10.9 .75-3.6 .75-2.2 .75 5 .75-6.2 .75-5.2 .75 6.6 .75 3.2 .75 10.6 .75-12.7 .75-2.1 .75-3.9 .75 8.1 .75 .6 .75 2 .75-7.8 .75 3.4 .75-7.3 .75 12.1 .75-8.5 .75-5.7 .75 19.3 .75-3.2 .75-.7 .75 .1 .75-6.7 .75 10.4 .75-10.4 .75 14.6 .75-8.3 .75-10.1 .75 13.2 .75 5.4 .75-11.1 .75 6.4 .75-6.5 .75-2.2 .75-9.8 .75 18.6 .75-8.4 .75 3.8 .75-7.6 .75 .9 .75 9.8 .75-7.6 .75-.2 .75-4.5 .75 7.1 .75 2.6 .75-6.3 .75 1.2 .75-5.3 .75 12.8 .75-10.2 .75 2.1 .75 8.9 .75-9.7 .75-6.7 .75 2.9 .75 2.6 .75 10.5 .75-7.9 .75-2.5 .75 5.1 .75 2.2 .75-10.5 .75 10.8 .75-3.1 .75-2.2 .75-14.3 .75 12.7 .75 5.8 .75-8.6 .75 12.9 .75-11.5 .75-5.7 .75 7.9 .75-1.7 .75 2.6 .75-5.6 .75 7.5 .75-9.7 .75 3.3 .75-7.3 .75 2.1 .75 4.8 .75-4.6 .75 .8 .75 1 .75 2.1 .75 2.4 .75-.2 .75 1.1 .75-4.3 .75-4 .75-5.5 .75 6.3 .75-2.4 .75-5.4 .75 17.8 .75-18.1 .75 11.3 .75 .9 .75-4.1 .75 14.5 .75-13.4 .75-4.1 .75 13 .75-13.3 .75-3.4 .75 2.2 .75 1.8 .75 3.5 .75 1.4 .75-9.6 .75 9.7 .75 9.8 .75-15.2 .75 3.2 .75 4.5 .75 2.8 .75-9.4 .75-1.2 .75 0 .75 11.2 .75-.7 .75-15.5 .75 .4 .75 5 .75-1.1 .75 10.1 .75-.6 .75 9.2 .75-5.7 .75-3.1 .75 5.7 .75-10.3 .75-2.3 .75 7.7 .75 4.9 .75-12.7 .75 13.2 .75 .2 .75-6.5 .75 3.8 .75-1.8 .75 2.3 .75 4.1 .75-7.7 .75 9.7 .75-.4 .75 .6 .75-13.9 .75 1 .75 13.2 .75-5.9 .75-.1 .75 .1 .75-2.4 .75 5.7 .75-1.7 .75 .7 .75 6 .75-7.8 .75 11.8 .75-16.2 .75 23.6 .75-18.7 .75 9.8 .75 1.8 .75-4.2 .75 3.9 .75-4 .75-7.8 .75 10.5 .75 4.1 .75-8 .75-5.4 .75 5.6 .75 4.7 .75 .1 .75 4.2 .75-2.5 .75 0 .75-12 .75 20.7 .75-10.4 .75 4.1 .75-5.8 .75 1 .75 1 .75 7.3 .75-.4 .75-4.5 .75 6.5 .75-11.7 .75 4.3 .75-4.9 .75 8.4 .75-6.3 .75 4.5 .75 3.5 .75-18.7 .75 20.6 .75-9.2 .75-3.3 .75-7.9 .75 7.7 .75-10 .75 11.5 .75-1.4 .75 9.5 .75-10.8 .75 6.5 .75 .1 .75 4 .75-11.9 .75 4.6 .75-11.8 .75 1.5 .75 3.7 .75 .7 .75-6.4 .75 3.6 .75 5.3 .75-6.1 .75 1.4 .75-3.7 .75 11.5 .75 2.2 .75-7.6 .75-1.2 .75 9.4 .75-5.5 .75-5.3 .75-2.9 .75 4.3 .75 14.3 .75-13.3 .75 17.7 .75-13.8 .75-.6 .75 8 .75-7.2 .75 3.6 .75-6.5 .75-.5 .75 2.9 .75 5.2 .75-3.8 .75-5.8 .75 12.3 .75-2.6 .75-.1 .75-1.1 .75-7.4 .75 18.9 .75-9.4 .75 5.3 .75 4.6 .75-.8 .75-4 .75-.4 .75 1.8 .75 3.3 .75-1.1 .75-4.4 .75 4.7 .75 .1 .75 1.9 .75-1.8 .75 5.9 .75-5 .75 3.6 .75-3.5 .75-2.4 .75-1.3 .75 4.1 .75 3.7 .75 3.8 .75-5.8 .75-1.6 .75 .5 .75 8.7 .75-5.1 .75-2.4 .75 6 .75-9.1 .75 6.9 .75-.4 .75-.1 .75-4.3 .75 10 .75 3.4 .75-13.3 .75 6.8 .75 2.7 .75 7.6 .75-11.8 .75-2.1 .75 4.6 .75 9.3 .75-8.4 .75 1.2 .75 7 .75-17.2 .75 .2 .75 13.9 .75-.3 .75-9.4 .75 8.6 .75-1.9 .75 .9 .75-4.4 .75 1.8 .75-1.8 .75 4.3 .75-1.1 .75 8.6 .75-4.5 .75-9.6 .75 9 .75 4.6 .75-4.9 .75 3.6 .75-4.7 .75 3.4 .75-7.1 .75 7.7 .75-9.4 .75 11.9 .75-12.2 .75-2.5 .75 11.7 .75-3 .75 1.3 .75 1.5 .75-1.9 .75-3.7 .75 4.9 .75 .7 .75 .7 .75 6.6 .75-11.8 .75 3.5 .75 2.3 .75-4.4 .75-3.2 .75 2.9 .75 7.1 .75-5.7 .75 3.9 .75-5.8 .75 5.3 .75-4.8 .75-.7 .75 4.2 .75-.2 .75 6.3 .75-13.4 .75 9.3 .75 4.9 .75-1 .75-7.5 .75-1.2 .75 .9 .75 3.5 .75-.4 .75 .7 .75 1.2 .75-7.1 .75-.2 .75-.4 .75-.4 .75 5.5 .75 1.8 .75 9.7 .75-8.6 .75-2.1 .75 6.2 .75-9.2 .75 4.7 .75 2.9 .75-.7 .75-1.5 .75-3.1 .75-3.6 .75 4.8 .75-1.8 .75 5.7 .75-3.4 .75 3.1 .75-9.1 .75 11.2 .75-7.6 .75-2.9 .75 .9 .75 3.4 .75 7.6 .75-1.6 .75-7.9 .75 5.4 .75-.7 .75-6.1 .75 2.5 .75-4.3 .75 4.9 .75-7.5 .75 7.9 .75-.6 .75 .6 .75-.1 .75 8.4 .75-6.4 .75 2.5 .75 2.2 .75 .6 .75-1 .75-5.2 .75-2.3 .75 1.4 .75 1.3 .75 2 .75-.4 .75 5 .75-5.1 .75 8.1 .75-3.3 .75-6.4 .75 5.7 .75-15.8 .75 18 .75-4.1 .75-.1 .75-8.8 .75 17.8 .75-11.7 .75 .5 .75 5.3 .75-5.6 .75-2.7 .75 6.4 .75-7.1 .75 7.4 .75-2.6 .75 4.2 .75-9.9 .75 10.4 .75-4.1 .75 7.1 .75-11.2 .75 10.5 .75-5.1 .75 .2 .75-6.7 .75 5.2 .75 .2 .75-6.7 .75-1.7 .75 1.3 .75 9.3 .75-5.9 .75 3.1 .75-3.1 .75-1 .75 .1 .75-3 .75 6.7 .75-4.8 .75-.1 .75-7.3 .75 7.1 .75-4.7 .75 .4 .75 6.3 .75-9.7 .75 3.4 .75 3.1 .75 1.8 .75-7.9 .75 3.1 .75-.7 .75-6.9 .75-5.1 .75 .3 .75 10.7 .75-2.8 .75-7.1 .75 2.5 .75 .5 .75-.4 .75 .9 .75 9.5 .75-14.2 .75 3.6 .75-4.8 .75-.1 .75-1.8 .75 2.2 .75-2.4 .75 3.3 .75-1.6 .75-6.2 .75 12.1 .75-15.7 .75 6.2 .75 7.5 .75-14.9 .75 8.7 .75-.7 .75-6.3 .75-11.8 .75 14.9 .75-7.7 .75-4.2 .75 7.8 .75-11 .75 7.8 .75-9.1 .75 4.4 .75-9.2 .75 2.5 .75-3.5 .75 .3 .75 3.9 .75-2.4 .75 1.3 .75 5.2 .75-7.6 .75-9.3 .75 7.7 .75 1.5 .75 4.5 .75-.2 .75-.7 .75-6.3 .75 4.5 .75-10.8 .75 14.3 .75-4.1 .75 .7 .75-4.1 .75 2.8 .75-3.2 .75 6.8 .75-9.1 .75 12.2 .75-1.7 .75 8 .75-10 .75 .2 .75 1.9 .75-.3 .75-.3 .75-4.5 .75 .4 .75 3.2 .75 1.8 .75-4 .75 .6 .75 4.8 .75 5.6 .75-4.2 .75 4.7 .75 1.9 .75-.5 .75-5.5 .75 .5 .75-6.8 .75 6.2 .75 5.9 .75-7.4 .75 12.2 .75 .6 .75-8.7 .75 6.4 .75-11.4 .75 1.9 .75 3.4 .75 2 .75-.9 .75-3.2 .75 13.9 .75-8.2 .75 .1 .75 2 .75-2.4 .75-1.9 .75-1.5 .75-5.2 .75 15.5 .75-11.6 .75-3.4 .75 4.6 .75-3.3 .75 18.1 .75-7 .75 5.9 .75 1.3 .75-3.2 .75 1.2 .75-5 .75 4.3 .75-1.3 .75 4.2 .75-2.2 .75 10.3 .75-1.1 .75-2.8 .75-6 .75 12 .75 2 .75-3.1 .75-4.1 .75 8.7 .75 3.8 .75-12 .75 11.9 .75-9.6 .75 9.1 .75 7.9 .75-6.6 .75 2.3 .75-3 .75 1.8 .75 10.6 .75-3.9 .75-6.6 .75 .2 .75 2.1 .75 9.7 .75-8 .75 4.3 .75-5.8 .75-3.4 .75 11.4 .75-5.4 .75-2.6 .75 .9 .75 .5 .75 .6 .75-3.5 .75 11.7 .75-3.1 .75 2.7 .75-5.3 .75 3.1 .75-.6 .75 4.3 .75-1.3 .75-1.8 .75-4 .75-2.1 .75 1.8 .75 .9 .75 .5 .75-2.7 .75 12 .75-5.5 .75-9.2 .75 3.9 .75-.9 .75 6.6 .75 3.5 .75-8.1 .75 6.6 .75-3.5 .75 6 .75 1 .75-4.1 .75 1.8 .75-2.8 .75-1.3 .75-3.1 .75 6.2 .75-1.5 .75-1.1 .75 1.4 .75-.3 .75-3.3 .75 2.2 .75 6.9 .75-5.4 .75 6.7 .75-10 .75-.7 .75 6.1 .75 2.7 .75-5.6 .75 5.2 .75 1.4 .75 .6 .75-4.6 .75 .3 .75-6.2 .75 6.7 .75 1.1 .75 4.6 .75-10.6 .75 1.8 .75-.6 .75 7.6 .75-13.5 .75 5.8 .75 12.5 .75-5.5 .75-7.7 .75 5.1 .75 3.6 .75-1.1 .75-2.9 .75-2.2 .75 6.5 .75-3.3 .75 3.3 .75-1.5 .75-3.3 .75 7.5 .75-7.5 .75 3.7 .75-4.1 .75 1.7 .75 0 .75-1.6 .75 3.6 .75 4.3 .75 2.2 .75-1.6 .75-6.2 .75 6.4 .75-3.9 .75 5.4 .75-11.8 .75 10.7 .75-8 .75 6.9 .75-6.2 .75 5.4 .75-4.6 .75-6.2 .75 3.6 .75 2.9 .75 1.1 .75-8.8 .75 4.1 .75 1.8 .75 2.1 .75 1.7 .75-4 .75-2.6 .75 7 .75-2.4 .75 4.8 .75-5.5 .75 4.6 .75-5.9 .75 4.5 .75-.6 .75 1.4 .75-5.3 .75 3.2 .75-2.8 .75 2.7 .75 3 .75 9.2 .75-11.3 .75 2.6 .75-2.3 .75 4 .75-2.5 .75 2.2 .75-2.6 .75 7.9 .75-3.9 .75-11.8 .75 7.8 .75-.9 .75-8.7 .75 5.2 .75 1.6 .75-1 .75 3.3 .75-7.3 .75 9.8 .75 .1 .75-1.6 .75-2.6 .75 1.3 .75-1.8 .75 6.2 .75-2.5 .75 5.7 .75-9 .75 6.9 .75-7.7 .75 1.5 .75-3.3 .75 6 .75-2.2 .75 2.6 .75 3.3 .75-5.9 .75 1.6 .75 2 .75-3.6 .75-1.9 .75 3.4 .75 .6 .75 1.1 .75 .2 .75-5.8 .75 4.3 .75 3 .75-6.5 .75 3.2 .75-3.8 .75 3 .75 6 .75-6 .75-4.3 .75 5 .75-.5 .75 3.4 .75-9.5 .75 1.8 .75 3.2 .75-5.7 .75 10.3 .75-12.1 .75 4.6 .75-2.5 .75 3.1 .75 5.6 .75-.8 .75 1.3 .75-1.3 .75-10 .75 8.9 .75-8.2 .75 5.1 .75 .4 .75-.5 .75 3.9 .75-5 .75 9.7 .75-4.3 .75 2.2 .75-1.6 .75 .5 .75-3.5 .75 7.6 .75-11.5 .75 5.8 .75-1.8 .75-.8 .75 2 .75-4.1 .75 6.2 .75-.3 .75-2.6 .75 2.4 .75-6.8 .75-2.9 .75 4.7 .75 1.3 .75 10.4 .75-10.4 .75 4.8 .75-.7 .75 4.8 .75-7.6 .75 2.1 .75-3.3 .75-2.5 .75-.6 .75 .9 .75 8.4 .75-4.3 .75-1.7 .75 .6 .75-2.2 .75 2 .75 0 .75 2.7 .75 1 .75-9.8 .75 7.2 .75 4.3 .75-9.1 .75 3 .75 1.6 .75 3.5 .75-1.9 .75-3.1 .75 2.8 .75 2 .75-2.4 .75 5.6 .75-5.5 .75-5.6 .75 1.1 .75 2.5 .75-.3 .75 3.2 .75-1 .75 5.1 .75-3.4 .75 2.6 .75-8.6 .75 1.3 .75 4.3 .75-2.3 .75 2.1 .75-1.4 .75-3.3 .75 8.8 .75-2.1 .75-10.2 .75 3.5 .75 2.5 .75 2.5 .75-2.8 .75-4.9 .75 8.3 .75-3.9 .75 5.4 .75-3.5 .75 2.7 .75-.6 .75 .2 .75-5.3 .75 5.9 .75-3.1 .75-5.5 .75 3.2 .75 .2 .75 3.1 .75 .8 .75-6.8 .75 7 .75-3 .75-3.7 .75 7.2 .75-6.1 .75-1.6 .75 7.4 .75 .6 .75-5.9 .75 6.5 .75-.2 .75-5.7 .75 9.5 .75-7.8 .75 1.1 .75-9.9 .75 11.5 .75-4.7 .75 4 .75-8.1 .75 10.8 .75 1.2 .75 1.6 .75-18.3 .75 13.4 .75-.9 .75-12.7 .75 8.7 .75 2.4 .75 5.8 .75-8.6 .75 4 .75-1 .75 1.6 .75-2.9 .75 4.9 .75 .4 .75-8.8 .75 9.3 .75-7 .75 1.8 .75 5.3 .75-3.9 .75 1.9 .75 .8 .75-.7 .75-4.3 .75-1.5 .75 6.1 .75 .3 .75-1.5 .75-2 .75 4 .75-3.4 .75-5 .75 6.2 .75 .9 .75 1 .75-6.3 .75 .6 .75 4.1 .75-2.9 .75 1.4 .75 3.8 .75-2 .75 5.4 .75-5.8 .75 5.4 .75-2.4 .75 5.6 .75-9.5 .75-.4 .75 5.3 .75-6.9 .75 .2 .75 2.7 .75 .5 .75-6.6 .75 6.2 .75-2.1 .75 1.1 .75 .8 .75-1.4 .75 4.8 .75-2.2 .75-2.6 .75 1 .75 3.7 .75-1 .75 1.8 .75-5.2 .75 1 .75 7 .75-7.6 .75 6.4 .75-3.1 .75-4.8 .75-3.6 .75 7.6 .75-5 .75 0 .75-3.9 .75 11 .75-4.1 .75-.3 .75 1.4 .75-.6 .75-.5 .75 1.6 .75-3 .75-8.6 .75 12.4 .75-1.2 .75-1.5 .75 5.9 .75-11.2 .75-5.6 .75 16.4 .75-4 .75-7.7 .75 4.6 .75 3.9 .75-6.9 .75 6.6 .75 5.9 .75-2.8 .75-5.3 .75 1.3 .75-4.7 .75 4 .75-1.7 .75-2.5 .75-1.3 .75 12.3 .75-6.9 .75-4.2 .75 2.3 .75 7.1 .75 .5 .75-8.4 .75 3.1 .75 2.6 .75-4.7 .75-3.1 .75 .8 .75 3.7 .75-3 .75-1.9 .75 3.9 .75 4.4 .75-.9 .75-3.4 .75 8 .75-10.1 .75 2.6 .75-4.8 .75 8 .75-3.3 .75-5.9 .75 3.2 .75 9.9 .75-4.1 .75-2.3 .75 2.9 .75-9.3 .75 2.9 .75-1.9 .75 1.9 .75 1.7 .75 3.4 .75 1.8 .75-.1 .75 6.4 .75-12 .75 1.8 .75 2 .75-5 .75 2 .75 2.6 .75-4.9 .75 5.1 .75 2.8 .75-8.8 .75-4.4 .75 8.8 .75-4.2 .75 4.5 .75-2.3 .75 2.8 .75 3.1 .75-1.2 .75-4.5 .75-3 .75-5 .75 1.1 .75 5.2 .75 3.3 .75-2.9 .75 .3 .75-3.8 .75-.3 .75-.3 .75 8.8 .75-9.8 .75 10 .75-6 .75 5.4 .75-1.2 .75 1.9 .75 1.6 .75-7.4 .75-.8 .75 2 .75-1.3 .75 5.4 .75-2.9 .75 .4 .75 1.5 .75-3.4 .75 5.9 .75-11.1 .75 7.8 .75 1 .75-4.8 .75 .2 .75 6 .75-4.6 .75-6.1 .75 2.2 .75 8.8 .75-7.1 .75 8.2 .75 .2 .75-5.9 .75 2.8 .75-5.2 .75 1.6 .75-1.2 .75 4.9 .75-7.1 .75 4.3 .75 .7 .75 1.7 .75-10 .75 1.3 .75 3.4 .75 2.4 .75 1.4 .75 .2 .75 6.8 .75-5.1 .75-.3 .75-4.1 .75 4.8 .75-.4 .75-.1 .75-3 .75 2.8 .75 3.4 .75-8.8 .75-5.2 .75 11.3 .75-.4 .75-3.6 .75-.9 .75 12.1 .75-12.2 .75-2.9 .75 2.8 .75 3.7 .75-4.3 .75 .8 .75 2.6 .75-2.8 .75 2.1 .75-.7 .75-3.9 .75 4.3 .75-4.7 .75 7.9 .75-7.1 .75 2.6 .75-6 .75 5.1 .75-3.1 .75 10.4 .75-6.1 .75 2.4 .75-8.7 .75 1.9 .75 4 .75-4.5 .75 9.5 .75-5.9 .75 2 .75 .6 .75-1.8 .75 3.5 .75-5.5 .75 3.9 .75 3.1 .75-3.8 .75-.3 .75-1.8 .75 1.5 .75 2.3 .75-3.6 .75-5.4 .75 6.9 .75-1.2 .75 2.3 .75-1.6 .75 5.8 .75-10.6 .75 .8 .75 6.2 .75-6.4 .75 5.1 .75-1.4 .75-7.4 .75 10 .75 2.6 .75-4.4 .75-6.1 .75 8.3 .75-6.9"/>
<path stroke="#FF00FF" d="M172.5,586.7l.75 5.3 .75-11.1 .75-8.3 .75 15.3 .75 1.7 .75-6.8 .75 1.8 .75 15.5 .75-6.6 .75-2.3 .75 .2 .75 8.5 .75 .6 .75-1.1 .75-10.1 .75 10.9 .75-1.1 .75 7.8 .75 11.4 .75-.7 .75-1.7 .75-3.7 .75-2.9 .75 7.1 .75-6.5 .75 2.2 .75-3.6 .75 8.2 .75 .7 .75 18.5 .75-10.9 .75-7.5 .75 11.4 .75-10.4 .75 14.4 .75-1.2 .75 20.2 .75-35.2 .75 10.1 .75 .6 .75 4.7 .75 4.6 .75-14.2 .75 3.2 .75 10.2 .75 7 .75-17.7 .75-2.8 .75 25.2 .75-1.6 .75 3.3 .75-17.3 .75 8 .75 4.9 .75 3.1 .75-3.9 .75 1.7 .75 10.6 .75-11.7 .75 .1 .75 2.2 .75 .4 .75 6.8 .75-1.9 .75-.9 .75 17.4 .75-8.7 .75-4.4 .75 15 .75-14.7 .75 5.9 .75 .2 .75-3.1 .75 2.7 .75 5 .75-12.1 .75 10 .75 6.5 .75 1.2 .75 1.2 .75 18.4 .75-13.3 .75-6 .75 1.2 .75 2 .75 4.7 .75-5.3 .75 16.3 .75-21.1 .75 15.6 .75-.1 .75-12.9 .75 15.9 .75 .4 .75-9 .75 25.8 .75-12.5 .75-7.6 .75-.2 .75-1.1 .75 9.4 .75-.6 .75-11.1 .75 4.2 .75 3.8 .75 3.6 .75 1.5 .75-1.5 .75 11.9 .75 3.6 .75-6.1 .75-17.5 .75 17.8 .75 6.9 .75-4.1 .75 3.9 .75-.3 .75-11.9 .75-7.5 .75 26.7 .75-8.4 .75 8.5 .75-5 .75 1.9 .75 13.2 .75-20.1 .75 10.3 .75-8 .75 10 .75 4 .75 2 .75-3.3 .75-11.6 .75 13.7 .75 5.9 .75 1.4 .75 9.9 .75-12 .75-11.9 .75 4.6 .75 5.5 .75 8.4 .75-16.8 .75 17.1 .75-1.4 .75-11.3 .75 12.4 .75-10.1 .75 6.8 .75-1.5 .75 5.1 .75-10.4 .75 14.3 .75-20.5 .75 14.8 .75-.4 .75 17.6 .75-7.3 .75-7.2 .75-2.4 .75 8.1 .75-4.4 .75 23.3 .75-38.4 .75 23.1 .75-18.9 .75 28.1 .75-13.5 .75 19.5 .75-15.9 .75 13.4 .75-6 .75 8.3 .75-8.2 .75-22.3 .75 18.1 .75-5.7 .75 20.1 .75-2.4 .75-3.4 .75 4.2 .75-1.2 .75-5.1 .75 20.1 .75-12.4 .75-2.6 .75-9 .75 7.3 .75 5.5 .75-.7 .75-1.5 .75 4 .75-7.3 .75 9.4 .75-11 .75 6.1 .75 1.8 .75 13.1 .75-1.9 .75-2.2 .75-8.2 .75 6.7 .75 10 .75 4.5 .75-19.5 .75 8.9 .75 5 .75 2.8 .75-1.7 .75 5.8 .75-14.9 .75 23.1 .75-19.4 .75 9.6 .75 4.1 .75 5.4 .75-1.3 .75 .4 .75 3.6 .75-10 .75 7.3 .75 6.5 .75-16.3 .75-4.2 .75 3.6 .75 18.4 .75-.6 .75-11.2 .75 5.1 .75 2.3 .75 4.8 .75-20.9 .75 10.4 .75 2.7 .75 4.9 .75-1.3 .75-2.3 .75 5 .75-20.3 .75 41.7 .75-15.9 .75 1 .75-10.7 .75 8.3 .75 12.4 .75-1.2 .75-12.1 .75-9 .75 10.7 .75-2.9 .75 8.9 .75-14.9 .75 8.4 .75 3.9 .75-4.8 .75 11.5 .75-15.3 .75-.1 .75 7 .75 9.1 .75-7.5 .75-1.4 .75 10.8 .75-3.5 .75-4.6 .75 5.4 .75-1.9 .75 6.8 .75-2.6 .75-5.9 .75 3 .75 1.2 .75 6.4 .75 .7 .75-7.8 .75 5.3 .75 4.3 .75 6.3 .75-5.2 .75 12.8 .75-12.8 .75 5.8 .75-6.7 .75-3.8 .75 8.7 .75 3.6 .75-.1 .75-.1 .75-2.3 .75-2.2 .75 4.8 .75 6.5 .75 4.5 .75-28.2 .75 28.1 .75 4.4 .75 2.4 .75-4.9 .75 3.2 .75-6.5 .75 3.6 .75 5.4 .75-9.9 .75 3.2 .75 7.9 .75-9.3 .75 10.5 .75-9.3 .75 12.3 .75-.3 .75-3.2 .75-1.8 .75 3.6 .75-11.1 .75 13 .75 4 .75 7.7 .75-10.9 .75 2.8 .75 10.9 .75 2.9 .75-14.3 .75 10.7 .75 1.4 .75-3.9 .75-9.4 .75 .8 .75 10.6 .75 12.1 .75-16.1 .75 12.1 .75 2.7 .75-20.1 .75 4.9 .75 14.6 .75-2.8 .75-2.1 .75-2.9 .75 5 .75-7.4 .75 21.4 .75-23 .75-3.4 .75 13.6 .75 9.2 .75-11.7 .75 3.7 .75-5.4 .75 7 .75-5.2 .75 1 .75-2.2 .75 6.8 .75 16.3 .75-11.4 .75 2.4 .75 13.8 .75-17.5 .75-1.5 .75 10.3 .75-10.5 .75 10.5 .75 5.7 .75-13.6 .75 4 .75 14.5 .75-17 .75 2.9 .75 6.2 .75-3 .75-2.9 .75 15.8 .75-13.2 .75 6.2 .75-4.2 .75 1.5 .75-6.7 .75 14.9 .75-8 .75 11.1 .75-14.8 .75 4.7 .75 6.5 .75-1.8 .75-4.3 .75 3.7 .75-6.7 .75 8.9 .75-16.3 .75 18.1 .75 7.8 .75-2.3 .75 .2 .75-7.3 .75 6.1 .75-4.9 .75 2.4 .75 .5 .75-19.6 .75 26.9 .75-2.4 .75 2.9 .75-10.4 .75 10.6 .75-.8 .75-16 .75 3.4 .75 11.7 .75-3.7 .75 4.6 .75-3.1 .75 13.7 .75-19.7 .75 4 .75 3.2 .75-1.5 .75 5.6 .75 4.1 .75-7 .75 11 .75 6.4 .75-.6 .75 6 .75-4.7 .75-6.5 .75 11.2 .75-6.1 .75 7.2 .75-12 .75-11 .75 5.7 .75 8.2 .75 2.4 .75-4.2 .75 7.3 .75-12.4 .75 2.8 .75 10.2 .75-5.2 .75 .4 .75 8 .75-1.6 .75-10.9 .75 6.1 .75-10.9 .75 10.1 .75 2.7 .75-12.2 .75 19.6 .75 2.9 .75-8.5 .75 2.9 .75 3.7 .75-9.4 .75 7.5 .75-3.5 .75-10.8 .75 4 .75 2.4 .75 9.9 .75-5.3 .75 5.5 .75-8.1 .75-4.3 .75 19.7 .75 4.2 .75-13.1 .75-3 .75 8.4 .75-12.9 .75 5.6 .75-6.7 .75 11.4 .75-1 .75-3.3 .75-1 .75-4.5 .75 4.3 .75 12.2 .75-8.6 .75 9.6 .75-11.7 .75 4.9 .75-1.8 .75 1.6 .75 6.3 .75-15.6 .75 16.2 .75 .2 .75-3.5 .75 .8 .75-1.3 .75 5.6 .75-3.2 .75-4.7 .75 6 .75 4.9 .75-2.9 .75-1.6 .75 1.2 .75-3.6 .75 .4 .75-7.7 .75 9.8 .75 6.7 .75-7.4 .75-2.7 .75 10.3 .75-3.9 .75 .1 .75 2.1 .75 1.5 .75-3.9 .75-4.2 .75 14.5 .75-9.1 .75-4.3 .75 5.5 .75 5.8 .75-14.2 .75 15.3 .75-7.7 .75 12 .75-7.1 .75-3.9 .75 7.8 .75 .4 .75-8.6 .75 3.5 .75-3.7 .75 8.1 .75-12.3 .75 7 .75-10.3 .75 15.2 .75-15 .75 6.7 .75 7.5 .75-3 .75-.2 .75-2.4 .75 3 .75-6.6 .75 11.5 .75 2.9 .75 .1 .75-4 .75 7 .75-3.8 .75 2.9 .75-2.8 .75-1.7 .75-4.1 .75-9.8 .75 17.7 .75-3.8 .75 11.4 .75-21 .75 15.2 .75-9.3 .75 5.2 .75-4.5 .75 6.8 .75-1.9 .75 5 .75-3.7 .75 2 .75 4.4 .75-3.8 .75-3.3 .75 7.5 .75-7 .75 2.9 .75-3.7 .75-1.6 .75-12.2 .75 19.7 .75-9.7 .75 10.2 .75 5.8 .75-16.4 .75 11.8 .75-5 .75 3 .75-8.5 .75 6.6 .75 .8 .75 6.9 .75 3.9 .75-9.5 .75-3.4 .75 13.7 .75-12.1 .75 .4 .75 1 .75 2.1 .75 1.5 .75-6.6 .75 2.6 .75 10.6 .75-1.2 .75-5.8 .75-.7 .75-2.4 .75 6.8 .75-7.9 .75 3.6 .75-2.8 .75-.6 .75 3.6 .75 .1 .75-2.8 .75 2.9 .75 .9 .75-2.6 .75-.7 .75 2.9 .75 4.6 .75 2.3 .75-4.6 .75-2.1 .75 1.5 .75 10.2 .75-4.9 .75-9.4 .75 4.9 .75-2.2 .75 1 .75-6.5 .75 9 .75-6.8 .75 4.1 .75 11.1 .75-2.4 .75-9.4 .75-.6 .75 .9 .75-4.8 .75 4.9 .75 3.9 .75-3.8 .75 9.5 .75-3.9 .75-2.2 .75 11.8 .75-5.1 .75-3.1 .75 9.2 .75-2.6 .75-10.1 .75 5.3 .75-3.8 .75-5 .75 17 .75-1.9 .75-14 .75 9 .75-10.7 .75 13.8 .75-5.6 .75-1.2 .75 8 .75-6.3 .75-1.3 .75 6.1 .75-6.1 .75 6 .75-4.3 .75 4.2 .75-.9 .75 .9 .75-9.1 .75 14.8 .75-10.3 .75 9.8 .75-11.9 .75 1.7 .75 .2 .75 7.2 .75-7.9 .75 4.3 .75-10 .75 5.6 .75 3.7 .75-1.6 .75-8.9 .75 12.1 .75-7.4 .75 14.9 .75-10.8 .75 12.5 .75-8 .75-.9 .75-4.7 .75 1.9 .75 2.9 .75-12.1 .75 15.1 .75-11 .75 4.7 .75-12.5 .75 16.3 .75 1.5 .75-2.3 .75 .2 .75-3.5 .75 2.6 .75 5.4 .75-8.3 .75 4.7 .75 1.1 .75-4.9 .75 2.4 .75-.1 .75-3.7 .75 14.9 .75-14.6 .75 10.9 .75-3.3 .75-15.8 .75 11.6 .75 4 .75-1.1 .75-8.8 .75 5.9 .75-7.5 .75 .8 .75 4.1 .75 2.2 .75 7.2 .75-6.4 .75 3.6 .75-11.6 .75 .2 .75 3.4 .75 11.5 .75-15.9 .75-1.3 .75 7.7 .75 6.5 .75-14.5 .75 7.1 .75-5.7 .75 14.3 .75-3.9 .75-2.2 .75-1.7 .75-1 .75 1.8 .75-4.1 .75-1.3 .75-1.2 .75 5.7 .75-4.2 .75 8.5 .75-15.4 .75 13.6 .75-.2 .75 3.4 .75-7.6 .75-6.5 .75 2.9 .75 10.5 .75-7.5 .75-.6 .75-1 .75 2.6 .75-.9 .75-6.9 .75 4.8 .75 8.3 .75 2.2 .75-8.2 .75-2.1 .75 9.6 .75-8 .75-5.3 .75 5.4 .75 4.2 .75 4.4 .75-10.7 .75 5.2 .75-4.6 .75 7.6 .75-4.6 .75-.1 .75-6.5 .75 3.4 .75-.1 .75-17 .75 23 .75-4.5 .75-1.1 .75-.8 .75 2 .75 1.1 .75-8.1 .75 7.4 .75-.1 .75-.5 .75-7.9 .75 7 .75-6 .75 8.4 .75 5 .75-2.3 .75-6.4 .75-1.1 .75-.1 .75 4.7 .75-5.3 .75 .6 .75-10.3 .75 8.6 .75 .3 .75 1.2 .75 9.1 .75-13.4 .75 .1 .75 10 .75-8.3 .75 4.3 .75 1.7 .75-.9 .75-4.1 .75 8.8 .75 3 .75-13.1 .75 3.8 .75 6.3 .75-6 .75-4.2 .75 3 .75 6.6 .75-9.5 .75 6.5 .75 .6 .75-5.3 .75 6.3 .75 .5 .75 1.7 .75-.3 .75-12.6 .75 12.4 .75-1.6 .75 2 .75-9.5 .75 9.2 .75-2.8 .75-8 .75 12.7 .75-10.7 .75-1.2 .75 7.3 .75-5.2 .75 5 .75-3.1 .75 2.7 .75 2.8 .75-4.4 .75 4.7 .75-.1 .75-8.8 .75 8.8 .75-1.2 .75-2.5 .75 5.1 .75 2.7 .75-4.7 .75-11.6 .75 9.8 .75-3.1 .75-.8 .75 3 .75-3.6 .75 10 .75-7.2 .75-1.6 .75 3.8 .75 0 .75 1.8 .75-3.1 .75-3.7 .75 .7 .75-12.1 .75 3.4 .75 12.9 .75-7.3 .75 11 .75-.2 .75-16.2 .75 8 .75 13.3 .75-19.5 .75 6.1 .75-3.5 .75-.3 .75-.4 .75 1.2 .75 4 .75-8.5 .75 6.7 .75-6.5 .75 6.3 .75-1.3 .75-6 .75 4.7 .75-4.8 .75-.8 .75 10.5 .75-15.9 .75 12.5 .75 .7 .75-7 .75 8.9 .75-.9 .75-11.7 .75 9.7 .75-.3 .75-6.4 .75 7 .75 1 .75-7.8 .75-6.7 .75 12.8 .75-6.1 .75-5.1 .75 7.1 .75-10.6 .75 10.9 .75 9.8 .75-23 .75 17.6 .75-7.3 .75 2.7 .75-2.6 .75 8.2 .75-3.3 .75-4.1 .75-2.8 .75 4.8 .75 8.4 .75-12.5 .75 8.6 .75-.3 .75-12.4 .75 16.5 .75-6 .75 12.1 .75-2.6 .75-10.5 .75 .5 .75-4.5 .75-1.9 .75 11.5 .75-5.5 .75-.8 .75 1.2 .75 4.5 .75 1.4 .75-5 .75-1 .75 1.6 .75 10.4 .75-22 .75 4.9 .75 8.7 .75-1.8 .75 5.8 .75 .4 .75 3.6 .75-14.8 .75 7.5 .75-4.5 .75 6.4 .75-4.2 .75 3.8 .75-8.7 .75 4.8 .75-3.6 .75 1.4 .75-1.1 .75-3 .75 11.4 .75-4.4 .75 4.3 .75-11.1 .75-5.2 .75 7 .75 2.7 .75 5 .75 1.4 .75 .9 .75 1.6 .75-4.3 .75-3.4 .75-4.7 .75 7.6 .75-6.4 .75-1.8 .75 7.3 .75-2.1 .75 3.3 .75-8.6 .75 10 .75-4.5 .75-3 .75-3.3 .75-1.9 .75-1.7 .75 14.7 .75-15.3 .75 10.9 .75-4.8 .75-1.9 .75 .4 .75 2 .75 5.4 .75-1.9 .75-3 .75-7.3 .75-2.2 .75 19.7 .75-15.4 .75-2.9 .75 14.5 .75-14 .75 12.1 .75 1.1 .75-3.6 .75 3.9 .75-12.6 .75 1 .75 5.6 .75 1.1 .75-.3 .75 3 .75-6.3 .75-7.4 .75 13.8 .75-3.3 .75 5.7 .75 6.9 .75-10.5 .75 2.8 .75-7.8 .75 9.8 .75-2.8 .75-.4 .75 3.7 .75-10.8 .75 9.2 .75-.4 .75 6.2 .75-18 .75 9.4 .75 12.3 .75-13.7 .75-.1 .75 12 .75 4 .75-12.6 .75-4.2 .75 .8 .75 1.2 .75-2.3 .75 .4 .75 5.3 .75-.5 .75 2.5 .75-2.3 .75-6.4 .75 10.5 .75-2.5 .75-4.2 .75 1.8 .75 3.2 .75-1.1 .75-1 .75 4.8 .75 1.7 .75-7.2 .75 1.6 .75-5.7 .75 5 .75 3.5 .75 2.1 .75-3.7 .75-1.3 .75-3.3 .75 5 .75-6.9 .75 6.5 .75-.5 .75-4.9 .75 6.6 .75-2.8 .75 4.3 .75-5.7 .75 5.1 .75 5.8 .75-7.3 .75 3.3 .75-7.5 .75 1.5 .75-8 .75 9.2 .75-5.2 .75 6.6 .75-11.4 .75 6.4 .75 5 .75 1.6 .75-10.7 .75 6.6 .75 15.6 .75-9.2 .75-3.3 .75-15.3 .75 9.7 .75 7.5 .75-1.4 .75 1.1 .75 2.6 .75-4.5 .75 3.9 .75-13.9 .75 22.5 .75-14.7 .75-1.9 .75 11.2 .75-4.7 .75 1.9 .75-8.4 .75 4.7 .75 2.2 .75-9.7 .75 4.8 .75-.2 .75-.3 .75-2.2 .75-3 .75 8.9 .75-1.1 .75 4.8 .75-6.5 .75-3.2 .75-4.1 .75 8 .75-2.1 .75 12.2 .75 1.4 .75-3.8 .75-13.1 .75-2.6 .75 6.1 .75-3.5 .75 12.1 .75-6.9 .75-2.8 .75 2 .75 6.7 .75-11.7 .75 7.5 .75-9.6 .75 5.8 .75-2.4 .75 5.1 .75-1 .75 5.5 .75-2.8 .75-6.9 .75-3.9 .75 2.7 .75 1.9 .75 1 .75-2.9 .75 9.7 .75-.9 .75-6.4 .75-1.3 .75 1.3 .75 .9 .75 .1 .75-8.5 .75 6.2 .75-7.8 .75 10.1 .75 3.3 .75-9.3 .75 6.4 .75-4.2 .75-.5 .75 14 .75-5.7 .75-2.2 .75-5 .75 4.4 .75-3.3 .75 3.4 .75-7.3 .75 4.4 .75-1.8 .75-5.5 .75 16.5 .75-4.6 .75-8.6 .75-3.5 .75 3.9 .75-.5 .75 1.3 .75-4.7 .75 3.7 .75 4.8 .75 1.9 .75-12.6 .75 10.6 .75-5.2 .75-.2 .75 3.9 .75-1.9 .75 7.5 .75 .1 .75-5.3 .75-1.6 .75 13.1 .75 .6 .75-7.6 .75-2.6 .75 6.5 .75 2.6 .75-10 .75 12.6 .75-10 .75 7 .75-8.1 .75 3.5 .75-2.4 .75 2.9 .75 5.6 .75-9.7 .75 3.5 .75 4.8 .75-4.9 .75 13.4 .75-17.8 .75 21.2 .75-16.2 .75 8.9 .75 3.8 .75-5.2 .75-9.7 .75 6.1 .75 2.5 .75 3 .75 2.6 .75 1.2 .75 2.2 .75-12 .75 10.4 .75-13.6 .75 10.2 .75-5.8 .75-3.2 .75 14.3 .75-4.4 .75 5.6 .75-12.7 .75 2.3 .75 6.1 .75-2.5 .75 4.1 .75-3.1 .75 1.8 .75-3.7 .75 12.7 .75-7.7 .75-4 .75 9.7 .75-.6 .75-.9 .75 .4 .75-2.8 .75 1.7 .75-10 .75 3.6 .75 2 .75 7.9 .75 4.9 .75-6.7 .75-.3 .75 7.1 .75-7.3 .75 5.2 .75-1.1 .75-8.6 .75 8.2 .75-.4 .75-6.7 .75 .6 .75-1.1 .75 13.3 .75 3.7 .75-6.9 .75 4.4 .75-14.5 .75 13.8 .75 2.9 .75-1.7 .75-12.6 .75 10.1 .75-5.9 .75 6 .75-8.4 .75 3.3 .75-2.8 .75 5.2 .75-2.8 .75 6.1 .75-1.3 .75-2 .75-2.1 .75-1.3 .75 1.6 .75 3.8 .75-3 .75 .9 .75-1.6 .75-.1 .75-2.8 .75-6 .75 12.2 .75 0 .75-7.5 .75 14.4 .75-15.2 .75 10.8 .75-3.6 .75 .4 .75 4.1 .75-1 .75-4.3 .75-5.3 .75-.7 .75 7 .75 6.9 .75-3.3 .75-4.5 .75 1.9 .75 1.8 .75 5.2 .75-12.1 .75 7.4 .75-2.2 .75-5 .75-1.2 .75 11.3 .75-4.5 .75-2.6 .75 1.6 .75 4.4 .75-4.3 .75 7.5 .75-9.1 .75-2.5 .75 3.4 .75-4 .75 3 .75 7.8 .75 2.4 .75-5.3 .75-2.1 .75-5.5 .75-.5 .75 6.6 .75-1.1 .75-3.9 .75 .5 .75 9.6 .75-3 .75-4.8 .75 .6 .75 5 .75-4.8 .75-.8 .75-9.2 .75-.8 .75-1.3 .75-2 .75 10.9 .75 1.5 .75-6.2 .75 6.3 .75-.2 .75-2.8 .75-7.2 .75 14.3 .75-.5 .75-10 .75 12.4 .75-9.8 .75-4.3 .75 1.6 .75-7.5 .75 7.4 .75-6.6 .75 13.6 .75-4.3 .75-8.9 .75 9.7 .75-11.8 .75 9.2 .75 1.4 .75-2.3 .75-6.2 .75 4.9 .75-.6 .75 1.1 .75 7 .75 .9 .75-.8 .75-11.5 .75-.8 .75 3.8 .75 1.9 .75-13 .75 7.2 .75 12.1 .75-15.7 .75 2.4 .75-.1 .75 6 .75-3.1 .75-1.5 .75-6.3 .75 10.7 .75-3.3 .75-3.6 .75 3.4 .75 3.7 .75-11.8 .75-.6 .75 2.5 .75 .6 .75-11.3 .75 12.5 .75 8.8 .75-7.4 .75 7 .75-19.9 .75 14.4 .75 8 .75 1.1 .75-10.4 .75-1.4 .75 6.4 .75-7.9 .75 4.6 .75-6.5 .75 9.3 .75-.2 .75 8.6 .75-6.3 .75-4.9 .75 3.1 .75-5.8 .75 7 .75-1 .75 3.5 .75 2.9 .75-14.7 .75 12.2 .75 2.4 .75-9.4 .75 16 .75-12.8 .75 16.5 .75-8 .75 1.3 .75-3 .75 4.1 .75-9.8 .75 1.6 .75-5.3 .75 13 .75-5.8 .75 7.7 .75-.3 .75-9.2 .75 10.5 .75-1.7 .75 .1 .75 1.6 .75-2 .75 .5 .75 5.4 .75-9.8 .75-.8 .75 2.4 .75 9.1 .75-6.5 .75 11.2 .75-24.2 .75 11.8 .75 1.5 .75 3.8 .75 5.4 .75-7.2 .75-3.8 .75 9.2 .75 3.7 .75-19.7 .75 15.5 .75-1.2 .75-5.2 .75 2 .75 4 .75-1 .75-1 .75-4.1 .75 7.3 .75-4.3 .75 3.9 .75-2.9 .75 4 .75 3 .75-2.2 .75 2.3 .75-9.4 .75 9.1 .75-.6 .75-4.1 .75 2.4 .75-12.4 .75 13.8 .75-2.4 .75-9 .75 13.1 .75-5.8 .75 4.1 .75-2.8 .75 3.1 .75-2.3 .75-2.1 .75 3.3 .75 1.3 .75-15.3 .75 10.7 .75-3.4 .75-2.9 .75 11.3 .75-2 .75-10.1 .75-.8 .75 9.1 .75-7.5 .75 1.1 .75-8.4 .75 8.5 .75 5.8 .75-8.2 .75 1.3 .75 8.7 .75-4.7 .75 2.3 .75-4.3 .75 2.4 .75-14.6 .75 3.8 .75-4.6 .75 18.9 .75-10.4 .75-1.8 .75-3.2 .75-1.3 .75-8.7 .75 25.4 .75-11.1 .75 1.3 .75-6.6 .75 7.4 .75 2.9 .75-1.4 .75 4.3 .75-6.2 .75 6.7 .75 3.9 .75-.5 .75 .4 .75-1 .75-2.9 .75 8.7 .75-3.1 .75-1.3 .75 9.3 .75-9.8 .75 6 .75 7.2 .75 1.7 .75-5.3 .75 2.7 .75 2.8 .75-2.3 .75-2.7 .75 6 .75-.8 .75 .2 .75 5 .75-3.2 .75-3 .75 3.2 .75 8.4 .75-11.4 .75 2.5 .75-2 .75 5.6 .75-6.7 .75 7.9 .75 1.8 .75-6.4 .75 .1 .75-2.5 .75 7 .75-4.7 .75 2.4 .75 1.2 .75-.8 .75 6.9 .75 3.6 .75-15.9 .75 6 .75 5 .75-5.4 .75 2.6 .75 3.5 .75 5.4 .75-.7 .75-6 .75 2 .75-1.8 .75 1 .75-4.1 .75-2.3 .75 6.1 .75 6 .75-.8 .75-11.1 .75 7.3 .75-1.7 .75 4.1 .75-5.8 .75 8.7 .75-4.6 .75 3.5 .75 1.4 .75-11.8 .75 7.5 .75 7.5 .75-6.2 .75 4.5 .75-2.5 .75-3.8 .75 3.5 .75 3.4 .75 1.1 .75 .8 .75-10.6 .75 8.3 .75-9.1 .75 5.4 .75-.2 .75 3.7 .75-1.2 .75 4.1 .75-7.7 .75 6.3 .75-1.8 .75-1.5 .75-4.8 .75 7.5 .75-.9 .75 2 .75-3.3 .75-.8 .75 2.8 .75 .4 .75 1 .75 5.1 .75-10.4 .75 11 .75-20.6 .75 16.4 .75-7.3 .75 11.8 .75-11.9 .75 8.1 .75-8.4 .75-.5 .75 8.1 .75 .3 .75-6.4 .75 12.9 .75-11.2 .75 7.9 .75-10.6 .75 .3 .75 4.4 .75-4.5 .75 6.2 .75-10.7 .75 9.7 .75-3 .75-1.6 .75 4.9 .75-1.7 .75-.8 .75 5.2 .75-2 .75 .4 .75 4 .75-5.7 .75 3.8 .75-5.1 .75 4.2 .75-.3 .75-4.3 .75-4 .75 1 .75 1.4 .75 6.1 .75-2.8 .75-.7 .75 3.2 .75 1 .75 2.7 .75-8.1 .75 4.7 .75 .6 .75-6.8 .75 4.4 .75-4.2 .75 2.8 .75 2.6 .75-8.6 .75 3.4 .75 .2 .75 3.7 .75-3.4 .75 4.6 .75-5.1 .75 1.4 .75 4.6 .75-1.2 .75-.7 .75-.7 .75 4.2 .75 1.5 .75-7.1 .75-1.4 .75-1.3 .75 11.3 .75-10.7 .75-1.8 .75 6.6 .75 3.2 .75-9.3 .75 4.6 .75-5.3 .75 3 .75 9.6 .75-5.9 .75-1.7 .75 1.4 .75 1 .75-1.5 .75-4.4 .75 .1 .75 13.1 .75-11.2 .75 8 .75-7.7 .75 8.3 .75-2.4 .75-3.6 .75 9 .75-11.9 .75 2.8 .75-2.6 .75 .2 .75 1.6 .75-2.5 .75 2.4 .75 7.6 .75-13.6 .75 1.8 .75 1.1 .75 1.8 .75 5.9 .75-1.4 .75-1.1 .75-1.3 .75 8.8 .75-14.6 .75-.2 .75 4.4 .75 .7 .75-2.1 .75-2.8 .75-2.3 .75 3.8 .75-2.2 .75 .5 .75-3.1 .75 9.6 .75-4.2 .75 5.4 .75-10.5 .75 1.9 .75-1.8 .75 .6 .75-1.7 .75-.2 .75-8.2 .75 6.7 .75 3.6 .75-11.8 .75 6.3 .75 3.4 .75 2.4 .75-6.4 .75 1.8 .75 5.1 .75-2.6 .75-8.2 .75-1.3 .75 6.5 .75-4.1 .75-3.9 .75 .7 .75 1.9 .75-2.9 .75-.9 .75-.5 .75-6.2 .75 13.8 .75-2.9 .75 .6 .75-8.2 .75 .4 .75 1.1 .75 .2 .75-13.3 .75 8.9 .75-7.4 .75 3.1 .75-4 .75 9.8 .75-6.7 .75-3.9 .75 5.5 .75-8.2 .75-4.4 .75 1.3 .75-2.2 .75 .8 .75 2.6 .75-6 .75-1 .75 4 .75-4.8 .75 2 .75-5.3 .75-8.3 .75-.1 .75-3.6 .75 13.5 .75-4 .75-4.6 .75-2.4 .75 7.3 .75-1.9 .75 3 .75-5.1 .75-.5 .75 14.3 .75-11.8 .75 5.5 .75 7.5 .75-14.9 .75 13.3 .75-2.5 .75-.4 .75 2.5 .75-6.7 .75-4.6 .75 20.4 .75-10.3 .75 6.1 .75 1.3 .75-3.7 .75 1.1 .75 1.6 .75 4.5 .75-5 .75 4 .75-7.2 .75-.3 .75 2.7 .75 1.8 .75 .9 .75 7 .75-5.1 .75-3.6 .75 9.4 .75-7.9 .75 .2 .75 .6 .75-3.9 .75-3.6 .75 5.8 .75-2.1 .75-2.6 .75 4.7 .75-1.5 .75-1.9 .75-5.7 .75 7.7 .75 9.3 .75-4.1 .75 1 .75-5.1 .75 5.5 .75-7.8 .75 1.7 .75 5.4 .75-8.3 .75 8.1 .75 2.2 .75 7.7 .75-9.9 .75 6.5 .75-3.7 .75 1.8 .75-8.4 .75 9.5 .75 10.9 .75-1.2 .75 0 .75 11.9 .75-6.8 .75-6 .75 6.2 .75 2.2 .75 8.5 .75-9.4 .75 6.8 .75 3.4 .75-6.6 .75 4.6 .75-7.9 .75 9.5 .75-8.7 .75 8.2 .75 9.5 .75-4.7 .75-.7 .75 1.2 .75 8.8 .75-5.7 .75 2.7 .75-5.2 .75 .7 .75-1.8 .75 4.1 .75-1.5 .75 7.2 .75-.9 .75-2.6 .75-1.3 .75-8.8 .75 9.3 .75 3.8 .75 1.7 .75-14.3 .75 3 .75 10.2 .75-4.3 .75 3.5 .75-.7 .75 4.4 .75-9.1 .75 5.2 .75 6.1 .75-2.6 .75-3.7 .75 5.1 .75-.4 .75-4.4 .75 6.2 .75 0 .75-2.9 .75 4.1 .75-7.9 .75 7.4 .75-3.6 .75-2.7 .75 1.4 .75 6.7 .75-6.4 .75 .8 .75-1.1 .75-.4 .75 6.7 .75 4.8 .75-3.2 .75-3.1 .75 1 .75-4.1 .75-.5 .75-2.4 .75 9.9 .75-6.6 .75-1.4 .75 .4 .75 3.2 .75-2.7 .75 2.2 .75 .6 .75 4.5 .75-9.6 .75 5.8 .75-3.6 .75 1.1 .75 7.7 .75-3.6 .75-3.8 .75 3.4 .75-1.9 .75 4.3 .75-6 .75 3.7 .75-2.6 .75 .8 .75-.6 .75-1.8 .75 2.8 .75 3.2 .75-5.9 .75 .8 .75 2.9 .75-4.2 .75 6 .75-.6 .75-11.2 .75 6.1 .75-1.6 .75 7.2 .75 .4 .75-8 .75 1.9 .75 2.3 .75-1.1 .75 4.1 .75 .9 .75-1.4 .75 1.9 .75-.6 .75-3.8 .75-1.3 .75-1.2 .75 5.8 .75 .3 .75 .5 .75-5 .75-.3 .75 2.5 .75 3.7 .75-3.4 .75-.5 .75-3.9 .75 4.7 .75 .4 .75-5.6 .75 10.2 .75-10 .75 6.9 .75-4.3 .75 1.4 .75-3.5 .75 .8 .75 4.7 .75-3.3 .75-.6 .75 4.6 .75-.6 .75-2.1 .75 .3 .75 5.5 .75-7 .75 2 .75 .2 .75-6.8 .75-2 .75 7.7 .75 2.7 .75-2.4 .75-2.8 .75-.4 .75 5.4 .75-4.1 .75-4.9 .75 8.5 .75-1.6 .75 .5 .75 2.5 .75 1 .75-2.8 .75-2.8 .75-7.2 .75 9 .75-1.7 .75 5.5 .75-.2 .75-3 .75 3.3 .75-5.4 .75 .1 .75-3 .75 2 .75 1.9 .75 3.1 .75-6.7 .75 5.7 .75 5.7 .75-13.8 .75 4.1 .75 1 .75 3.7 .75 3.6 .75-2.8 .75-4.8 .75-3.1 .75 3 .75 0 .75 1 .75-4.2 .75 9 .75-8.5 .75 5.3 .75-1.8 .75-4.9 .75 4.3 .75-.2 .75-.8 .75 3.7 .75-4.8 .75 11.3 .75-5.4 .75-7.7 .75-5.9 .75 14 .75-3.8 .75-.6 .75-4 .75-1.8 .75-1.6 .75 16.6 .75-3.6 .75-8.2 .75 9.2 .75-14.1 .75 9.6 .75 0 .75-6 .75 1.5 .75-2.2 .75 4.1 .75 4.8 .75-1.3 .75-2.2 .75 2.6 .75-11 .75 14.4 .75-7.9 .75-4.8 .75 3.5 .75-1 .75 2.8 .75 .8 .75-10.1 .75 13.6 .75 1.8 .75-10.5 .75 9.5 .75-.8 .75-1 .75 2.4 .75-11.5 .75 8 .75-6.6 .75 12.9 .75-12.7 .75-.9 .75 9 .75-1.9 .75-2.2 .75 .4 .75 1.9 .75 4.3 .75-9.3 .75 .6 .75 0 .75 2 .75 .3 .75-4.9 .75 6.1 .75-5.9 .75 3.6 .75 .3 .75 .1 .75 6.6 .75 .6 .75-2.1 .75 2 .75-7.1 .75 6.5 .75-5.5 .75 1.1 .75 .2 .75-6.1 .75 2.8 .75 1.7 .75 2.1 .75-1.9 .75-2.7 .75-1.1 .75 4.5 .75-4.5 .75 0 .75 4.2 .75 1.1 .75-3.8 .75-3.6 .75 7.9 .75 2 .75-4.6 .75 .2 .75-7.4 .75 12.3 .75-7.5 .75 6.9 .75-4.9 .75 1.7 .75-.1 .75-6.1 .75 17.3 .75-16.3 .75 6.3 .75-3.4 .75 2.2 .75 6.1 .75-12.2 .75 6.6 .75 2.4 .75-1.4 .75 1.1 .75-4.3 .75-3.3 .75 1.3 .75 3.4 .75 4.4 .75-2.5 .75 5.8 .75-5.6 .75 .4 .75 0 .75-7.2 .75 8.7 .75-6.3 .75 2.8 .75 10.3 .75-13.4 .75 5.1 .75 .7 .75-.6 .75-.4 .75-2.1 .75 9.6 .75-15 .75 3.8 .75 9.4 .75-3.4 .75-4.9 .75-.5 .75 2.5 .75 10.9 .75-8.1 .75-5.7 .75 4.8 .75-3.2 .75 8 .75-4.4 .75 3.6 .75-4.1 .75 7.1 .75-6.1 .75-.5 .75-4.8 .75 2.2 .75 3.1 .75-3.3 .75 11.1 .75-9.3 .75-2.8 .75 6.5 .75-5.7 .75 3.5 .75-1.8 .75-2.4 .75 7.9 .75-4.8 .75 3.7 .75-5.4 .75-4 .75 .7 .75 2.7 .75 1.2 .75 .9 .75 1.7 .75-6.5 .75 5.5 .75-5.4 .75 2 .75 12.1 .75-4.8 .75-6.1 .75 8 .75-1.4 .75-2 .75 2.2 .75-6.4 .75 .4 .75-2.7 .75 5.4 .75-6.9 .75 2.8 .75 3.6 .75-3.6 .75 3.2 .75 5.6 .75-10.6 .75 9 .75-7.8 .75-1 .75 4.4 .75 3 .75-6.6 .75 0 .75 1.1 .75-1.1 .75 3.4 .75-3.4 .75 1.8 .75 2.2 .75-2.8 .75 5.8 .75-6.8 .75-.4 .75 10.5 .75-1.9 .75-5.4 .75 2.8 .75-1.8 .75-3.2 .75 4.4 .75-1.3 .75 3.6 .75-11.7 .75 9.9 .75-2.4 .75-3.2 .75 1 .75 .1 .75-3.4 .75 2.8 .75 5 .75-8.6 .75 4.3 .75-7.4 .75 6.7 .75 3.6 .75-1.7 .75 .4 .75-4.4 .75 6.3 .75-5.5 .75 6.8 .75-2.6 .75-2.2 .75 7 .75-7.1 .75 5.4 .75-3.5 .75-.4 .75 3.8 .75-2.1 .75-1.7 .75-.4 .75 1.2 .75-.5 .75-1.5 .75-2.7 .75-5.8 .75 9.3 .75-.5 .75 5.4 .75-2.9 .75 2.6 .75 2.2 .75-6.9 .75-2.8 .75 6.2 .75-5.3 .75 1.2 .75 6.3 .75-3.3 .75 2 .75-9.2 .75 5.2 .75 4 .75-9 .75 5.5 .75 .8 .75-10.2 .75 14.6 .75-8.7 .75 2.1 .75 6.8 .75-13 .75 8.4 .75-3.4 .75 1.8 .75-3.3 .75 8.2 .75-9.4 .75 5.6 .75 .6 .75-2.4 .75-.7 .75 0 .75 4.9 .75-2.2 .75-2.1 .75-3.8 .75 4.7 .75 1.4 .75-2.2 .75 5.5 .75-12.6 .75 16.6 .75-10.1 .75-3.7 .75-2.3 .75 9.8 .75-1.1 .75-3 .75 .6 .75 .8 .75-2.2 .75 5.9 .75-2 .75-2.9 .75-5.7 .75 11.3 .75-7 .75-2.1 .75 8.7 .75-3 .75-9.5 .75 1.3 .75 4.8 .75-3.3 .75 4.1 .75 10.5 .75 1.3 .75-11.4 .75 3.1 .75 .4 .75-3.9 .75-5.2 .75 9.7 .75-4.8 .75 2.4 .75 .9 .75-5.7 .75 9.4 .75-6.1 .75 .5 .75-2.5 .75 4.3 .75 1.1 .75-6 .75 4.3 .75-3.9 .75-3 .75 3.4 .75 3.5 .75-.2 .75 2 .75-6.7 .75 1.4 .75 1.4 .75 2 .75-2.8 .75-3.2 .75-2.3 .75 10.4 .75-.5 .75-6.6 .75 8.1 .75-5.9 .75 2 .75 3 .75-6.7 .75-1.2 .75-3.7 .75 7.8 .75 .5 .75 1.5 .75-1 .75-2 .75 3.9 .75-8.3 .75 5.3 .75 .5 .75-2.5 .75 7 .75-5 .75 3.5 .75-1.8 .75-4.2 .75 8.1 .75-3.2 .75-4.3 .75-.6 .75-3.5 .75 3.3 .75-.4 .75 1.7 .75-2.5 .75 3.8 .75-2.6 .75-5.8 .75 4.1 .75-1.6 .75-1.5 .75 3.9 .75 4.5 .75-7.9 .75-3.5 .75 7.1 .75 12.1 .75-13.9 .75 3.3 .75-2.7 .75 4.8 .75 2.3 .75-6.3 .75 5.2 .75-8.9 .75 5 .75-5.8 .75 5.6 .75-3.2 .75 3.3 .75-5.3 .75 5.2 .75-.5 .75-2.7 .75-1 .75-1.5 .75 3 .75 3 .75-2.1 .75 1.1 .75 4.2 .75-6.2 .75 2.4 .75 2 .75-1.3 .75-.5 .75-1.3 .75 7.2 .75-7.9 .75-1.2 .75 3.7 .75 4 .75-.9 .75-5.4 .75 3.1 .75-1.3 .75-1.7 .75 2.2 .75-.1 .75-1.9"/>
<path stroke="#008080" d="M172.5,688.6l.75-21.3 .75 18.5 .75 7.7 .75 .8 .75-17.9 .75-3.5 .75-13.1 .75 17.3 .75 27 .75-39.2 .75 2 .75 25.9 .75-.5 .75-23.1 .75 19.6 .75 5.8 .75-17.1 .75 26.6 .75-21.3 .75 26.2 .75-7.8 .75-7.6 .75-7.7 .75 13.9 .75 3.7 .75 .8 .75-3.4 .75 4.9 .75 11.9 .75-16.6 .75 8.1 .75 7.8 .75-3.7 .75 9.9 .75 7.9 .75-17.7 .75 6.7 .75-29.9 .75 26.6 .75 11.2 .75-16.5 .75 25.2 .75-30.4 .75 32.8 .75-17.1 .75-3.8 .75 6.5 .75 3.4 .75-6.1 .75-2.2 .75 9.6 .75 15.6 .75-3.9 .75 10.4 .75-17.7 .75 3.8 .75 1.5 .75 6 .75 4.4 .75 13.7 .75-8.8 .75-3.9 .75 12.8 .75-19.2 .75-3.8 .75 20.3 .75-3.5 .75 .9 .75 9 .75-10.7 .75 3.4 .75 6 .75 3.9 .75 4.4 .75-6.9 .75 2.7 .75-24 .75 35.7 .75-25 .75 15.7 .75 25.5 .75-25.6 .75-10.4 .75 31.2 .75-18.9 .75 4.9 .75 1.3 .75 9.7 .75 1.7 .75-7 .75 12.7 .75-17.3 .75 15.9 .75-10.7 .75 13.5 .75-11.3 .75 3.4 .75 19 .75-22.6 .75 .8 .75 17.4 .75-6.4 .75-.2 .75 3.9 .75 22 .75-27.5 .75 8.3 .75 5.3 .75-8.7 .75 9.5 .75 6 .75-11.3 .75 19.6 .75-19.1 .75 10.3 .75 5.6 .75 26.8 .75-42.9 .75 19.4 .75 21.3 .75-26.7 .75 16.2 .75-6.8 .75-13.6 .75 17.3 .75-10.5 .75 9.7 .75-13.2 .75 20.7 .75-26.8 .75 20.7 .75 13.8 .75-5.8 .75-6.7 .75 1.9 .75-.7 .75 28.5 .75-23.4 .75 1.3 .75-5.3 .75 3.2 .75 10.4 .75-9.7 .75-.8 .75 3.2 .75 2.6 .75 5.6 .75-4.8 .75 3.5 .75-3.9 .75 18.1 .75-8.9 .75-2.6 .75 6.2 .75-2 .75-12.1 .75 12.9 .75 16.7 .75-9 .75 6.7 .75-14.8 .75-6.1 .75 7.7 .75 18.5 .75-19.1 .75 2.7 .75 17.1 .75-10.6 .75 1.3 .75 5.8 .75-1.6 .75-2.4 .75 5.5 .75-7.4 .75 6.5 .75 6.7 .75-13.8 .75 8 .75-7.1 .75 16.6 .75-.3 .75 3.5 .75 1.5 .75 .7 .75-1.8 .75-11.8 .75 15.1 .75-14.7 .75 27.9 .75-16.3 .75 3.3 .75-14.5 .75 20 .75 1.6 .75-22 .75 9.3 .75 1.6 .75-.6 .75 17.7 .75 7.4 .75-25.7 .75 18.4 .75-9.9 .75 14.4 .75-30.4 .75 17.5 .75 14.5 .75-15.3 .75 16.9 .75-13.1 .75 14.3 .75-3.7 .75-7.5 .75-2 .75 5.6 .75 11.5 .75-8.8 .75-4.6 .75 33 .75-39 .75 11.7 .75 6.9 .75-12.1 .75 9.1 .75-2.6 .75-7.8 .75 16.3 .75-12.1 .75 3.8 .75 16.7 .75-18.2 .75 14.6 .75 5.4 .75-.6 .75-3.3 .75-4.7 .75-8.3 .75 13.3 .75 3.5 .75-6.5 .75-2.7 .75 15.8 .75-14 .75 12.9 .75-6.2 .75-8.3 .75 27 .75-6.7 .75 .5 .75-14.2 .75 11.2 .75 4.3 .75-6.9 .75 19.8 .75-27.4 .75 22.2 .75-19 .75 3.5 .75 3.3 .75 15.2 .75-8.9 .75 1.2 .75-1 .75-3.6 .75 5.3 .75 .1 .75 5.9 .75 .3 .75-14.6 .75 14.1 .75 15 .75-12.1 .75 3.8 .75-4.1 .75 1 .75 5.4 .75-8.9 .75 9.8 .75-10.6 .75 15.9 .75-13.6 .75 17.5 .75 3.5 .75-19 .75 18.1 .75-7.4 .75 12.6 .75-11.9 .75 2.7 .75 .7 .75 12.4 .75-23 .75 21 .75-4.2 .75-3.5 .75 2.7 .75 9.5 .75 0 .75 7.2 .75-16.4 .75-8.4 .75 10.7 .75 3.5 .75-1 .75 13 .75 8.6 .75-13.1 .75-14.9 .75 21.5 .75-11.3 .75 6 .75 6.8 .75-2.4 .75-2.1 .75 3.6 .75 4.5 .75 .1 .75 11.4 .75-35.2 .75 16.9 .75 2.5 .75 11.2 .75-3.2 .75 5.5 .75-15.1 .75 9.7 .75 7.2 .75-3.8 .75-1.4 .75 5.8 .75 10.7 .75-25.3 .75 26.8 .75-8.2 .75-7.1 .75 11.4 .75-3.6 .75 8.8 .75-13.4 .75 12.9 .75-12.4 .75 9 .75 3.2 .75-4.8 .75 5.5 .75-7.9 .75 11.9 .75-10.2 .75-.8 .75 4.6 .75 1 .75-4.8 .75 11.8 .75-5.8 .75 5.6 .75-13.8 .75 1.8 .75 7.8 .75-4.3 .75 6.5 .75 5.4 .75 4.4 .75 3.1 .75-3.9 .75-9.4 .75 9.2 .75-6.5 .75 8 .75-10 .75 16.8 .75-5.5 .75-3.9 .75-6.5 .75 11.8 .75-4.7 .75 5.9 .75-5.6 .75 1.9 .75 8.4 .75 6.4 .75-17.4 .75 7.8 .75 4.6 .75-2.9 .75-1.2 .75 17.8 .75-19 .75 8.5 .75-4.9 .75 3.2 .75-13.6 .75 21.3 .75-6.5 .75-4.3 .75 17.8 .75-12 .75-1.6 .75-.8 .75 13 .75-6.1 .75-1.5 .75-5.9 .75 3.4 .75 8.6 .75-1.7 .75-12.1 .75 7.9 .75 7.7 .75 16.4 .75-21.3 .75-8.8 .75 19.7 .75-7.2 .75-4.7 .75 12.6 .75-4.4 .75-4 .75-1.5 .75 8.1 .75 2 .75-11.2 .75 18 .75-13.7 .75 17.2 .75-6.2 .75-2.9 .75 3.6 .75-5.5 .75 3.7 .75 11 .75-13.6 .75 9 .75-10.4 .75 5.8 .75 6.4 .75-13.2 .75 9.9 .75-15.2 .75 6.6 .75 4.8 .75 8.4 .75-.8 .75-9.8 .75 5.2 .75 2.3 .75-10.5 .75 12.7 .75 6.1 .75-.3 .75-10.8 .75 1.6 .75-2.8 .75 3.2 .75 2.1 .75 6.2 .75-3.2 .75-5.6 .75 11.2 .75 .9 .75-8.6 .75 2.7 .75 1.4 .75-8.8 .75 11.3 .75 3.8 .75 8.3 .75-10.2 .75-2.3 .75 1.3 .75 5.1 .75 1.6 .75-9.4 .75 6.8 .75 3.2 .75-15.5 .75 20.7 .75-9.1 .75 6.9 .75-5 .75-.8 .75 1.4 .75 2.6 .75 3.9 .75-6.3 .75-4.7 .75 2.9 .75-1.2 .75 10.7 .75-9.8 .75 15.1 .75-7.8 .75-.9 .75 8.7 .75-9.5 .75 .9 .75 6.7 .75 .2 .75-9.8 .75 20.6 .75-10.7 .75-10.2 .75 6.7 .75 6.8 .75-3.8 .75 4.1 .75 9.2 .75-8 .75 6.7 .75-7.4 .75-7.4 .75 13 .75-12.4 .75 9.9 .75-1.3 .75-8.3 .75 1.2 .75 3.4 .75 3.7 .75 5.8 .75-6.9 .75 10.9 .75-5.6 .75-8.3 .75 .4 .75 4.4 .75-3.2 .75 2.8 .75 5.2 .75-2.7 .75 4.4 .75-9.3 .75-.7 .75-2.8 .75-1.9 .75 7.9 .75 3.2 .75-1.2 .75 1.4 .75 11.8 .75-17.5 .75 4.9 .75-.9 .75-2.1 .75 13 .75-7.5 .75 7.5 .75-13.2 .75 17.2 .75 2.4 .75-17.4 .75 5.1 .75-.5 .75 4.1 .75-10.2 .75 10.2 .75 1.7 .75-7.3 .75-9.1 .75 9.2 .75 1.8 .75 6.7 .75-7.5 .75-2.8 .75 10.2 .75-1.2 .75 2.3 .75-3.7 .75 5.9 .75-2.8 .75-12.6 .75 11.3 .75 3.4 .75-3.8 .75 8.2 .75-10.5 .75 6.7 .75-10.4 .75 7 .75-2.7 .75-2.3 .75-1.4 .75 8.7 .75 1.4 .75-5.6 .75-3.1 .75 2.3 .75 9.3 .75-10.6 .75 13.2 .75-15.2 .75 11 .75 2.4 .75 3.3 .75-8.8 .75-1.6 .75-3.3 .75 13 .75-5.4 .75-1.6 .75 .5 .75 4 .75-1 .75 6.5 .75-17.9 .75 16.6 .75-7.2 .75 2.7 .75-1 .75 1.5 .75 4.9 .75-2.7 .75-8.7 .75 7.7 .75 .1 .75 2.8 .75-1.5 .75-.4 .75 6.2 .75-11.1 .75 17.8 .75-14.5 .75-2.3 .75 10.1 .75 1.8 .75 1.1 .75 1.4 .75-5 .75-2 .75 1.9 .75-1.9 .75-2.6 .75 11.7 .75 1.3 .75-9.4 .75-1 .75-1.2 .75-6.1 .75 5.5 .75 1.1 .75 2.9 .75-5 .75-4.6 .75 13.8 .75 5.9 .75-20.2 .75 10.7 .75 5.5 .75-10.5 .75-1.3 .75 8 .75-1.3 .75-1.9 .75 12.1 .75-.6 .75-4.3 .75-3.6 .75-1.2 .75 6.5 .75-5.7 .75 9.2 .75-1.1 .75-9.6 .75 7.3 .75 4.4 .75-4.6 .75-8.3 .75 3.8 .75-.3 .75 2.6 .75-.3 .75-1.8 .75 6.5 .75 2.7 .75-9.9 .75-4.6 .75 9.8 .75-1.7 .75 2.3 .75-5.6 .75 5.3 .75-6.2 .75 10.6 .75 3.3 .75-13.5 .75-8.5 .75 11.1 .75 0 .75 3.9 .75-.7 .75 2.6 .75 11.7 .75-16.9 .75 1.2 .75 4.3 .75-11.7 .75 13.8 .75-7.1 .75-4.1 .75 3.2 .75 7.2 .75 1.8 .75 2.3 .75-4.1 .75-5.9 .75 6.7 .75-3.3 .75 12.5 .75-22.7 .75 19 .75-4.3 .75-1.9 .75-2.6 .75-2.4 .75-2.1 .75-3.1 .75 18.6 .75-5.7 .75-1.3 .75-1.6 .75-11.8 .75 8.5 .75 2 .75 5.4 .75-11.2 .75 6.6 .75-2.6 .75 1.4 .75-4.2 .75 5.9 .75-1.5 .75-10.1 .75 16 .75 5 .75-15.8 .75 10.4 .75-11 .75 2.4 .75 11.8 .75-8.1 .75 6.8 .75-6.3 .75 3.7 .75-6 .75 8.3 .75 1.9 .75-5.7 .75-6.4 .75 1.2 .75-2.9 .75 8.1 .75-.3 .75-6.2 .75 8.4 .75-7.5 .75 12.4 .75-5 .75 4.1 .75-11.8 .75-1.3 .75-4.2 .75 12.9 .75-9 .75 12.8 .75-6.1 .75 3.3 .75-10.3 .75 3.6 .75 4.1 .75 3 .75-10.3 .75 8.5 .75-5.9 .75 8.5 .75-5.2 .75-.3 .75 3.9 .75 3.8 .75-7 .75 7.6 .75-11.3 .75 6.7 .75-7.1 .75 6.9 .75-5.6 .75 4.9 .75 3 .75-8 .75-4 .75 8 .75 3.5 .75-1.5 .75-5.9 .75 8.8 .75-5.8 .75 5.3 .75-8.5 .75 6.7 .75 3.7 .75-9.5 .75 1.8 .75 4.6 .75-.6 .75-.9 .75-2.5 .75-7.4 .75 7.8 .75-6.6 .75 6.9 .75-12.4 .75 19.2 .75 2.3 .75-7.5 .75-6.7 .75 2.7 .75 6 .75-1.3 .75-6.9 .75 9.5 .75-2.5 .75-1 .75-4.6 .75 1.7 .75-3.7 .75 4.5 .75-4.4 .75 9.3 .75-5.8 .75 .9 .75 .6 .75-.1 .75-8.8 .75 13.8 .75-6 .75-3.2 .75-2.1 .75 1.5 .75 .5 .75 3.2 .75-4.3 .75 5 .75 .2 .75-4.2 .75 14.8 .75-11.7 .75 2.4 .75-1.1 .75-1.3 .75 4.3 .75 3.6 .75-7.3 .75-3.9 .75 7.2 .75-13.6 .75 11.8 .75-1.7 .75 2.7 .75-9.2 .75 5.5 .75-3 .75 2.6 .75 5.7 .75-3.9 .75-1.9 .75 9 .75-5.8 .75-10.2 .75 5 .75 7.3 .75 .2 .75-1.1 .75 .2 .75-5.9 .75 4 .75-5.6 .75 1.7 .75-.5 .75 .2 .75 2.4 .75 .5 .75-3.1 .75 9.4 .75-7.9 .75 10 .75-2.9 .75-11.3 .75 10.5 .75-11.7 .75 14.3 .75-5.8 .75-6.8 .75-6.2 .75 9 .75-5 .75 12.3 .75-12 .75 5 .75 3.5 .75-2.5 .75 1.1 .75-2.7 .75 4.8 .75-8.5 .75 7.5 .75-9.1 .75 6.9 .75-6.8 .75 4.6 .75 3.9 .75 3.2 .75-15.6 .75 5.1 .75-1.2 .75 11 .75-10.7 .75 7.8 .75-6.4 .75-4.9 .75 7.7 .75-6.5 .75 9.3 .75 .4 .75 2.3 .75-12.2 .75 13.1 .75-3.3 .75-14.3 .75 20.4 .75-3 .75-14.1 .75 6.8 .75-8.8 .75 6 .75 1.5 .75 2 .75-7.6 .75 3.9 .75-4.8 .75 6.6 .75 1.3 .75-3.3 .75 5.4 .75-2.2 .75-2.2 .75 3.9 .75-12.7 .75 6.1 .75-9.2 .75 8.9 .75-2.5 .75 6.6 .75-6.8 .75-1.2 .75 2.7 .75-.4 .75 3.3 .75-7.4 .75-3.4 .75-.6 .75 14.3 .75-12.7 .75 4.1 .75-3.5 .75 10.4 .75-7.7 .75 9.3 .75-10.2 .75 5.2 .75 2.4 .75 1 .75-11.4 .75 4.2 .75 1.5 .75-9.3 .75 13.3 .75-1.8 .75 .6 .75-10.1 .75 8.2 .75 1.3 .75 3 .75-8.2 .75 6.2 .75 6.7 .75-12.7 .75 .1 .75 .4 .75-6.3 .75 5.9 .75 10.4 .75-13.5 .75 3.8 .75 7.2 .75-3.4 .75-1.8 .75-3 .75 1.1 .75 .6 .75 3.5 .75-3.3 .75 4.5 .75-14.8 .75 14.1 .75-7.1 .75 2.8 .75-2.4 .75 5.6 .75-4 .75 3.9 .75-7.6 .75 5.2 .75 5.4 .75-.6 .75-7.8 .75 2.6 .75-2.7 .75 1.2 .75 .7 .75 6.3 .75-3.4 .75 4.6 .75 .4 .75-14.8 .75 8.3 .75-4.1 .75-6.2 .75 2.8 .75 3 .75 11.5 .75-8.4 .75-1.5 .75 .8 .75-3.9 .75 4.9 .75-1.4 .75-8.2 .75 5.8 .75 20.5 .75-14.3 .75-3.8 .75 4 .75-8.5 .75 5.7 .75 4.2 .75-12.9 .75 4.6 .75 1.9 .75 .8 .75-1.1 .75 4.2 .75 4 .75-3.4 .75 3.7 .75 .2 .75-8.5 .75 4.7 .75-3.3 .75 5.5 .75-5.1 .75 .9 .75 10 .75-9.7 .75-7.1 .75 8.9 .75 1 .75-4.1 .75 3.2 .75 5 .75-7.9 .75 1.9 .75-2.6 .75 5.5 .75-2.3 .75-4 .75 4.1 .75 10.4 .75-18.2 .75 1.7 .75 9 .75-8.9 .75 17.3 .75-17.8 .75 .9 .75 4.1 .75 8.1 .75-1.5 .75-1.3 .75-1.5 .75 5.1 .75-16.3 .75 10.8 .75 5.8 .75-13 .75 7 .75 4.6 .75 0 .75-7.3 .75 10.3 .75-7.2 .75 2.9 .75-11.3 .75 1.6 .75-.2 .75 13 .75-21.4 .75 2.5 .75 13.6 .75-3.5 .75-16.3 .75 13.2 .75 .4 .75 7.8 .75-16.4 .75 7.1 .75 8.2 .75-1.7 .75-8.9 .75 3.2 .75-6.3 .75 14.7 .75-9.4 .75 8.8 .75-2.6 .75-8.8 .75 3.8 .75 4.1 .75-1 .75 5.6 .75-2.1 .75-4.2 .75 1.9 .75-7.3 .75 .6 .75 6.3 .75-1.4 .75-7.5 .75 5.3 .75-3.7 .75 1.3 .75 9.6 .75-11.7 .75 1.6 .75 6.3 .75-2.5 .75 .4 .75-8.3 .75 7.3 .75-1.7 .75-2.3 .75 1.3 .75 1.4 .75 5.9 .75 5.4 .75-9.2 .75 7.1 .75-7.1 .75-8.3 .75 8 .75 6.4 .75 .6 .75-11.9 .75 16.1 .75-15.4 .75-.1 .75 1 .75 10 .75-5.6 .75 2.4 .75-16.6 .75 11 .75-.5 .75 3.9 .75-6.4 .75 8.4 .75-10.1 .75-4 .75-1.6 .75 14.9 .75-3 .75-8.3 .75 9.6 .75-7 .75 0 .75-7.3 .75 4.6 .75 3.3 .75 .4 .75-4.1 .75 8.1 .75 2.3 .75-11.9 .75 6.4 .75-10.1 .75 10.2 .75-7.3 .75 4.3 .75 1.7 .75-2.2 .75 6.8 .75-9.6 .75 1.7 .75 4.1 .75-1.9 .75 1.6 .75-2.5 .75-3.1 .75 7.7 .75-3.1 .75 4.4 .75 2.2 .75-8.8 .75-2.1 .75 1.5 .75-1 .75-7 .75 19.1 .75-6.5 .75 10.1 .75-15.2 .75 6.1 .75-1.7 .75-1.8 .75 5.5 .75-5.1 .75-.3 .75 1.4 .75-12.4 .75 8.2 .75 .2 .75 12.8 .75-5.1 .75 1.5 .75-.3 .75-3.8 .75 10.1 .75-9.1 .75-5.8 .75 11.1 .75 3.4 .75-5 .75 1.8 .75 3.6 .75 3.5 .75-4.4 .75 6.2 .75-6.6 .75 9.7 .75-17.2 .75 12.3 .75-2.9 .75-.4 .75-6.6 .75 12.4 .75-6 .75-3.6 .75 2.3 .75 2.5 .75 2.1 .75-4.6 .75 .4 .75 7.1 .75-1.9 .75 10.6 .75-11.5 .75 6.3 .75 5.4 .75-9.3 .75 6.4 .75-3 .75-.8 .75 8 .75-12.4 .75 2.3 .75-5.3 .75 8.5 .75 5.8 .75-5.7 .75 5.6 .75-7.4 .75 9.7 .75-5.7 .75-1.4 .75 10.6 .75-7.6 .75 3.2 .75-1.9 .75 3.2 .75-2.5 .75-6.1 .75 7.5 .75 1.2 .75-.2 .75-2.8 .75 10 .75-12.1 .75 4.2 .75 .5 .75-6.1 .75-.4 .75 9.1 .75 .1 .75-2.4 .75-8.3 .75 6.4 .75 2.7 .75 1.9 .75 2.8 .75-3.4 .75 2.6 .75 3.4 .75-19 .75 16.1 .75-6.8 .75 4.5 .75-1.1 .75-5.8 .75 .7 .75 6.5 .75-2.9 .75 4.5 .75-5.2 .75 12.1 .75-11.3 .75 11.2 .75-13.3 .75 6.3 .75 2.8 .75-11.4 .75 1.7 .75 6.6 .75 3.6 .75 1.1 .75-3.8 .75 2.3 .75-10.5 .75 3.5 .75 8.9 .75-9.5 .75 1.4 .75-7.1 .75 7.3 .75-6.7 .75 9.2 .75 5.2 .75-5.5 .75-.7 .75-2.7 .75 4.4 .75-7.9 .75 3 .75 12.4 .75-16.4 .75 3.4 .75-4 .75 12.5 .75-7 .75-5 .75 .1 .75 11.1 .75-2.1 .75 .6 .75-4.2 .75 4.6 .75 1.9 .75-3.1 .75-10.8 .75-1.8 .75 2.3 .75 8.2 .75-8.4 .75 1.9 .75 5.2 .75-4.4 .75-2.1 .75 10.5 .75-2.4 .75 1.2 .75 .4 .75 2.3 .75-7.4 .75-.9 .75-7.8 .75 7 .75-2 .75 7.6 .75-2.1 .75 3.6 .75-2.1 .75 .2 .75-3.4 .75-2.1 .75-2.8 .75 1.5 .75-4.8 .75 6.2 .75-2.6 .75-9.7 .75-3.5 .75 9.3 .75 1 .75 .5 .75 7.6 .75-9.7 .75-3.4 .75 7.8 .75 2.8 .75 2.9 .75-13.3 .75 3.4 .75-1.1 .75 9.3 .75-4.3 .75-3.5 .75 3.2 .75-5.6 .75 .6 .75 .7 .75-2.5 .75 1.1 .75 2.8 .75-.6 .75 6 .75-3.2 .75-4.7 .75-10.6 .75 3.4 .75 4.8 .75 .4 .75-4.7 .75 4.5 .75 2.3 .75-3.9 .75 2.3 .75 0 .75-3.2 .75-1 .75 3.4 .75 1.8 .75-6.8 .75-5.2 .75 5.2 .75 7 .75-10.7 .75 12.4 .75-7.8 .75 3.3 .75-4.7 .75 6.5 .75-2.8 .75 1.3 .75-11.8 .75 13.1 .75-12.3 .75 6.5 .75 4 .75-3.9 .75 3.2 .75-1.9 .75-.6 .75-4.7 .75 9 .75 .6 .75-8.2 .75-1.4 .75 5.9 .75-4.1 .75 5.1 .75 4.2 .75 .1 .75 4.8 .75-4.2 .75-6.5 .75 1.7 .75 7.5 .75 7.3 .75-10.3 .75-2.2 .75 11.8 .75-6.8 .75 4.5 .75 2.4 .75-9.4 .75 3.5 .75-.4 .75 5.7 .75 1.1 .75-5 .75 5.6 .75-10.6 .75 10.6 .75 .5 .75-1.1 .75-6.3 .75 6.8 .75-4.1 .75 12.2 .75-7.7 .75 .8 .75 .8 .75 3.4 .75-1.7 .75 2.5 .75-6.4 .75 9.7 .75-7 .75 6.2 .75-2 .75 4.2 .75-4.9 .75-6.1 .75 1.9 .75 4.6 .75 7.7 .75-7.9 .75 2.4 .75 5.8 .75-8.1 .75 4.2 .75 .1 .75-3.9 .75 4 .75 3.8 .75 .2 .75-6.1 .75 14.8 .75-11.4 .75-2.7 .75-1.9 .75-1 .75 8.3 .75-16.6 .75 12.4 .75-5.3 .75 5.4 .75 .7 .75-5.8 .75 1.4 .75 10 .75-8.5 .75 2.2 .75-1.7 .75 4.8 .75 1.4 .75-1.7 .75-2 .75-.4 .75-8.3 .75 11 .75-8.9 .75-1.9 .75 2 .75-2.3 .75 5.1 .75 1.1 .75 2.1 .75-6.7 .75-2.7 .75 1 .75-4.5 .75 1.5 .75 12.3 .75-13.3 .75 .9 .75 4.6 .75-2.2 .75 2 .75-8.2 .75-1.3 .75 10.7 .75-9.8 .75 2.5 .75 1.2 .75-9.8 .75 7.9 .75-1.8 .75 6 .75-3.3 .75-8.3 .75 15.1 .75-14.6 .75 10.9 .75-.3 .75 1.4 .75 3.8 .75 5.4 .75-7.3 .75 2.1 .75 7.2 .75-.1 .75 1.9 .75-.7 .75-1.6 .75-.1 .75 1.1 .75 7.1 .75 3.5 .75 3 .75-12.3 .75 4.3 .75 1.7 .75 0 .75-3.6 .75 14.8 .75-2.4 .75-6.7 .75-.8 .75 2.4 .75-4.7 .75 4.1 .75 5.3 .75 4.2 .75-2.9 .75 2.2 .75-9.5 .75-8.8 .75 20 .75-4.6 .75-.7 .75 7.8 .75-10.7 .75 .5 .75 1.3 .75 10.3 .75-2.5 .75-11 .75 14.8 .75-6.5 .75 2.1 .75-4.6 .75 11.4 .75-5.7 .75 4.1 .75-9.3 .75 7.4 .75-2.1 .75-.9 .75-2.1 .75 .8 .75-1.5 .75 2.4 .75 2.9 .75 2.8 .75-8.5 .75 2.4 .75 2 .75-3.9 .75 5.7 .75 .3 .75 .5 .75 2.7 .75 2.4 .75-.4 .75-1.8 .75 1.4 .75-5.3 .75-.4 .75 6.6 .75-.1 .75 6.8 .75-9.5 .75-2.9 .75 5.3 .75-2.8 .75-1.6 .75 9.3 .75 2.4 .75-6.1 .75-4 .75 3.8 .75-1 .75-5.2 .75 9 .75-1.8 .75 3.8 .75-7.1 .75 2.3 .75-.2 .75-6.3 .75 17 .75-18.2 .75 3.9 .75 3.3 .75-4.7 .75 7.9 .75-3.4 .75 2.1 .75 .7 .75-.6 .75 .1 .75-1 .75 2.3 .75 1.5 .75-4.2 .75-.8 .75 .2 .75 2.8 .75-2.7 .75 0 .75-4.5 .75 13.7 .75-12.5 .75 11.6 .75-3.4 .75 1 .75-3 .75 1.1 .75-.6 .75 1.4 .75 1.2 .75 2.9 .75-9.7 .75 6.1 .75 4.7 .75-.7 .75-9.3 .75 5.5 .75 .1 .75 .1 .75-9.7 .75 12.5 .75-9.5 .75 15.2 .75-5.9 .75-2.8 .75 3 .75-1.9 .75-2.6 .75 1.7 .75 1.7 .75-4.6 .75 5.9 .75 1.5 .75-.2 .75 .3 .75 .4 .75-2.4 .75 2.4 .75-5.1 .75 1.4 .75 3.9 .75 2 .75-9.2 .75-4.4 .75 14.2 .75-4 .75 2.7 .75-3.7 .75-2.7 .75-3.5 .75-1.3 .75 9.6 .75-1.9 .75-2.6 .75-5.7 .75 2.3 .75-.3 .75 1.2 .75-10.3 .75 12.4 .75 5.4 .75-8.4 .75 2.2 .75 1 .75-5.1 .75 5.7 .75-5 .75 1.5 .75 2.7 .75-1.3 .75 .6 .75-4.2 .75 6.6 .75-7.4 .75 7.7 .75-5.4 .75-2.9 .75 4.3 .75-3.9 .75 2 .75 1.5 .75 3.6 .75 0 .75-1.3 .75-3.2 .75-5.1 .75 5.2 .75-.5 .75 .7 .75-1.6 .75-.1 .75 5.3 .75-8.7 .75 5.3 .75 5 .75-8.3 .75-.9 .75 3 .75-.6 .75 2.4 .75 4.4 .75-6.1 .75 2.7 .75-4.7 .75 .2 .75 3.1 .75-4.1 .75 7.5 .75-6.8 .75 .7 .75-4 .75 2 .75-2.8 .75 1.5 .75-5.8 .75 6.7 .75 6.7 .75-15.7 .75 14.5 .75-8.4 .75 3.6 .75-8.5 .75 12.2 .75-13.8 .75 3.7 .75 6.3 .75-12.7 .75-5.2 .75 9 .75-3.7 .75-1.6 .75-.5 .75-3.3 .75 11.7 .75-1.6 .75-12.3 .75 4.7 .75-2.5 .75 6.1 .75-9.6 .75 10.1 .75-8.1 .75-4.5 .75 2.2 .75-3.1 .75 12.1 .75-10.6 .75-3.8 .75 1.7 .75 5.4 .75-12.3 .75-4.5 .75 13 .75-4.4 .75-6.1 .75 .5 .75 4.5 .75-19.6 .75 18.1 .75-8.2 .75 2.9 .75-4.7 .75 14.2 .75-19.4 .75 7.3 .75-19.6 .75 11.9 .75 2.6 .75-12.9 .75-3.6 .75 9.6 .75 3.5 .75-.1 .75-10.7 .75 4.4 .75-10.1 .75 15.5 .75-12.8 .75 9 .75-8.5 .75-.6 .75 10.1 .75-12.9 .75 11.6 .75-8.2 .75-2.2 .75 .8 .75 10.8 .75-5.6 .75-.8 .75-5.3 .75 14.4 .75 0 .75-3.2 .75 3 .75-20 .75 14.5 .75 4.1 .75 .3 .75-2.8 .75 4.7 .75-4.3 .75 1 .75-2.4 .75 7.6 .75-3.7 .75 1.7 .75 10 .75-6.5 .75 .6 .75-6.9 .75 5.5 .75 8 .75-1.8 .75-2.1 .75-.8 .75 1.4 .75 1.8 .75-3.4 .75-10.5 .75 22 .75-4 .75-6.2 .75 7.8 .75-13.3 .75 12.9 .75-5.3 .75 3.6 .75-5.8 .75 2.7 .75 2.5 .75 2.8 .75-2 .75 .3 .75-4.2 .75 12 .75-6.5 .75-1.2 .75 .4 .75-3.2 .75 3.2 .75-2.6 .75 9.5 .75 0 .75 2.9 .75-5.1 .75 5.6 .75 .9 .75 9.4 .75-9.3 .75 1.8 .75 14.5 .75-2.3 .75-6.7 .75 14.4 .75 2.1 .75-.3 .75-12.6 .75 10.3 .75-3.4 .75 3.3 .75-4.9 .75 14.6 .75-9.6 .75 4.7 .75 2.8 .75-.2 .75-.2 .75-2.8 .75 3.2 .75-1.3 .75-7.8 .75 14 .75-6.1 .75 1 .75 1 .75-3.5 .75 1.2 .75-2 .75 9.6 .75 3.2 .75-4.2 .75-4.5 .75 10.1 .75-6.2 .75-4.8 .75-.9 .75 8.6 .75 5.3 .75-7 .75-.7 .75 1.8 .75-2 .75 1.5 .75 3.4 .75-3.6 .75 6.8 .75-7.3 .75 6.8 .75-1.3 .75-2.7 .75 .4 .75 0 .75 7.9 .75-9.6 .75 7.9 .75-.7 .75-5.1 .75 7.7 .75-15.6 .75 10.4 .75-.4 .75-.4 .75 3.3 .75-4.8 .75 .9 .75 5.3 .75-4.8 .75-3.5 .75 6.3 .75-2.5 .75-1.8 .75 4.4 .75-5 .75-.8 .75 2.9 .75 .4 .75 1 .75-4.8 .75 11.4 .75-4 .75-2 .75 .4 .75-10.5 .75 13.4 .75-7.5 .75 6 .75-6.5 .75 8.5 .75-5.8 .75 1.3 .75 6.8 .75-2 .75-9 .75 2.7 .75 3.5 .75-1.6 .75 4.1 .75-5.7 .75-4.5 .75 3.8 .75 2.9 .75 2.8 .75 .9 .75 2 .75-3.8 .75-1.6 .75 3.6 .75-3.1 .75-1.3 .75 .1 .75 5.4 .75 2.2 .75-.6 .75-11.1 .75 10.4 .75-8.4 .75 3.1 .75 3.6 .75-7.3 .75 .5 .75 1.9 .75 9.4 .75-2.3 .75-7.4 .75 4 .75 .1 .75 .7 .75-3.8 .75 8.2 .75-6.9 .75 4.6 .75-9.5 .75 7.9 .75-1 .75 4.6 .75-15 .75 11.9 .75 1 .75-4.2 .75 6 .75 3 .75-4.7 .75-.3 .75 2 .75-3.5 .75 2.9 .75-2.4 .75-4.9 .75-1.4 .75 8.4 .75-2.2 .75-4.9 .75 2.6 .75 5.5 .75-12.2 .75 3.1 .75 6 .75 .5 .75-7.7 .75 .7 .75 4.4 .75 4.6 .75-5.3 .75-9 .75 12.8 .75-4 .75-1.8 .75-2.7 .75 9 .75-3.6 .75 .5 .75-.2 .75 .3 .75 1.6 .75 3.3 .75-10.6 .75 3.8 .75-1.4 .75 8.2 .75-7.5 .75-5 .75 6 .75-2.6 .75 0 .75 1.1 .75-3.2 .75-2.4 .75 14.9 .75-7.9 .75-3.1 .75 6 .75 2.7 .75-11.7 .75 5 .75 2.8 .75-4.2 .75 4.9 .75-6.4 .75 2.2 .75 2.1 .75 2.2 .75-1.5 .75-2.7 .75 1.2 .75-6.6 .75 16.2 .75-9.7 .75 .5 .75 2.2 .75 1.2 .75-.9 .75-3.8 .75-3.7 .75 5.7 .75-2.4 .75 1 .75 2.1 .75 1 .75 4 .75-5.5 .75-5.9 .75 8.8 .75 1.3 .75-9.7 .75 8.5 .75-1.5 .75-2.8 .75 2.8 .75 .8 .75 .8 .75 2.2 .75-4.4 .75 .1 .75 9.2 .75-13.2 .75 3 .75-.2 .75 4.3 .75 1.3 .75-9.2 .75 9.7 .75-9.1 .75 14.4 .75-12.4 .75 6.7 .75-5.1 .75 3.7 .75-5.5 .75 3.4 .75-.4 .75 .2 .75 2.7 .75-4.6 .75 .4 .75-3.7 .75 4.4 .75-1.3 .75 5.2 .75-.8 .75-5.2 .75 4.4 .75 3.3 .75-5.7 .75-3.7 .75 13.8 .75-7.2 .75 .6 .75 6.8 .75-12.5 .75 4.2 .75-8.3 .75 9 .75-.3 .75-4.5 .75-.2 .75 2.6 .75-.2 .75 6.8 .75-6.9 .75 .4 .75-.1 .75-5.3 .75 4.2 .75-3.3 .75 5.6 .75-8.7 .75 4 .75 5.2 .75-8.8 .75 2 .75 9.7 .75-8.8 .75 5 .75 1.2 .75-5.1 .75-2.4 .75 12.1 .75-7.8 .75 4.1 .75-4.8 .75 4.2 .75-6.3 .75-.2 .75 1.2 .75 1.6 .75 0 .75 1.2 .75 2.8 .75-3.6 .75 5.6 .75-6 .75 5 .75 2.4 .75 1.6 .75-14 .75 14 .75-13.1 .75 12 .75-5.4 .75 1.4 .75-4.9 .75 7.1 .75-.9 .75-4.7 .75-.2 .75 5.6 .75 .6 .75-.9 .75-4.3 .75 1.4 .75 3.5 .75-.3 .75 1.1 .75-3.7 .75-3.2 .75 3.8 .75 .6 .75-3.7 .75 3.7 .75-4.8 .75 4.1 .75-3.2 .75 10.2 .75-3.5 .75-3.4 .75-5.9 .75 .3 .75 7.2 .75-3.1 .75 1.7 .75-7 .75 .2 .75 6.1 .75-1.2 .75-4.2 .75 2 .75 6 .75-4.6 .75 3.8 .75 4 .75-4.9 .75-.8 .75-2.7 .75 6.8 .75-10 .75 1.3 .75 4.1 .75-5.5 .75 9.2 .75-6 .75 4.3 .75-3.1 .75 .2 .75 1 .75-7.4 .75 3.3 .75 2.3 .75 10.1 .75-5.3 .75-.4 .75-6.6 .75 7.3 .75 1.3 .75-1.8 .75 7 .75-14.9 .75 1 .75 3 .75-2.6 .75 3.8 .75 1.8 .75-2 .75 .4 .75 1.1 .75 1.4 .75-5.3 .75-.1 .75 7 .75-5.7 .75-1.9 .75 4.2 .75-2.4 .75 1.8 .75-.7 .75 2.6 .75 1.1 .75-6.6 .75-1.4 .75 10.5 .75-8.5 .75-3.3 .75-1.3 .75 7 .75-2.3 .75-4.4 .75 3.3 .75-.5 .75 7.7 .75-2.8 .75-.9 .75-4.7 .75 4 .75 3.2 .75-1.9 .75 3.4 .75-3.7 .75 2.3 .75-.9 .75-3.8 .75 7.1 .75-3.6 .75 1.7 .75-7.1 .75-.1 .75 3.4 .75-2.3 .75 5.3 .75-.8 .75 3.1 .75-2.4 .75-6.4 .75 7.8 .75-6 .75-.3 .75 2.9 .75-.2 .75 3.9 .75 6.7 .75-9 .75 3.8 .75-6.2 .75 2.1 .75-3.2 .75 .3 .75 6.6 .75-3.3 .75 0 .75-4.7 .75 9.4 .75-7.1 .75-1.7 .75 2.3 .75 2.6 .75 .3 .75 2.7 .75-9.5 .75 2.3 .75 7.5 .75 2.6 .75-10.9 .75 2 .75-5.5 .75 2.7 .75-.2 .75 2.9 .75-4.1 .75 7.9 .75-3.7 .75-.8 .75 4.4 .75-4.5 .75-3.7 .75 4.8 .75 8 .75-7.8 .75 1.5 .75-2.7 .75-.1 .75 2.7 .75-11.8 .75 5.2 .75 2.4 .75 1.2 .75 6.4 .75 3.8 .75-6.9 .75-.9 .75 1 .75 3.1 .75-9.4 .75 1.9 .75 2.4 .75 .5 .75-8.3 .75 8.7 .75-7.6 .75 8.8 .75 .3 .75-11.7 .75 10.4 .75-1.2 .75-3.1 .75 5.9 .75 3.9 .75-5.7 .75-6 .75-1.3 .75 1 .75 .5 .75 8.1 .75-3.2 .75-1.2 .75 3.3 .75-3.2 .75 0 .75-3.3 .75 .8 .75 2.4 .75-4.5 .75 10.6 .75-5.8 .75-2.5 .75 5.7 .75-7.7 .75 7.9 .75-3.7 .75 6.8 .75-9.2 .75 .6 .75-1.8 .75-1.5 .75 5.6 .75-4.9 .75 5.1 .75-3.6 .75 6.4 .75-13.7 .75 11.2 .75-1.4 .75-.2 .75-2.5 .75 9 .75-8.2 .75 3.2 .75-2.7 .75-.3 .75 1.6 .75 2.2 .75-6.8 .75 2.4 .75-3.5 .75 6.8 .75-4.8 .75 .4 .75 5.2 .75-2.5 .75 1.6 .75-2.1 .75 2 .75-1.2 .75-4.6 .75 5 .75-2.2 .75 .4 .75 1.9 .75-3.2 .75-2 .75 8.4 .75 2.5 .75-8.4 .75 5.6 .75-3 .75-4 .75-.8 .75 2.1 .75-.7 .75 .4 .75 .7 .75-3.9 .75 7.5 .75-7.7 .75 .2 .75 7.5 .75-.7 .75 2.6 .75-5.1 .75-3 .75 6.8 .75-4.9 .75-.1 .75-2.9 .75 4.7 .75-10.7 .75 11.1 .75-9.8 .75 11 .75-9.4 .75 8.5 .75 6.8 .75-10.6 .75-3.5 .75 11.9 .75-9.3 .75-2.6 .75 9 .75-15.8 .75 5.1 .75 .6 .75 2.4 .75-5.3 .75 11 .75 .7 .75-4.3 .75-1.4 .75-4.5 .75 7.8 .75-4.6 .75 5 .75 1.5 .75-3.8 .75-8.5 .75 4.5 .75 8.9 .75-4.3 .75 4.4 .75-14.3 .75 8.2 .75-.3 .75-5.8 .75 3.8 .75 6.3 .75-1.8 .75-4.3 .75 3.3 .75 3.3 .75-8.9 .75 5.3 .75 2.9 .75-6.9 .75 7.8 .75-5.5 .75 4.6 .75-.7 .75-2.6 .75-2.2 .75-1.5"/>
<path stroke="#0000FF" d="M172.5,805.1l.75 .5 .75 11.9 .75-14.4 .75 4.6 .75 13.6 .75-12.9 .75 2 .75 12 .75-14.2 .75 3.8 .75 4.3 .75-7.7 .75-9 .75-2.6 .75 13.2 .75 13.8 .75-.4 .75 7 .75-6.1 .75-14.2 .75-6.7 .75 10.4 .75 3.8 .75-3.2 .75 17.7 .75-15 .75 14.9 .75 3.7 .75-22.7 .75 14.4 .75 17.8 .75-2.2 .75-5.3 .75-10.1 .75 5.6 .75 9.2 .75 12.9 .75-5.6 .75-3.8 .75 4.7 .75 6.8 .75-22.3 .75 8.9 .75 11.2 .75 12.7 .75 .2 .75-16.1 .75 8.9 .75-6 .75 4.5 .75 6.1 .75-3.6 .75-.8 .75-4.6 .75-2.9 .75 14.1 .75 4.6 .75 5 .75-12.3 .75 2 .75 19.4 .75-6.8 .75 5.4 .75-12.3 .75-.3 .75-3 .75 20.8 .75-18.5 .75-4.5 .75 10.1 .75 19.5 .75-10.3 .75 2.9 .75-.1 .75-.5 .75-.1 .75-10.3 .75 29 .75-15.6 .75 13.4 .75-24.2 .75 20.1 .75-14.7 .75 0 .75 15.1 .75 7.9 .75 4 .75 .6 .75-13.6 .75 10.5 .75-11.6 .75 1.4 .75 7.9 .75-2.4 .75 9.5 .75-23.2 .75 27.4 .75-14.6 .75 19.3 .75-2.2 .75-19.6 .75 10.7 .75 7.3 .75-12.1 .75 1.6 .75 5 .75 10.7 .75 2.9 .75-10 .75 12.8 .75 7.6 .75-2.8 .75-12.4 .75 1.1 .75 12 .75 6.7 .75-1.4 .75-5 .75-2.7 .75 20.8 .75-10.5 .75 18.8 .75-24.4 .75 8.3 .75-1.5 .75 22.3 .75-4.1 .75-13.8 .75-11.2 .75 27.2 .75-7.7 .75-9.7 .75-2.2 .75 17.1 .75-4.2 .75 4 .75 3.1 .75-5.5 .75 1.8 .75 8.8 .75-5.5 .75-.4 .75 8.6 .75-21 .75 27.8 .75-5.9 .75-9.3 .75 5.6 .75 12.3 .75-5 .75-18.8 .75 6.9 .75 10.5 .75 13.8 .75-7.9 .75-7.5 .75 7 .75-4.1 .75-2.1 .75 6.2 .75-20.3 .75 26.5 .75-3.4 .75-7.5 .75-2.9 .75-2.3 .75 12.7 .75-.4 .75 .8 .75 13.3 .75-31.4 .75 12.9 .75 .5 .75 15 .75-8.9 .75-4.6 .75 10.4 .75 2.6 .75 10.9 .75-10 .75-4.6 .75 .5 .75-1.4 .75 11.5 .75 3.7 .75-7.3 .75 1.8 .75 13.2 .75-9.3 .75 4.3 .75-11.7 .75 4.9 .75-11.3 .75 7.1 .75 14.7 .75 7.8 .75-11.3 .75-6.7 .75 10.7 .75 8.8 .75-9.9 .75 8.9 .75-7.3 .75-8.9 .75 2.9 .75 5.5 .75 20.5 .75-13 .75-6.1 .75 4.6 .75-.2 .75-4.7 .75 3.1 .75-.7 .75 8.3 .75 7 .75-1.4 .75-12.4 .75 7.3 .75-9.5 .75-2.4 .75 9.7 .75 4.6 .75-4.7 .75 7.4 .75 .5 .75 0 .75-6.6 .75-8.9 .75 25.1 .75-17.2 .75 10 .75-1.4 .75-5.8 .75 17.6 .75-8.2 .75-4.5 .75-2.3 .75-3.3 .75-1.4 .75 15.1 .75-6.8 .75 .9 .75 8.3 .75-5.6 .75 8.6 .75-8.9 .75 1.9 .75 11.9 .75-11.2 .75 10.7 .75 .2 .75-2.8 .75-11.6 .75 3.5 .75 2.6 .75-.4 .75 17.1 .75-12 .75-1.8 .75 6.5 .75 4 .75-10.7 .75 17.9 .75 1.9 .75-8.8 .75 11.4 .75-16.5 .75 8.4 .75 3.9 .75 2.7 .75 9 .75-9.9 .75-4 .75 10 .75 .6 .75 3.1 .75-4.7 .75 4.7 .75-4.4 .75 9.2 .75-7.9 .75 1.2 .75 13.8 .75-13 .75 6.3 .75 4.8 .75-5.6 .75 9.5 .75-9.9 .75 12.1 .75-17.7 .75 2.1 .75 10.8 .75 10.4 .75 2 .75-16.9 .75 6.6 .75-2.6 .75-11 .75 21 .75-7.1 .75 13 .75-7 .75-5.1 .75-.4 .75 4.3 .75 5.2 .75-5.8 .75 23.8 .75-17.3 .75-8.5 .75 9.4 .75 8.3 .75-4.1 .75-4.3 .75-1.4 .75 .1 .75-1.8 .75 5.6 .75 6.3 .75-4.8 .75 16 .75-7.6 .75-4.7 .75 3.8 .75 11.1 .75-20.7 .75 14.2 .75 17.5 .75-10.5 .75-12 .75 7.9 .75-1.6 .75 21.2 .75-22.5 .75 3.4 .75 .4 .75-6.6 .75-11.9 .75 21.2 .75 5.7 .75-5.6 .75 6.8 .75 2.4 .75 .3 .75-15.2 .75 22 .75-3.7 .75 .3 .75-4.6 .75 .6 .75-2.8 .75 7 .75 4 .75-9.2 .75 9.8 .75-7.8 .75 7.6 .75-4.2 .75 7.2 .75 7.5 .75-10.5 .75-4.1 .75 1 .75 7.4 .75-6.7 .75 10.1 .75-3.8 .75 4.5 .75-8.9 .75-2.1 .75 2 .75 7.9 .75-7.1 .75 10.1 .75-17.1 .75 9.5 .75 3.8 .75-10.1 .75 8.4 .75-5.1 .75 9.7 .75-.6 .75 6.9 .75-9.5 .75-4.4 .75 7.5 .75 4.9 .75 .3 .75 1.1 .75 7.3 .75-9.4 .75 1.5 .75-3.4 .75 2.2 .75 10.9 .75-3.7 .75-18.1 .75 24.6 .75-19.5 .75 10.5 .75 9.3 .75-4.7 .75 3.3 .75 2.6 .75-3 .75-9 .75 10.8 .75-5.9 .75-9.9 .75 14 .75 6 .75-1.9 .75 .2 .75 11.4 .75-8.1 .75 4.8 .75-2.8 .75 8.8 .75-11.5 .75 10.1 .75 4.6 .75-12.7 .75 9.1 .75-14.1 .75 10.5 .75 3 .75-9.1 .75-5.5 .75 11.5 .75-1.9 .75 3.4 .75 1 .75 3.6 .75 4.7 .75-6.5 .75-11.4 .75 13.6 .75-1.4 .75-1.1 .75 8.9 .75-7.5 .75-3.4 .75 5.3 .75-11.9 .75 15.6 .75-5 .75 10.1 .75-5.6 .75-1.4 .75-.7 .75-7.6 .75 6.9 .75 2.7 .75 4.5 .75-2.8 .75 2 .75 .4 .75-6.7 .75 5.4 .75-2.6 .75-5.7 .75-1 .75 14.1 .75 4 .75 .4 .75-12.8 .75 14.1 .75 .8 .75-13.1 .75 7.6 .75 7.5 .75-9 .75 6.7 .75-10.1 .75 1.9 .75 7.4 .75-5.7 .75 2 .75 .1 .75-6.2 .75 14.8 .75-9 .75-.8 .75-.4 .75 3.2 .75-5.4 .75 10.6 .75-6.6 .75 6.8 .75-9.3 .75-.5 .75 .9 .75 6.8 .75-8.5 .75 12.6 .75-6.4 .75 7.3 .75-6.9 .75 7 .75-10.1 .75-.1 .75 9.9 .75-6.2 .75 9.4 .75-9.6 .75 7.1 .75-7.2 .75-4.9 .75 18.2 .75-9 .75 7 .75-4.2 .75-10.3 .75 12.1 .75 4.2 .75 1.5 .75 2.2 .75-6.7 .75-2.5 .75 1.3 .75-6.6 .75 11 .75 .2 .75-1.8 .75-5.9 .75 8.2 .75-6.3 .75 10.4 .75-10 .75 .8 .75 1.4 .75-3.6 .75 1.1 .75 3.8 .75-11.8 .75 25 .75-8.6 .75-.1 .75-6.2 .75 6.3 .75-.8 .75 .9 .75-8.3 .75 7.8 .75-9.4 .75 9.6 .75-3.5 .75 1.9 .75 1.8 .75 6.7 .75 2.4 .75-6.2 .75-5.8 .75 14.3 .75-15.5 .75 5 .75 2.1 .75-2.5 .75 11.6 .75-4.8 .75 4 .75-7.2 .75 6.6 .75-5.2 .75 .3 .75 2.7 .75 .8 .75 1.3 .75-4 .75-6.7 .75 6.6 .75-12.5 .75 13.2 .75-2.7 .75 9 .75-18.8 .75 25.6 .75-12.4 .75-6.6 .75 11.1 .75 .5 .75-.2 .75 9.6 .75-15.9 .75 6.2 .75-.6 .75-4.3 .75 5.4 .75 5.4 .75-11.1 .75 7.1 .75 3.2 .75-1.7 .75-11.8 .75 10.2 .75-3.3 .75 8.8 .75-7 .75 11.3 .75-16.8 .75 9.5 .75-7.1 .75 14.3 .75-.9 .75-13 .75 9.1 .75-4 .75-8.1 .75 3.3 .75 6.2 .75 2.5 .75-4.5 .75 3.7 .75 .4 .75 0 .75-7.5 .75 7.2 .75 2.3 .75-10.5 .75 16.1 .75-.3 .75-6.7 .75 10.3 .75-15.1 .75-.7 .75 1.7 .75-.4 .75 13.5 .75-9.4 .75-.5 .75 2.3 .75 6.4 .75-7.4 .75-2.8 .75 3.4 .75 5.3 .75-7.7 .75 8.6 .75-5.8 .75-2.5 .75 3.6 .75 7.8 .75-11.6 .75 8.5 .75-4.2 .75-2 .75-.5 .75 4.1 .75-1 .75-1.2 .75 1.5 .75-7.8 .75 1.2 .75-1.8 .75 3.5 .75 .8 .75-.8 .75 4.8 .75-7.6 .75 3.7 .75 5.9 .75 4.3 .75-8.4 .75 6 .75 1 .75-12.3 .75 6.6 .75-6.7 .75 3.5 .75 4.2 .75-8.6 .75 9.4 .75-3.4 .75-.4 .75 4.1 .75-7 .75-4.4 .75 9 .75-3.8 .75 2.7 .75-4.5 .75 .9 .75-.4 .75-1.2 .75 2.4 .75 .3 .75 4.2 .75 16.2 .75-19.4 .75-4.9 .75 11.2 .75-9.2 .75 1.8 .75 2.9 .75 2.1 .75 .2 .75 .9 .75-1.7 .75 6.3 .75-1.3 .75-7 .75 1.8 .75-5.8 .75 10.4 .75-4.3 .75 10.9 .75-13.1 .75 11.3 .75-12.4 .75-3.8 .75 4.3 .75 6.2 .75 3.6 .75-9.6 .75 9.5 .75-7.5 .75 .1 .75 1.2 .75 10 .75-7.3 .75 .7 .75-9.2 .75 8.6 .75 .7 .75 7 .75-12.6 .75 .9 .75-1 .75 1.5 .75 6.8 .75-7.4 .75 10.6 .75-6.2 .75-4.7 .75 1.4 .75-3.5 .75-.3 .75 13.2 .75-1.3 .75-9.3 .75 2.8 .75 10.4 .75-11.7 .75 4.9 .75 1.5 .75-3.6 .75 .1 .75-.7 .75 2.4 .75-8.5 .75 8.2 .75 .7 .75-7.6 .75 9 .75-6.9 .75-8.5 .75 3.5 .75 10.3 .75 2.3 .75-4.9 .75-5.1 .75 6.5 .75 5.5 .75-4.8 .75-7.2 .75 9.8 .75-3.3 .75 .2 .75 1.2 .75 2.5 .75-3.3 .75-4.3 .75 4.4 .75 1.2 .75 5.3 .75-12 .75 5.5 .75-3.7 .75 5.8 .75-4.1 .75-12.7 .75 20.3 .75-8.1 .75-2.2 .75-2.1 .75 2.2 .75-1.3 .75 5.7 .75 1.4 .75-1.2 .75 2.1 .75-6.1 .75 7.1 .75-3.7 .75 2.7 .75 .7 .75-5.1 .75 8 .75-2.3 .75-6.2 .75 10.8 .75-.5 .75-16.3 .75-3.7 .75 8.1 .75 5.4 .75 2.2 .75-1.5 .75-3.5 .75 4.9 .75-1.4 .75-6 .75 3.1 .75 4.3 .75-8.7 .75-.1 .75-1.1 .75 11.5 .75-4.1 .75 .8 .75-6.3 .75 1.6 .75 6.2 .75-7.7 .75 7.4 .75-6.2 .75-.1 .75 2.9 .75 1.5 .75 4.5 .75-10.6 .75 10.3 .75-12.4 .75-.5 .75-7 .75 15.6 .75 3.2 .75-13.6 .75 4.5 .75 .3 .75-6.6 .75 8.3 .75 1.2 .75-4.1 .75-2.6 .75 5.8 .75 2.4 .75-10.2 .75 6.6 .75 3.4 .75-17.1 .75 15.9 .75 7.1 .75-15.3 .75 13.2 .75-8.1 .75 4.5 .75-3.9 .75-4.9 .75-2.9 .75 20.8 .75-18.9 .75 5.4 .75 8.6 .75-5.7 .75-.7 .75-11.1 .75 7 .75-3.7 .75-2.4 .75 10.8 .75 2.3 .75-8.3 .75 .5 .75 5.3 .75 2.2 .75-10 .75 11.2 .75-1.4 .75-4.9 .75-5.8 .75 8.4 .75 .5 .75 5.3 .75-12.2 .75 11 .75-10.1 .75 4.4 .75-3.4 .75 .8 .75 7 .75-11.2 .75 7.6 .75-5.8 .75 1.1 .75-3.7 .75 4.6 .75-11.5 .75 8.8 .75 6.4 .75-1 .75-12.9 .75 2.5 .75 3.5 .75 11.7 .75-12.1 .75 2.1 .75-1.4 .75 2.8 .75-6.4 .75 6.1 .75 1.1 .75 3 .75-9.9 .75 9.3 .75 5.4 .75-5.8 .75-.4 .75-16.1 .75 19.7 .75 3.1 .75-3.5 .75-3.6 .75 1.8 .75 11.4 .75-19.1 .75 1.7 .75 7.9 .75-4.3 .75-12.4 .75 12.5 .75 .7 .75-6.5 .75 6.9 .75-.6 .75-10.5 .75 12.2 .75 8.6 .75-2 .75-14.8 .75-.9 .75 7.3 .75 1.2 .75-8.3 .75 3.3 .75 11 .75-5.7 .75 4.2 .75-5.5 .75 5.6 .75-8 .75 .1 .75-2.2 .75-5.1 .75 7.8 .75-5 .75 4.5 .75 3.1 .75 0 .75 1 .75-4.2 .75 1.7 .75 6.2 .75-7 .75 .9 .75-13 .75 6.9 .75 11.3 .75-10.3 .75-1.3 .75 10.6 .75-11.6 .75 11.5 .75-5.8 .75-2.9 .75-7.6 .75 17.6 .75-16.6 .75 3 .75 10.4 .75-10.7 .75 9 .75-2.9 .75-1.4 .75-4.2 .75 1.9 .75 4.9 .75-6.8 .75 8.4 .75-2.2 .75 1.5 .75-1.7 .75 1.6 .75-1 .75 2.2 .75-2.4 .75-.4 .75-6.6 .75-4.4 .75 9.3 .75 4.7 .75-10 .75-3.6 .75 5.5 .75 4.7 .75 2.5 .75-6.3 .75-4.6 .75 5.8 .75 3.9 .75-4 .75 5.6 .75-8.1 .75 7.2 .75 4 .75-14 .75 .6 .75 7.9 .75 13.1 .75-14 .75-2.9 .75 7 .75-7.6 .75-8 .75 3.4 .75 12.2 .75-16.2 .75 1.3 .75 11.8 .75-3.6 .75 5.5 .75-12.1 .75 1.7 .75 2 .75-4.8 .75 5.3 .75 .3 .75 5.5 .75-5 .75-1.7 .75 4.8 .75 3.3 .75-.3 .75-4 .75-3.5 .75-.4 .75-4.4 .75 7.3 .75-.4 .75 8.9 .75-7.6 .75 2.9 .75 3 .75-16.9 .75 6.6 .75 2.2 .75 1.9 .75-6.6 .75 10.6 .75 .3 .75-2.1 .75 1 .75-9.4 .75 11.9 .75-9.3 .75-6.7 .75 10.7 .75 1.6 .75-5.8 .75-5.1 .75 2.7 .75 5.3 .75-12.6 .75 19 .75-.2 .75-6.2 .75 6.6 .75-6.5 .75-5.2 .75 9.4 .75-.5 .75-7.9 .75-2.7 .75 2.2 .75 11.4 .75-7.9 .75 16.5 .75-18.5 .75 6.6 .75-1.6 .75-3 .75 5.6 .75-9.1 .75 4.2 .75-6 .75-5.5 .75 11.9 .75-6.5 .75-.9 .75 10 .75-4.1 .75 2.9 .75 7.1 .75-8.4 .75 1.4 .75-8.9 .75 10.8 .75 0 .75-10.2 .75 9 .75-1.9 .75-2.9 .75 1.5 .75 12.5 .75-16.5 .75 1.6 .75 2.2 .75-1.5 .75-8.9 .75 13.2 .75 1.4 .75 4.3 .75-12.4 .75-3.7 .75 10.2 .75-9.1 .75 5.5 .75-2.2 .75 3.1 .75-3.4 .75 6.1 .75-8.7 .75 17.7 .75-8.7 .75-7.6 .75-1.8 .75 4.1 .75-1.5 .75-2 .75 11.9 .75-2.3 .75-11.1 .75 8.8 .75-2.9 .75 4 .75-7.8 .75 15 .75-11.1 .75 10.3 .75-13.3 .75 9.8 .75-7.9 .75 9.5 .75-10 .75-4.8 .75 0 .75 2.3 .75 6.6 .75-1.2 .75-1.4 .75 5 .75 3.1 .75-14.3 .75 10.9 .75 7 .75-15.8 .75 .3 .75 5.2 .75-.9 .75-4.2 .75 2.6 .75 9 .75-3.7 .75-9.3 .75-4.9 .75 3.3 .75 6.9 .75-5.2 .75-.3 .75 8.4 .75-5.4 .75-.5 .75 3.2 .75 6.7 .75-6.2 .75 2.1 .75-3.3 .75 7.9 .75-15 .75 .6 .75 3.3 .75 13.7 .75-2.6 .75-14.3 .75 3.5 .75 5.4 .75-2.6 .75 4.4 .75-7.4 .75-6.3 .75 12.3 .75 3.4 .75-15.1 .75-1.9 .75 7.7 .75-7.7 .75 12.3 .75-8.7 .75 10.2 .75-5.9 .75 2.4 .75 2.8 .75-4.8 .75-4.4 .75 10.3 .75-13 .75 15.5 .75-11 .75 .3 .75 4.9 .75 0 .75 .4 .75-10.8 .75 3.1 .75 6.6 .75 0 .75-2.6 .75 7.5 .75-8.1 .75 6 .75 .7 .75-4.1 .75-3 .75 5 .75-1.5 .75 1.1 .75-7.9 .75 7.6 .75 6.5 .75-9.6 .75 2.9 .75-1.3 .75 6.7 .75-15.1 .75 20.2 .75-5.1 .75-3.4 .75 3.3 .75 5.1 .75-3.5 .75 2.1 .75 3.4 .75-4.9 .75 3.5 .75 4.4 .75-4.3 .75-5.7 .75 7.8 .75 7.2 .75-11.8 .75 4.5 .75 .4 .75 2.9 .75-6.2 .75 2.5 .75 10.7 .75-6.1 .75-6.3 .75 7.6 .75-3.3 .75 8 .75-15.8 .75 9.2 .75 4.8 .75-11.1 .75 3.1 .75 6.6 .75-1.9 .75-1.3 .75 3.4 .75-8.2 .75 3.2 .75 13.3 .75-11.6 .75 5.8 .75-2.2 .75 4.9 .75-2.4 .75 .6 .75 4.1 .75-4.1 .75-9.9 .75 5.4 .75 10.5 .75-1.6 .75-6.3 .75-6.7 .75 4.6 .75 14 .75-4.2 .75 .2 .75-13.9 .75 1.4 .75 4 .75-3.7 .75 7.5 .75-5.9 .75 8 .75-3.3 .75-1.6 .75 6.2 .75-.9 .75-1.4 .75-2.3 .75 1.7 .75-9.1 .75 0 .75 6.5 .75 4.1 .75 8.2 .75-6.6 .75-6.7 .75 2.7 .75-3.7 .75 6.1 .75-.1 .75 .4 .75 1.6 .75 3.9 .75-1.7 .75-8.9 .75 9.8 .75-9.1 .75 6.9 .75-1.4 .75 7.7 .75-8.7 .75 .1 .75-.9 .75 5.5 .75-2.7 .75-2.8 .75 5.4 .75 6.2 .75-2.3 .75-.6 .75-10 .75 2.2 .75 1.2 .75-9.1 .75 16.8 .75-15.5 .75 9 .75-8 .75 6.7 .75 3.4 .75-1.5 .75-6.7 .75 1 .75 7.7 .75-4.8 .75 .8 .75 4 .75-16.8 .75 13.5 .75 4.9 .75 2.6 .75-5.4 .75-7 .75 8.3 .75 4.3 .75-12.4 .75-.5 .75 2.6 .75-1.5 .75-8.1 .75-1.8 .75 4.9 .75 3.1 .75 5 .75-5 .75 3.3 .75 5.6 .75 7.8 .75-10.7 .75-9.3 .75 9.5 .75-5.2 .75 1.5 .75 2.9 .75-1.2 .75-10.5 .75 .6 .75 6.7 .75 2 .75 6.7 .75-7.7 .75-5 .75-.9 .75-1.3 .75-3.1 .75-.3 .75 3.5 .75 3 .75-4.5 .75 3.6 .75-1.7 .75 .1 .75-1.3 .75 3.4 .75-1.5 .75-13.6 .75 14.4 .75-.9 .75-3.7 .75 3.7 .75-4.4 .75 4 .75-5.1 .75 7.7 .75-1.8 .75-9.1 .75 3.6 .75 7 .75-1.6 .75-1.5 .75-6.5 .75 2.2 .75 4.2 .75 .6 .75-1.7 .75-4.2 .75 3 .75-1.4 .75-3.5 .75 .3 .75 1.3 .75-3.5 .75 9.8 .75 1.5 .75 .5 .75-8.5 .75 .1 .75 4.9 .75-3.6 .75 .7 .75 0 .75-6.5 .75 14.5 .75-13.4 .75-.6 .75 12.2 .75-9.2 .75 11.2 .75-3.3 .75 .4 .75-3.3 .75-4.8 .75 1.5 .75 6.8 .75-.7 .75-5 .75 .7 .75 1.7 .75 4.4 .75 2.8 .75 2.7 .75-5.9 .75 9.3 .75-3.2 .75 4.2 .75-11.2 .75 7.6 .75 2.9 .75-13.5 .75 13.6 .75-2.1 .75 2.9 .75-3.1 .75 5.1 .75-7.1 .75 0 .75 6.4 .75 .5 .75-9.5 .75 12.6 .75 .3 .75-.2 .75-8 .75 9.9 .75-3.1 .75 2.3 .75-4.3 .75-1.4 .75-1 .75 .7 .75 7.5 .75-7.6 .75 1.1 .75 4.7 .75-2.5 .75-8.1 .75 6.9 .75 1.7 .75 9.5 .75-4.2 .75-7.4 .75-.2 .75 3.3 .75 3.5 .75-4.5 .75 5.9 .75-8.3 .75 8.3 .75 4.1 .75-17.6 .75 12.3 .75 1.5 .75 1.1 .75-1.5 .75-.6 .75 1.7 .75-.6 .75 .1 .75 6.9 .75-2.3 .75-.4 .75-7 .75 .8 .75 7.2 .75-9.6 .75 9.5 .75-10.8 .75 15.8 .75-4.3 .75-8.4 .75 .1 .75-7.6 .75 8.8 .75 5.4 .75-3.1 .75-4.3 .75 10.3 .75-7.3 .75-1.1 .75-3.6 .75 3.7 .75 9.1 .75-10.5 .75-10.2 .75 8.4 .75 7.5 .75-3.7 .75-8.4 .75 3.7 .75-9 .75 9.5 .75-7.5 .75 1.2 .75-.6 .75-1.1 .75 11 .75-1.5 .75-8.8 .75 1.5 .75 7.1 .75-9.8 .75-1.1 .75-2.3 .75 11.3 .75-6.8 .75-.8 .75-1.9 .75-1.9 .75 9.5 .75-7.4 .75 2.2 .75-4.5 .75 3.9 .75 3.9 .75 1.3 .75-3.6 .75 5.3 .75 3.4 .75-10.4 .75 15.8 .75-2.9 .75-3.8 .75 5.9 .75 4.2 .75-1 .75 1.1 .75 .8 .75 3.8 .75-8.1 .75 4.2 .75 5 .75-1 .75-4.3 .75 3.9 .75-1.4 .75 3.6 .75-7 .75 .6 .75 1.2 .75 6 .75 11.7 .75-6.1 .75 1.4 .75-4.8 .75 7.2 .75-5 .75-.9 .75 4.7 .75-9.5 .75-3.9 .75 4.6 .75 11.4 .75-2 .75-2.8 .75-1.6 .75 .4 .75 2.6 .75-5.2 .75 7.1 .75-7.3 .75 10 .75-7 .75-2.3 .75 2.8 .75-2.5 .75 3.5 .75-6.9 .75 5.7 .75 2.5 .75 1.5 .75-3.1 .75 7 .75-12.1 .75 6.4 .75-.9 .75 2.2 .75-.9 .75 7.2 .75-5.6 .75-3.7 .75 14.6 .75-10.1 .75-.6 .75 4.6 .75-6 .75 1.8 .75 4.8 .75-8.3 .75 3.3 .75 6 .75 3.8 .75-7.6 .75 .1 .75 5.2 .75-10.4 .75 3.4 .75-.1 .75-5 .75-3.3 .75 10.5 .75 5.7 .75-.8 .75 2.7 .75-16.2 .75 10.8 .75 6.3 .75-8.8 .75-1.5 .75 7 .75-1.2 .75 2.8 .75-2.5 .75 5.3 .75-2.1 .75-1.6 .75-2.5 .75 4.6 .75-5.5 .75 6.7 .75 .8 .75-.7 .75-9 .75 7.1 .75-.2 .75 2.1 .75-9.8 .75 4 .75 2.2 .75 6 .75-8 .75 6.1 .75-2.9 .75 7.3 .75-6.4 .75-7.8 .75 5.5 .75 2.2 .75 4.2 .75-2.4 .75-3.8 .75-3.9 .75 5.4 .75-.6 .75 6 .75-1.6 .75-9.3 .75-3.7 .75 7.8 .75 2.9 .75-5 .75 1.9 .75 7 .75-1.7 .75-9.9 .75 8.4 .75-.7 .75-1.3 .75 3.1 .75 .2 .75 7.7 .75-9 .75-3.8 .75 1 .75 5 .75 5 .75-5.3 .75-.2 .75-1 .75-2.8 .75 2.2 .75-5.1 .75 7.9 .75-1 .75-1.1 .75-4.1 .75 2.4 .75-1.2 .75 3.6 .75-2.4 .75 2.6 .75 2.3 .75 1.4 .75-9.2 .75 2.8 .75-3.1 .75 9.4 .75-8.4 .75 8.8 .75-7.4 .75 6.1 .75-6.3 .75 1.3 .75 1.4 .75-.1 .75-.9 .75 3.2 .75 2.2 .75-1.3 .75-5.4 .75-5.4 .75 7.9 .75-11.7 .75 14.1 .75-.1 .75-7.3 .75 7.3 .75-4.9 .75 7.7 .75-8 .75-.2 .75 .8 .75 3.6 .75-5 .75 13.2 .75-10.4 .75 8.5 .75-8.1 .75-.2 .75-1.6 .75-.3 .75 4.7 .75 2.8 .75-4.5 .75-4.2 .75 4.2 .75-4.3 .75-7.8 .75 11.1 .75-7.8 .75 4.3 .75 2.5 .75-2.1 .75 .4 .75 7.1 .75-2.7 .75 2.1 .75-5.6 .75-.2 .75 5.9 .75-10.2 .75 3.5 .75-1.3 .75 .1 .75 .7 .75-2.5 .75 2.3 .75-7.5 .75 5 .75-7 .75 8.2 .75-1 .75-5.6 .75-1.8 .75 1.4 .75 1.8 .75-9.3 .75 1.5 .75 7.6 .75-5.7 .75-5.3 .75-4.9 .75 6.8 .75-6.6 .75 7.2 .75-1.9 .75 7.3 .75-14.5 .75 7.2 .75-9.2 .75-.3 .75 2.6 .75-3.9 .75 10.9 .75-9.5 .75-4.2 .75 12.9 .75-15.2 .75 .9 .75-.3 .75-3.6 .75 5.4 .75 1.8 .75-12.5 .75 2.8 .75-.3 .75-5.7 .75-.5 .75 3.6 .75-3.3 .75 4.9 .75 1.6 .75-3.8 .75-.4 .75-6.6 .75 .7 .75 3.9 .75 .1 .75-4 .75 2.3 .75-4.7 .75-5.2 .75 6.5 .75-4.2 .75-6.9 .75 11.9 .75-2.7 .75 1.2 .75-6.3 .75 9.2 .75-5.3 .75 2.2 .75-8.2 .75 1.7 .75 8 .75-6.2 .75 .6 .75 7.7 .75-1.2 .75-3.9 .75 8.7 .75-15.9 .75 7.5 .75-1.8 .75 10.5 .75 1 .75-9.3 .75 3.6 .75 4.4 .75-1.4 .75-.6 .75 4.1 .75 5.1 .75-8.1 .75-5.2 .75 5.3 .75 1 .75-1 .75 5.6 .75 .8 .75 1.4 .75-1.5 .75-.4 .75-5.5 .75 3.6 .75-2 .75 5.8 .75-1.8 .75 .6 .75 2.8 .75-3.6 .75 6.4 .75 .1 .75-9 .75 10.5 .75-7.5 .75-1.6 .75 2.1 .75-4.3 .75 7.6 .75 4.1 .75-12.3 .75 9.1 .75 1 .75 .7 .75 .4 .75-.3 .75-3.4 .75 6.9 .75-1.7 .75 3 .75-1.2 .75-1.6 .75 2 .75 3.9 .75 2.9 .75-11.8 .75 4 .75-.3 .75 6 .75 .8 .75 5.1 .75-.8 .75 8.3 .75-6.8 .75 .9 .75 .8 .75 3.3 .75 2.9 .75-1.7 .75-.9 .75-1 .75 7.1 .75-2.2 .75-1 .75 3.6 .75 3.2 .75 7.6 .75-1 .75-9.2 .75 2.5 .75-5.2 .75 .8 .75 1.2 .75 11.4 .75-3.5 .75-4.4 .75 3.6 .75 1.2 .75-.1 .75 8.5 .75-12.6 .75 6 .75 3 .75 1.2 .75-9.8 .75 9.3 .75-5.2 .75 2.9 .75-3.5 .75 9.2 .75 9.1 .75-7.6 .75-4.7 .75-5.1 .75 10.1 .75 1.5 .75-8.4 .75 7.9 .75-10.1 .75 2.1 .75 5.5 .75-5.7 .75 8.1 .75 2.6 .75-5 .75 1.7 .75 4.2 .75-3.9 .75 3 .75 .5 .75-9.1 .75 12.1 .75-3.7 .75-3.7 .75 2.6 .75-1.8 .75-.3 .75-4.4 .75 2.3 .75 .3 .75 5.3 .75-2.2 .75-.1 .75-1.9 .75 5.2 .75-13.6 .75 5.7 .75 6.9 .75-4.9 .75 4 .75 3.5 .75-2.8 .75-8.3 .75 4.7 .75-3.3 .75 6 .75 2.1 .75-4.6 .75 2.8 .75-2.5 .75 7.8 .75-6.5 .75 .4 .75 1.3 .75 1.8 .75-1.3 .75-2.6 .75 .4 .75 1.7 .75 .3 .75-3.5 .75-.7 .75 1.3 .75 2.6 .75-3.3 .75-2.2 .75 2.7 .75-.5 .75 4 .75-4 .75 .4 .75 8.3 .75-5.1 .75-5 .75 7.8 .75-5.7 .75-1.5 .75 5.3 .75-7.4 .75 4.9 .75 2.3 .75 .7 .75-4.6 .75 .2 .75 1.5 .75 4.7 .75-10.8 .75 9.5 .75-1.9 .75 3.9 .75-8.9 .75 8.2 .75-7.3 .75 4.3 .75-2.5 .75-7.5 .75 8.7 .75 1.6 .75 1.7 .75-5.4 .75-1.9 .75 6.8 .75-3.9 .75 5.1 .75 1.4 .75-6 .75 .2 .75-2 .75-4.7 .75 7.3 .75 2.6 .75 1.2 .75-3.9 .75 6.8 .75-8.6 .75 1.8 .75-1.9 .75 .4 .75 .6 .75-1.5 .75 1 .75 2.5 .75-.6 .75-4.2 .75 5.7 .75-4.8 .75 4.6 .75-1.4 .75-7.2 .75 3.2 .75 7.2 .75-5.8 .75 0 .75 .8 .75 2 .75 1.7 .75-3.2 .75 7.2 .75-8.1 .75 .4 .75 1 .75 1.3 .75 4.7 .75 3.3 .75-9.8 .75 .7 .75 2.9 .75-2.7 .75 3.6 .75-7 .75 7 .75-11 .75 9.9 .75 .5 .75 6.6 .75-12.3 .75 5.9 .75-.2 .75-5.7 .75 4.3 .75-3.9 .75-1.2 .75-1.2 .75 4.7 .75-3 .75-3.7 .75 8.6 .75-7.3 .75 8.8 .75-1.6 .75-3.9 .75-2.7 .75 2.4 .75-1.5 .75 3.5 .75 .1 .75 10.3 .75-16.6 .75 5.5 .75 4.2 .75 1.8 .75 1.1 .75-8.4 .75 6.5 .75-13.4 .75 9.7 .75 4 .75-.5 .75-7.8 .75 2.2 .75-4.9 .75 5.2 .75-2.3 .75 6.1 .75-3.8 .75 5 .75-2.6 .75-.8 .75 7.7 .75-2.1 .75-9.1 .75 9.9 .75-2.2 .75 2.1 .75-3.2 .75-8.3 .75 5.3 .75-7.5 .75 3.8 .75 2.6 .75 7.2 .75-4.5 .75 .7 .75 1.9 .75-6 .75 7.4 .75-3.2 .75-4.3 .75 1.4 .75 1.3 .75 3.1 .75 3 .75-6.3 .75 .3 .75 7.5 .75 5.1 .75-5 .75-5.9 .75-2 .75 3.8 .75-1.4 .75-4 .75 8 .75 4.3 .75-12.4 .75 .3 .75 1 .75-2.7 .75 7.6 .75-8.2 .75 7.7 .75-.9 .75 1.3 .75-8.2 .75 6 .75 .5 .75 2.3 .75-1.9 .75-3.5 .75 6.4 .75 .9 .75-.1 .75-7.7 .75 4.8 .75-5.3 .75 2.7 .75 3.5 .75-8.1 .75 15.6 .75-5.7 .75-7.3 .75 .7 .75 1.9 .75-.3 .75-3.9 .75 4 .75-5.2 .75 3.5 .75 8.9 .75-6.8 .75-1.2 .75 7.3 .75-4.6 .75 1.1 .75-4.4 .75 6.2 .75-5.2 .75 4.4 .75-.8 .75 4 .75-2.6 .75-3.7 .75-3.9 .75 2.9 .75-1.5 .75 8.3 .75-7.3 .75-6.8 .75 9.9 .75 1.6 .75-6.3 .75 6 .75-7.5 .75 5.8 .75-1.5 .75 1.8 .75 .4 .75-4 .75 5.5 .75-4.8 .75 2.3 .75 4.8 .75-8.6 .75 3.7 .75 5.7 .75-1.2 .75-7.2 .75 .3 .75 4.3 .75-4.4 .75 2.7 .75-5.3 .75 7.4 .75-8.2 .75 6.4 .75 2.1 .75-5 .75-3.3 .75 1.1 .75-2.4 .75 13.7 .75-13.8 .75 2.4 .75 5.9 .75-1 .75 3.6 .75 1.1 .75-3.3 .75-1.9 .75-1.8 .75 1.4 .75 4.1 .75-1.2 .75 0 .75-8.5 .75 3.3 .75 .3 .75 .5 .75-1.9 .75 6.5 .75 1.4 .75 2.8 .75-8.8 .75 1.6 .75 .7 .75-.4 .75-3.1 .75 6.1 .75-10.5 .75 5.7 .75-5.3 .75 9.4 .75-7.5 .75 .9 .75 4.2 .75-3.8 .75 4.7 .75-2.3 .75 8.7 .75-11.9 .75 1.5 .75 5.2 .75-1.7 .75 1.2 .75-2.8 .75 4.6 .75-2.2 .75 3.6 .75-10 .75 6 .75-1.8 .75 2.3 .75-5 .75 6.5 .75-8 .75 8.3 .75-1.3 .75-8.8 .75 8.2 .75-8.7 .75 9.3 .75-8.1 .75 5.7 .75-.7 .75-5.1 .75-.9 .75 8.8 .75-3.7 .75 5.9 .75-4.3 .75 10.5 .75-9.6 .75 5.9 .75-5.3 .75-1 .75 1.7 .75-4.9 .75 .4 .75 8.6 .75-6.9 .75-3.6 .75 6.2 .75-5 .75 3.4 .75 3.9 .75 .6 .75 2 .75-2.4 .75-2 .75-.4 .75-.9 .75-1.3 .75 8.7 .75-8.9 .75 6.6 .75-6.7 .75 5 .75-15.3 .75 11.3 .75-3 .75 8.3 .75-.3 .75-8 .75 2.1 .75 3.7 .75-2.3 .75-.8 .75 3.3 .75-8.6 .75 11 .75-4.4 .75-12.6 .75 7.4 .75 3.1 .75 8.9 .75-8.6 .75-5.7 .75 10.8 .75-3.6 .75-1.6 .75 4 .75-5.4 .75 1 .75 4.2 .75-2.2 .75 2 .75-5.1 .75 7.8 .75-11.8 .75 .2 .75 7.1 .75-3.1 .75 1.9 .75-.7 .75-.7 .75-3.4 .75 5.1 .75 3.8 .75-8.2 .75 10.3 .75-1.2 .75-9.2 .75 6.3 .75-7.2 .75 3.6 .75-3.7 .75 2.1 .75-5 .75 6.4 .75-3.4 .75 .5 .75-4 .75 7.5 .75 7 .75-8.6 .75 .8 .75-3.7 .75 2.5 .75-1.5 .75-2.7 .75 2.5 .75 1.4 .75 3.1 .75-2.5 .75 2.3 .75 3.8 .75-1.4 .75-5.1 .75-5.2 .75 6 .75 1 .75 3.4 .75-3.3 .75 10 .75-11.8 .75 3.7 .75-6 .75-.3 .75 2.6 .75 1.9 .75 1.8 .75-14.6 .75 16.2 .75 1.4 .75-.6 .75-1.9 .75-3.8 .75 2.6 .75 2.7 .75-8.6 .75 6.2 .75-.6 .75-2.5 .75 7.3 .75-9.5 .75-1.1 .75 3.6 .75-2.3 .75 7.5 .75-11.5 .75 1.3 .75 6.2 .75 1.6 .75-7.4 .75 9.4 .75-12.2 .75 11.2 .75-7.4 .75 1.6 .75 8.6 .75-7.1 .75-2.3 .75 3.3 .75 6.3 .75-7 .75-3.3 .75 3.7 .75-5.6 .75 2.1 .75 .3 .75 4.6 .75-4.4 .75 3.6 .75 2.5 .75 1.6 .75-12.6 .75 6.2 .75-4.3 .75 6.8 .75-1.5 .75-1.1 .75-2.1 .75-1.7 .75-2.9 .75 10.1 .75-4.5 .75 .8 .75 1.1 .75 1.7 .75 4.1 .75-8 .75 3.2 .75-8.9 .75 4.7 .75-1.3 .75 .3 .75 6.8 .75-4.1 .75-.3 .75 0 .75-1.2 .75-.1 .75-1.7 .75 .4 .75 .3 .75 .9 .75-6.6 .75 7.4 .75-.4 .75 1.6 .75-5.9 .75 .6 .75 6.6 .75-5.9 .75 4.5 .75-4.5 .75-2.1 .75-1 .75 3.2 .75 .4 .75-3 .75 10.2 .75-5.5 .75-3.6 .75 9.2 .75-2.7 .75-6.2 .75-1.1 .75 3.2 .75 3.5 .75-8.3 .75 9.8 .75-6 .75 4.6 .75-3.8 .75 2.3 .75 .6 .75 2.4 .75-7.8 .75 10 .75-12.3 .75 6.1 .75 1.4 .75-2.6 .75 3.4 .75-9.7 .75 6"/>
<path stroke="#FF0000" d="M172.5,897.7l.75-9.6 .75-10.9 .75 12.7 .75 .6 .75-11.2 .75 23.3 .75-17.7 .75-4.2 .75 11.9 .75-6.8 .75 5.3 .75 4.9 .75-5.6 .75 10.6 .75-2.1 .75 9.7 .75-20.8 .75 11.2 .75 2.7 .75 1.2 .75-22.3 .75 11.2 .75 14.7 .75 3.6 .75-4 .75 2.8 .75 11.4 .75-13.9 .75-2.6 .75 23.2 .75-7.1 .75-6.1 .75-3.9 .75 23.7 .75-16.7 .75-3.8 .75 21.3 .75-24.8 .75 14 .75 8.8 .75-7.3 .75-.8 .75 10.5 .75-14.3 .75 10.9 .75 10.3 .75-15.8 .75 24.9 .75-13.6 .75 2.8 .75-2.3 .75 11.4 .75-8.4 .75 8.1 .75 11.1 .75 1.5 .75-24.4 .75 28.2 .75-15.6 .75 8.9 .75-.4 .75 3.1 .75-6.6 .75 12.4 .75 5.5 .75-13.2 .75 6.7 .75 9 .75 3.9 .75-5.5 .75 .8 .75 3.2 .75-6.3 .75 7.3 .75-4.4 .75 .5 .75-17.2 .75 6.1 .75 20.7 .75 4.5 .75-1.7 .75-2.1 .75-2.6 .75 8.9 .75-7.7 .75 4.6 .75 14.6 .75-24.9 .75 8.2 .75 4.2 .75-13.9 .75 7.5 .75 21.2 .75-3.8 .75-4.8 .75 13.9 .75-19.3 .75 26.8 .75-16.5 .75-3.7 .75 16.1 .75-4 .75-1.7 .75-1.8 .75-13.8 .75-1.3 .75 19.4 .75 9.5 .75-14.3 .75 8.8 .75-13.4 .75 1.7 .75 13.6 .75 7.7 .75 1.5 .75 5.1 .75-16.4 .75 6.6 .75 9.3 .75-14.7 .75 7.2 .75 3.6 .75 .8 .75 8.6 .75-3.1 .75-6.6 .75-15.4 .75 27.7 .75 2.6 .75-3.4 .75-.5 .75 1.6 .75 7.4 .75-14 .75 4.7 .75-7.2 .75 7.5 .75-4.3 .75 .8 .75-9.1 .75 16.9 .75 10.3 .75-33.3 .75 37.2 .75-10.2 .75-4.6 .75 9.3 .75-3.7 .75 2.5 .75 13.7 .75-9.5 .75 2.7 .75-4.3 .75 1.9 .75-5.1 .75 7.7 .75-4.4 .75 17.2 .75-10.4 .75 9.1 .75 5.7 .75-1.1 .75-13.1 .75 20.6 .75-28.5 .75 28.6 .75-31.6 .75 14.4 .75 7.9 .75-4.2 .75-10.6 .75 6 .75 15.2 .75-15.3 .75 20 .75 4.9 .75 2.4 .75-8.3 .75-1.7 .75-2.2 .75 26.5 .75-12 .75-3.9 .75-1.7 .75 6.8 .75-23.7 .75 23.3 .75-11 .75-13.4 .75 28.4 .75-14.4 .75 10.5 .75-8.7 .75 3.5 .75 17.1 .75-9.4 .75 1.5 .75-14.7 .75 21.1 .75-11.2 .75 10.2 .75-10.6 .75 12.4 .75 2.7 .75-14.7 .75 15.5 .75-8.3 .75 18.1 .75-5.7 .75-1.4 .75 24.6 .75-16.4 .75-8.7 .75 10.8 .75-3.8 .75 9.2 .75-17.6 .75 24.1 .75-18.6 .75 1.9 .75-2 .75 4.2 .75 18.1 .75-12.6 .75-8.9 .75 7.9 .75 4 .75 6.3 .75-9.1 .75 4.8 .75 22 .75-22.9 .75 2.6 .75-9.4 .75 17.2 .75-10.3 .75 18.4 .75-4.4 .75-2.6 .75-9.6 .75 1.7 .75 .2 .75 4 .75-2.9 .75-1 .75 5.4 .75-.5 .75-2.3 .75 10.3 .75 1.5 .75-11.8 .75 21.1 .75-13 .75 6.9 .75 5.4 .75-24.6 .75 15.1 .75 3.7 .75 2.7 .75-2.5 .75 2.3 .75-18.4 .75 5 .75 12.3 .75-18.9 .75 12.1 .75 3.5 .75 5.1 .75 4.8 .75-4.2 .75-7.2 .75-.1 .75 11 .75 2.2 .75-.8 .75-.9 .75 .6 .75-10.4 .75 11 .75 6.7 .75-13.2 .75 12.4 .75 2.8 .75 13 .75-16.8 .75-.5 .75-6.2 .75 1.8 .75-2.9 .75-.3 .75 19.2 .75-4.3 .75 3.2 .75-12.9 .75-2.2 .75 2.8 .75 25.6 .75-2.6 .75-17 .75 11.4 .75 1.4 .75-7.3 .75 3.4 .75 12.4 .75-.8 .75 2.3 .75-3.3 .75-.6 .75 3.6 .75-3.9 .75 14 .75-9.8 .75 3 .75-3.8 .75-3.5 .75 5.1 .75-1.4 .75-2.7 .75 12.1 .75 9 .75-11.5 .75-2.1 .75-3.7 .75-4.6 .75 15.3 .75 .3 .75-8.9 .75 6.8 .75-5.9 .75 16.5 .75-8.4 .75 2.9 .75 9.6 .75-26.6 .75 19.2 .75-.1 .75-2.9 .75 3.2 .75 9.6 .75-12.1 .75 1.2 .75 17.5 .75-3.8 .75-2.5 .75 3.4 .75-3.8 .75-1.5 .75 2.2 .75 4.2 .75-4.1 .75-6.5 .75 10.8 .75 4.1 .75-1.7 .75 6.5 .75-1.4 .75 5.5 .75-4.6 .75-1 .75 5.9 .75 2.8 .75-8 .75-2 .75 15.1 .75-11.6 .75 6.5 .75-4.9 .75 5.1 .75 8.3 .75 2.5 .75-18.9 .75-.3 .75-11.8 .75 26.2 .75 6.9 .75-7.8 .75-3 .75 7.8 .75-10.8 .75 10.9 .75 5.1 .75-.2 .75-2.8 .75-7.2 .75 1.7 .75-3.2 .75 18.4 .75-3.4 .75-7.8 .75 .5 .75 2.5 .75-5.1 .75 8 .75 .5 .75 .1 .75-1.9 .75-15.6 .75 15.2 .75-7.1 .75-1.1 .75 25.2 .75-16.7 .75 2.5 .75-.1 .75-2.9 .75 16 .75-21.1 .75 15.1 .75-6.1 .75 12.1 .75-2.1 .75-4.2 .75-9.2 .75 14.7 .75 1.8 .75-1.4 .75-5.3 .75 6.2 .75-8.1 .75 6.9 .75 1.3 .75-3.2 .75-4.1 .75 5.2 .75-3.5 .75-1.5 .75 14.2 .75-6.9 .75-1.7 .75 .4 .75 6.3 .75-4.2 .75-1.9 .75 6.4 .75-.3 .75-5.9 .75-.6 .75 14.9 .75-9.2 .75 9.5 .75-3.3 .75-3.6 .75-.5 .75 11.7 .75-13.3 .75 2 .75-2.2 .75 4.5 .75-4.3 .75 6.7 .75-7.8 .75 11 .75-.7 .75-.4 .75-4.5 .75 11.7 .75 4.6 .75-12.3 .75-3.5 .75 8.8 .75-4.7 .75 2.5 .75 3.3 .75-11.5 .75 12.8 .75-10.2 .75-.8 .75 5.5 .75 11.3 .75-12 .75 6.9 .75-7.9 .75 9.6 .75-1.4 .75 5.3 .75-5.3 .75-.5 .75-10.6 .75 13.3 .75 3.2 .75-3 .75 .3 .75 2.7 .75 2.2 .75-9.8 .75 5.2 .75 3.4 .75-.6 .75-6.6 .75-5.5 .75 13.8 .75 2.8 .75 5.9 .75-6.8 .75-7 .75 8 .75-2.8 .75-2.8 .75-4 .75-1.9 .75 6.8 .75 1.9 .75 3.1 .75 0 .75 1.6 .75 9.9 .75-11 .75 8.5 .75-12 .75 .6 .75 1.5 .75-7 .75 20 .75-7.7 .75 2.9 .75 6.1 .75-7 .75 7 .75-22.3 .75 20.9 .75-5.2 .75-4.6 .75 9.6 .75-5.6 .75-3.8 .75-6.7 .75 21.3 .75-24.4 .75 15.4 .75 9 .75-5 .75-6.9 .75 2.4 .75-1.6 .75 5.1 .75-1.4 .75-6.5 .75-.7 .75 15 .75-13.2 .75 1.1 .75 19.7 .75-17.4 .75-2.4 .75 2.3 .75 10 .75-8.2 .75 3.7 .75-11.8 .75 9.6 .75 3.9 .75 .2 .75 8.1 .75-5.1 .75-18.7 .75 7.2 .75 4.3 .75 3.4 .75 2.1 .75 3.4 .75-12.6 .75-2.9 .75 17 .75-9.8 .75-7.3 .75 7.9 .75 3 .75-4 .75 .4 .75 12.3 .75-11.6 .75 8 .75-.3 .75-2.9 .75 15.2 .75-20.3 .75 22 .75-19.4 .75 4.1 .75 3.3 .75 4.7 .75-2 .75-5.6 .75 .3 .75 8.6 .75 2.2 .75-11.2 .75 9.9 .75-3.4 .75-1.4 .75-7.3 .75-.6 .75 9.5 .75-17.3 .75 12.7 .75 5.2 .75-11.2 .75 18.2 .75 .4 .75-14.7 .75 5.3 .75 .1 .75-2.1 .75 .5 .75 5.4 .75 6.6 .75-8.5 .75 .3 .75 .3 .75-4.3 .75 7.3 .75-5.9 .75-2.5 .75 9 .75-13.5 .75 7.5 .75 .8 .75 1.5 .75-7.4 .75 3.4 .75 4.5 .75 4.2 .75-3.7 .75-.4 .75-3.2 .75 4.8 .75-14.9 .75 18.6 .75 1.9 .75-5.1 .75-4.9 .75 12.5 .75-10.6 .75 11.1 .75-8.5 .75-2.5 .75 3.2 .75-2.4 .75 3 .75 3.7 .75-3.8 .75-.9 .75 2.5 .75 2.4 .75-2 .75 3.1 .75 .3 .75-1.4 .75 2.4 .75-3.6 .75 6 .75-3.8 .75 2.4 .75-5.4 .75-6.4 .75 5.2 .75 2.7 .75 1.8 .75-2.1 .75 8 .75-14.5 .75-2.4 .75 8.4 .75-2.5 .75 3.8 .75 3.4 .75 10.8 .75-21 .75 1.3 .75 5.4 .75-7.3 .75 3.8 .75 10.8 .75-7 .75 .3 .75 6 .75-14.7 .75 9.7 .75-.9 .75 1.8 .75-6.5 .75 3 .75 1.8 .75 4.4 .75-7.5 .75 7 .75-14.2 .75 13.4 .75 1.9 .75-8.7 .75 3.3 .75 1.6 .75 1.5 .75 4.8 .75-5.1 .75-2.1 .75 .2 .75 2.5 .75 2.7 .75-2.6 .75-4.1 .75 1.2 .75-2.3 .75-.4 .75 2.1 .75-.4 .75 6.9 .75-10 .75 6.5 .75-6.3 .75 10.1 .75-2.5 .75 5 .75-3.6 .75-8 .75 5.4 .75-3.3 .75 .5 .75-2.5 .75 3.7 .75 2.1 .75 .7 .75 11.6 .75-13.5 .75 1.3 .75-.8 .75-.8 .75-.2 .75 1.8 .75-1.2 .75 4.8 .75-1.6 .75-6.6 .75 4.6 .75 1.6 .75-3 .75 .3 .75 .7 .75 3.6 .75-2.1 .75-3.6 .75 2.5 .75 6.5 .75-11 .75 8.1 .75-4.5 .75 20 .75-15.6 .75-3 .75-.8 .75-7.2 .75 5.1 .75 12.6 .75-8.3 .75-3.3 .75 1.4 .75 .2 .75-5.1 .75 5.3 .75 2 .75-10 .75 6.2 .75-12.6 .75 5.2 .75 12.7 .75 1.9 .75 3.2 .75-16 .75 6.1 .75-1.3 .75 7 .75-3.8 .75-1.2 .75 2.6 .75-5.4 .75 7.2 .75-6.7 .75 7.2 .75-4.6 .75 .2 .75-6.9 .75-2.1 .75-.2 .75 10.3 .75-13.3 .75 17.7 .75-8.6 .75-5.1 .75 8.4 .75-8 .75 6.4 .75-1.6 .75 7.3 .75-1.5 .75 .2 .75-7.1 .75 8.5 .75-6.6 .75 .9 .75 1.6 .75-.9 .75-8.1 .75 9.9 .75-11.3 .75 10.3 .75-2.7 .75 .7 .75-5.9 .75 10.4 .75-5.8 .75 5 .75-8 .75 .1 .75 3.9 .75 4.8 .75-11.9 .75 3.7 .75 .3 .75 1.2 .75-1 .75 7.7 .75-1.9 .75-3.5 .75 4.1 .75 .9 .75-8.3 .75-.6 .75 7.1 .75 7.1 .75-22.7 .75 8.8 .75 7 .75-8.1 .75 8.4 .75-3.4 .75-7.5 .75 3.9 .75 4.2 .75-6.5 .75 7.4 .75-1.5 .75-3.2 .75 3.5 .75-3.9 .75 2.9 .75-6.3 .75 12.2 .75-8.6 .75 7.1 .75 4.9 .75-2.9 .75-8.1 .75 .8 .75-1.1 .75 1.7 .75-5.9 .75-5 .75 10.7 .75-1.4 .75 7.4 .75 1.4 .75-16.3 .75 2.2 .75 8.6 .75 2 .75-5.5 .75-.4 .75-9.7 .75 20.9 .75-15.2 .75 6.3 .75-1.1 .75-6.4 .75 8.9 .75 3 .75-7.7 .75 .9 .75 2.6 .75 1.6 .75-.6 .75-9 .75-.3 .75 2 .75-11 .75 6.9 .75 5.8 .75-2.5 .75-.9 .75 8.8 .75-2.9 .75 2.5 .75-5.1 .75-1.3 .75-2.4 .75 5.7 .75-10.6 .75 4.8 .75 7.4 .75 1.3 .75-4.7 .75-5.6 .75 8.8 .75-6.7 .75 3 .75-4.3 .75 14.2 .75-1.7 .75-12 .75-1.7 .75 5.7 .75 3.4 .75 3.2 .75-6.8 .75-6.1 .75 7.9 .75-.2 .75-9.6 .75 6.8 .75-.2 .75-3.6 .75 6.2 .75 4.2 .75-.3 .75-9.8 .75 1.6 .75 6.5 .75-5.3 .75-.1 .75 13 .75-24.5 .75 9.8 .75-1 .75 4 .75 9 .75-9.5 .75-.8 .75 2.2 .75-2.4 .75 3.5 .75 11.1 .75-16.7 .75 2.5 .75 .6 .75-10.4 .75 13.8 .75-3.4 .75-9.8 .75 8.6 .75 2.2 .75-5.5 .75 10.2 .75-8.7 .75-4.7 .75 11.8 .75-4.9 .75 1.4 .75-9 .75 1.1 .75 1.9 .75 4.4 .75 0 .75 7.8 .75 .8 .75-7.3 .75-1.2 .75 10.2 .75-9.5 .75 4.9 .75-7.8 .75 2 .75-1 .75-2.2 .75 5.5 .75-6.2 .75 3.6 .75 2.7 .75 8.7 .75-20.7 .75 10.1 .75 3 .75-5.2 .75 6.2 .75-1.8 .75-.2 .75-4.7 .75 1 .75-.1 .75-4 .75 6 .75-6.4 .75 .6 .75-2.4 .75 12.8 .75-8.6 .75-1.7 .75 8.7 .75-6.3 .75 3.9 .75-2.6 .75 2.8 .75-.9 .75-12.1 .75 18.8 .75-2.4 .75-12.6 .75 12.1 .75-5.7 .75 1.8 .75 6.1 .75-1.5 .75 0 .75 5.3 .75-4.7 .75-8.7 .75-3.4 .75 10.9 .75-13.1 .75 7.1 .75 0 .75-1.8 .75 10.7 .75-5.3 .75-2.8 .75 5.8 .75-6.7 .75 8.4 .75 4.3 .75-11.1 .75-.1 .75 6.8 .75-16 .75 3.7 .75 1.2 .75-3 .75 8.3 .75 1.6 .75-1.6 .75 0 .75 4.9 .75 .9 .75 .9 .75-7 .75 .9 .75 7.5 .75-5.3 .75 4.7 .75-9.1 .75 2.2 .75-2.9 .75 3.2 .75 2.4 .75-4.4 .75 12.4 .75-17.6 .75 12.1 .75-9.9 .75 7.2 .75-5.4 .75 4.4 .75 0 .75-4.3 .75-2.1 .75 2.7 .75 3.8 .75 4.1 .75 4.1 .75-16.9 .75 11.2 .75-4.7 .75 2.6 .75 1.6 .75 2.5 .75-1.9 .75-2.1 .75 8.1 .75-6.4 .75-1.4 .75 5.8 .75-11.5 .75 1.1 .75 12.1 .75-8.4 .75-8 .75 13.1 .75 2 .75-10.1 .75-2.7 .75 6.3 .75 2 .75-4.8 .75-1.7 .75 7.3 .75 0 .75-10.8 .75 2.3 .75 4 .75-1.6 .75 4.3 .75 1.4 .75 6.8 .75-7.6 .75 2.8 .75-12.6 .75 4.3 .75 8.9 .75-12.8 .75 14.1 .75-4 .75-2.2 .75-1.3 .75-5.4 .75 .4 .75 2.8 .75 .5 .75 8.3 .75-11.4 .75 1.9 .75-5.7 .75 9.6 .75-.9 .75 5.5 .75 4.1 .75-7.2 .75-7.2 .75 5.3 .75 .1 .75-2 .75-5.4 .75 7 .75-8.1 .75 5.5 .75-1.3 .75-11.9 .75 16.1 .75 7.5 .75-13 .75-1.5 .75 7.7 .75-11.7 .75 6.7 .75 1 .75-4.3 .75 2.5 .75-4 .75 1.4 .75 6.4 .75-7.7 .75 1.6 .75-.5 .75 6.3 .75-4.3 .75-2.3 .75 6.2 .75-11.8 .75 .7 .75 11.3 .75 8.2 .75-11.9 .75 4.4 .75-8.7 .75 7.9 .75 .4 .75 2.1 .75-6.7 .75 13.7 .75-14.8 .75 12.6 .75-13.3 .75 9.5 .75 2.7 .75 4.2 .75-11.7 .75-7.9 .75 12.6 .75-8 .75-1.9 .75 2.4 .75-1.7 .75 8.5 .75-3.1 .75 2.5 .75 .8 .75-6.4 .75 5.5 .75 2.5 .75 3.3 .75-8.8 .75-2.2 .75-3.6 .75 2.7 .75 2 .75 1.2 .75-8.3 .75 4.8 .75 .9 .75-2 .75-.2 .75 4.8 .75-6.8 .75 7.3 .75-8 .75 6.6 .75-6.9 .75 11.7 .75-2.4 .75 3.1 .75-11.3 .75-2.6 .75-.1 .75 5.6 .75 6.6 .75-1.9 .75-.3 .75-9.9 .75 11.9 .75-1.9 .75-6.7 .75-10.4 .75 9 .75 3.3 .75 8.8 .75-7.1 .75-1.5 .75 8.6 .75-.2 .75-6 .75 1.5 .75 3.5 .75-9.9 .75 6.1 .75-3.9 .75-2.3 .75 7.9 .75 3.6 .75 4.4 .75-5.2 .75 2.3 .75-6.3 .75-6.3 .75 4.9 .75 5.7 .75-4.6 .75 13.3 .75-3.1 .75-6.8 .75 10.3 .75-5.1 .75 5.5 .75-8.8 .75 5.3 .75-4.6 .75 1.6 .75 6.2 .75 4.3 .75-8.5 .75 1.3 .75-5.5 .75 3.8 .75 4 .75-8.3 .75 4.6 .75-3 .75 7 .75 3.9 .75-2.3 .75-2.7 .75-3.2 .75-2.7 .75 8.4 .75 7.7 .75-8.6 .75 1.2 .75-1.7 .75-3.2 .75 11 .75-1.6 .75-10.6 .75 1.3 .75 12.9 .75-10.8 .75 4.2 .75-4.6 .75 6.7 .75-5.2 .75 1 .75-2.3 .75 14.9 .75 3.6 .75-11.5 .75 2.4 .75-.3 .75-2.5 .75-.3 .75-1.1 .75 5.8 .75-9.6 .75 2.1 .75 7.8 .75-10.1 .75 15 .75-9 .75 2.5 .75 5.7 .75-6.4 .75 1.1 .75-3.3 .75 5.6 .75 1.1 .75-7.4 .75 7.6 .75 1.8 .75-2.2 .75-5.7 .75 8.4 .75 2.3 .75-8.8 .75-6.2 .75 5.7 .75 3.7 .75 6.4 .75-.3 .75-2.2 .75-6.2 .75 7 .75-3.5 .75-4.7 .75-3.4 .75 13.6 .75-12.4 .75 13.9 .75 5 .75-10.5 .75-4.1 .75 1.1 .75-.1 .75 5.1 .75 3 .75-8.4 .75 2.1 .75-1.5 .75 8.6 .75-.7 .75-8.7 .75 2.6 .75 2.3 .75-9.3 .75 6 .75 3.3 .75-7.3 .75 7.7 .75-.7 .75-2.9 .75 7.6 .75-9.3 .75 6.5 .75-3.2 .75 6.5 .75-8.9 .75 6.6 .75 .1 .75 2.5 .75 2.3 .75-14.9 .75 7 .75-4.8 .75 9.8 .75 1.9 .75-7.9 .75 2.6 .75 5.1 .75-5.2 .75-1.7 .75-7.2 .75 4.3 .75 8 .75-11.9 .75 8.2 .75-.5 .75-1.4 .75 3.7 .75-7.6 .75 10 .75-9 .75 6.8 .75-7.9 .75 3.8 .75-3.1 .75 9.5 .75-13.4 .75 1.8 .75 9.9 .75-3.4 .75-4.3 .75-1.3 .75-5.2 .75 4.7 .75 2.8 .75 3.9 .75-1.5 .75 2.3 .75-5.5 .75-5.5 .75 1.5 .75 9 .75-7.2 .75 6.1 .75-14.8 .75 5.1 .75-1.7 .75 4.9 .75-5.3 .75-2.9 .75 5.9 .75-11 .75 8.1 .75 4.9 .75-7.9 .75 5.3 .75-4.3 .75 2.6 .75 2.8 .75 1 .75-.3 .75-6 .75 11.2 .75-6 .75-4.9 .75 9.7 .75-8.7 .75 11.6 .75-5.6 .75-4.8 .75-1.9 .75-1.9 .75 .2 .75 2.5 .75 8 .75-5.9 .75-1.4 .75 2.5 .75-3.8 .75-4.8 .75-1.2 .75 14.5 .75-8.6 .75 9.4 .75 1.4 .75-8.1 .75 2.4 .75-5.7 .75 1.3 .75 1.2 .75-.3 .75 7.8 .75-7.7 .75 5.3 .75-3.5 .75 2.9 .75 6.4 .75-16.6 .75 14 .75-8.6 .75 4.5 .75-2.3 .75-.3 .75-4 .75-6.2 .75 24.3 .75-5.9 .75-5.2 .75-7.6 .75 12.9 .75 4.9 .75-5.3 .75-10.3 .75 6.3 .75 4.2 .75-1.2 .75 6.2 .75-9.9 .75 2 .75-8.7 .75 18.1 .75-2 .75-4.9 .75-6.3 .75 13.4 .75-10.8 .75 1 .75-2.8 .75 2.8 .75 2.7 .75-.4 .75 11 .75-1.6 .75-2.9 .75-2.9 .75 2.8 .75-6 .75 8.7 .75-6.3 .75 2.3 .75 4.3 .75-5.7 .75-2.2 .75 11.9 .75-13.1 .75 2.4 .75 .7 .75 2.4 .75 3.1 .75-14.7 .75 13.4 .75 9.5 .75-.8 .75-1.2 .75-4.4 .75 1.7 .75-3.4 .75-5.1 .75 10.1 .75 3.8 .75-3.5 .75-1.3 .75 4.6 .75-2.3 .75 4.2 .75-7.2 .75-6.2 .75 11.2 .75 2.2 .75-7.7 .75 5 .75 2.5 .75-16.4 .75 24.7 .75-8 .75-4.8 .75-4.8 .75-2.3 .75 23.4 .75-17.9 .75 4.6 .75-6.8 .75 1.3 .75 4.4 .75-8 .75 3.9 .75-.9 .75 3 .75 1.5 .75-5.3 .75 7.4 .75-9.5 .75 .1 .75 2 .75-2 .75 4.7 .75-18.2 .75 5 .75-2.4 .75 17.3 .75-3.3 .75-7.8 .75 4.9 .75-11 .75 6.9 .75 8.5 .75-4.4 .75 7.1 .75-13.3 .75 8.2 .75-5.2 .75 1.3 .75 .1 .75 3 .75 3.3 .75-5.6 .75 2.3 .75-1.7 .75 2.7 .75-4.6 .75 9.6 .75-.7 .75-1.1 .75-.9 .75-2.4 .75-.6 .75 0 .75 2.3 .75 8.9 .75-1.6 .75-8.1 .75 2.9 .75 11.7 .75 2.2 .75-3.2 .75 6.5 .75-12.6 .75 5.7 .75-4.6 .75 13.7 .75-8 .75 .3 .75 .1 .75-4.6 .75 3.2 .75-10 .75 8.9 .75-2.3 .75 8.6 .75 2.8 .75-4.6 .75-5.7 .75 0 .75 8.8 .75-4.3 .75 .3 .75-3.4 .75 6.3 .75 .1 .75 3.1 .75-7.7 .75 4.5 .75-6 .75 7.8 .75-.7 .75-1.4 .75 6 .75-9.5 .75 13.1 .75-4.9 .75 1 .75-1 .75-4.1 .75 .9 .75 7.1 .75-4 .75 1.7 .75-2.7 .75 5.6 .75-.6 .75-8.4 .75 14.7 .75-3.8 .75-.8 .75-2 .75-1.4 .75 4.2 .75 7.9 .75-11.6 .75-4.2 .75 4.9 .75 .7 .75 4.1 .75-9.4 .75 3.7 .75 .7 .75 5.9 .75 .7 .75-3.8 .75 4 .75-4.1 .75 .1 .75-10.3 .75 6.1 .75-.9 .75 6.9 .75-1.6 .75-4.9 .75 4.9 .75-.7 .75 2.3 .75-4 .75-.6 .75 8.4 .75-6.3 .75 5.6 .75-8.1 .75 2.9 .75-.4 .75-2.6 .75 7.3 .75-8.7 .75 6.9 .75-10 .75 12.3 .75-2.7 .75 4.8 .75 4 .75-11.5 .75 3.2 .75-5.4 .75 3.7 .75 2.3 .75 .1 .75 3.3 .75-1.1 .75 2.2 .75-6.9 .75 3.7 .75-4.9 .75 3.8 .75-10.7 .75 11.3 .75 .8 .75-2 .75 .4 .75-5.4 .75 4.6 .75 .4 .75 3.6 .75 1.1 .75-3.6 .75 1.4 .75 2.2 .75-5 .75 8.1 .75 4.4 .75-6.8 .75-3.5 .75 3.1 .75 4 .75 .6 .75-10.9 .75 7 .75-4.3 .75 1.2 .75 3 .75 1.1 .75-3.4 .75-2.4 .75 2.7 .75-3.4 .75 11.5 .75-13.7 .75 8.9 .75-2 .75-.4 .75-4.4 .75 2.3 .75 .6 .75-.8 .75 1.2 .75 1.5 .75-2.3 .75 3.6 .75 1.2 .75-5.2 .75 5.2 .75-2.8 .75-2.5 .75 4.2 .75 2.7 .75-5.9 .75-6.3 .75 10.8 .75 .9 .75-8.7 .75 4 .75 2.5 .75-11.7 .75 13 .75-.2 .75 .3 .75 2.8 .75-10.5 .75 8.3 .75 5.5 .75-18.8 .75 7.8 .75 4.4 .75-5.9 .75-4.6 .75 8.9 .75-.6 .75-3.7 .75 4 .75 2.8 .75 .4 .75-2.5 .75-6.8 .75 3.8 .75-8.2 .75 5 .75 5 .75 1.6 .75-2.5 .75-.1 .75-8.2 .75 2.7 .75 .4 .75 2.2 .75-.2 .75 11.4 .75-5 .75-8.7 .75 1.4 .75 .3 .75-.3 .75 .1 .75-6.5 .75 13.3 .75-2.2 .75-.4 .75-2.4 .75 1.3 .75-3.7 .75-7.1 .75 8.7 .75-.7 .75-6 .75-4.2 .75 14 .75-9.5 .75 3.2 .75-2.4 .75 9.9 .75-13.9 .75 10.6 .75-15.7 .75 14.5 .75-6.4 .75-7.9 .75 9.7 .75-1 .75-7.1 .75 8.1 .75-2.2 .75 1.7 .75-8.8 .75 2.1 .75-1.7 .75 4.1 .75-3.6 .75-2.9 .75 9.9 .75-9.3 .75 6.6 .75-1.9 .75-7.8 .75-5.8 .75 8.5 .75 1.4 .75 1.5 .75-4.4 .75-.7 .75-5.8 .75-1.4 .75 17.2 .75-10.8 .75-12.9 .75 6.3 .75-.7 .75-12.1 .75 5.7 .75 2.6 .75 3.9 .75-1.6 .75-10.9 .75-1.1 .75-1.8 .75 2.5 .75 2.3 .75-10.1 .75 3.7 .75-2.6 .75-1.4 .75 .8 .75 11.3 .75-.9 .75-1.8 .75-16.2 .75 9.5 .75 10.1 .75-10.5 .75-6.1 .75 6.2 .75-4.8 .75-1.1 .75 3.1 .75 .8 .75-3.4 .75 .7 .75-5.2 .75 5.1 .75 4.1 .75-3 .75-1.2 .75-6.2 .75 13.4 .75-11.4 .75 9.6 .75-4.9 .75 6.2 .75 1.6 .75-6.4 .75-13.3 .75 5.5 .75 6 .75 .8 .75 6.7 .75 9 .75-6 .75-3.5 .75 8 .75-7.1 .75 5.7 .75-1.9 .75-10.9 .75 14.8 .75 4.4 .75-10.1 .75 5.8 .75-1 .75-3.6 .75-.3 .75 6.9 .75-7.9 .75 .7 .75 6.9 .75 .6 .75 3.2 .75-10.3 .75-3.6 .75 12 .75-12.6 .75 5.6 .75 1.2 .75 9.7 .75-8 .75-5.6 .75 6.2 .75 7.1 .75-14.5 .75 3.2 .75 12.1 .75-3.4 .75-4.5 .75 4.9 .75 2.4 .75-4.7 .75 3.8 .75 10.8 .75-4 .75 5.3 .75-3.7 .75-.5 .75 5.8 .75-3.4 .75 7.7 .75-1 .75 1.8 .75 1.8 .75-1.6 .75 11.2 .75-11.3 .75 8.3 .75-5.6 .75 9.9 .75-4.1 .75 2.3 .75 1.8 .75 .1 .75-.1 .75 1.3 .75 .6 .75-2.8 .75 1.3 .75 .8 .75-1.3 .75 1.3 .75 8.1 .75-10.7 .75 13.2 .75-8.6 .75 5.1 .75-2.1 .75-.4 .75 3.3 .75 4.9 .75-7 .75 .6 .75-1.7 .75 10.5 .75-3.1 .75 .1 .75-4 .75-7.3 .75 9.6 .75-8.6 .75 4.9 .75 6.5 .75-5.8 .75-.2 .75-5.4 .75 11.3 .75-1 .75-3.4 .75 3.4 .75-7.6 .75 2.7 .75 4.5 .75 2.8 .75-3.5 .75-4.6 .75 2.9 .75 6.4 .75-6.6 .75 3.4 .75 .7 .75-3.7 .75 2.3 .75-7 .75 4.8 .75 2.5 .75 2.3 .75 2.7 .75-6.8 .75 3.7 .75-2.2 .75-2.5 .75 .1 .75 2.9 .75 .3 .75-2.8 .75 13.5 .75-10.6 .75 2.7 .75-3.5 .75 11.9 .75-19.3 .75 7.3 .75 2.2 .75 3.9 .75-4.7 .75-3.6 .75 9.9 .75-3.4 .75-3.5 .75 .1 .75 0 .75 1.6 .75-7.1 .75 7.1 .75-2.8 .75 4.2 .75-.5 .75-5.3 .75 9.2 .75-2.2 .75-6.3 .75-.5 .75 1.4 .75 4 .75 3.5 .75-8.2 .75 .5 .75 5 .75-2.1 .75 0 .75-.2 .75-.8 .75 7.9 .75-2.8 .75-5 .75 6.1 .75 2.4 .75-5.3 .75-.6 .75-3 .75 2.4 .75 .4 .75 4.1 .75-8.5 .75-2.5 .75 4.3 .75 3.3 .75-9 .75 6.9 .75-2.3 .75-1.2 .75 4.8 .75 3.9 .75-9.6 .75 6 .75-1.5 .75 3.1 .75-2.4 .75-2.4 .75 5.7 .75-1.7 .75-5.5 .75-3.7 .75 4.9 .75 3.4 .75 2.2 .75-5.1 .75 .7 .75-5.4 .75 5.1 .75 2.2 .75-2.7 .75 1.9 .75-3.4 .75 .3 .75 4.5 .75-6.9 .75 5.9 .75 4.4 .75-6.6 .75 .3 .75-1.3 .75-1.8 .75 2.7 .75-2.6 .75 3.9 .75-1.2 .75-2.2 .75 4.4 .75 3.7 .75-.8 .75-4 .75 .9 .75-3.8 .75 3.1 .75 3.4 .75 .4 .75 2.2 .75-10.7 .75 11.6 .75-4.4 .75 4.4 .75-5.7 .75 4.6 .75-4.7 .75-3.8 .75 5.2 .75-3.1 .75 1.8 .75 2.1 .75 1 .75-.4 .75 1.2 .75-9.4 .75 10.2 .75-7.4 .75 3.5 .75-1.9 .75-2.7 .75 7.7 .75-7.1 .75 1.7 .75 7.6 .75-13.8 .75 2.1 .75 9.9 .75-5 .75 4.5 .75-3 .75-1.7 .75 4.5 .75-5.2 .75 .6 .75 2.9 .75-4.9 .75-1.2 .75-.8 .75 9.7 .75 3.8 .75-2.8 .75-6.7 .75 .4 .75-1.7 .75 3.7 .75 4 .75-4.2 .75 .3 .75-12 .75 13.3 .75-5.6 .75 3.6 .75 2.3 .75-.9 .75 2.4 .75 3 .75-14.2 .75 2.8 .75 12 .75-4.3 .75-4.5 .75 1.7 .75 1.1 .75 3.9 .75-5.1 .75 1.3 .75-5 .75 10.5 .75-3.7 .75-3.5 .75-3.2 .75 5 .75 3.3 .75 5.4 .75-1.4 .75-8.6 .75-.1 .75-2.1 .75 5.4 .75-4.5 .75 5 .75-1 .75 .4 .75-5.2 .75 8 .75-5.1 .75-3.7 .75 4.4 .75 .8 .75-.4 .75 3.3 .75 1 .75 4 .75-8.8 .75 4.9 .75-14.2 .75 16.7 .75-7.1 .75 4.9 .75-5.7 .75 3 .75 .3 .75-4.6 .75 .1 .75-8.6 .75 12.9 .75-2.7 .75-.2 .75 5.4 .75-3.2 .75-.5 .75-7.9 .75 7.7 .75-1.7 .75 4.8 .75-5.5 .75-2.7 .75 3.7 .75 7.8 .75-10.2 .75 8.1 .75-5.4 .75-7 .75 10 .75 6.5 .75-7.1 .75-5.7 .75 3.2 .75-2.5 .75 14.1 .75-8.7 .75-10.9 .75 11.9 .75-1.3 .75-5.6 .75 1.6 .75 2 .75 6.8 .75-8.4 .75-.9 .75 6.4 .75-5.9 .75-1.5 .75 3.4 .75 3.6 .75-2.5 .75-2 .75 6.8 .75-.1 .75-11.2 .75 1.6 .75 .9 .75 2.7 .75 1.4 .75-.9 .75 .6 .75 1.4 .75-6.4 .75-3.4 .75 9.3 .75 3.6 .75-3.9 .75-2.3 .75 3.6 .75-3.2 .75-3.7 .75 3.5 .75 4.3 .75-1.7 .75 1.4 .75-4.4 .75 3.9 .75 3.3 .75-6.5 .75-.6 .75 6.4 .75-4.2 .75-4.8 .75 2.8 .75 6.5 .75-3.6 .75 5.6 .75-4.6 .75-1.4 .75 3 .75-6.2 .75 6.2 .75-4.3 .75-.6 .75 2.4 .75-3.3 .75-2.4 .75 .8 .75 5.3 .75-.9 .75-.8 .75 2.4 .75-6 .75 1.8 .75 7.5 .75-9.6 .75 8.3 .75-5.7 .75 2.9 .75-1.1 .75-1.8 .75 1.3 .75 3.2 .75-6.2 .75-1 .75 6.8 .75-4.7 .75 .8 .75-.1 .75-.9 .75-5.1 .75 6.3 .75-1.3 .75-3.4 .75 3 .75 2.9 .75 5.6 .75-8.5 .75 7 .75-6.7 .75 3.4 .75-2.7 .75 3.7 .75-2.2 .75-2 .75-4.3 .75 9.4 .75-9.3 .75 3.3 .75 8.8 .75-5.6 .75-.6 .75 .1 .75 .4 .75-2.2 .75 2.6 .75-1.9 .75-.7 .75 3 .75 .6 .75-1 .75 2.2 .75 3.4 .75-.6 .75-6 .75-4.5 .75 8.3 .75-3.8 .75 2.4 .75-4.2 .75 4.5 .75-7.3 .75 4.8 .75-5.7 .75 12.5 .75-8.4 .75-6.9 .75 12.5 .75-1.1 .75 1.5 .75-9.3 .75 5.6 .75 3.4 .75-5.5 .75 2.1 .75-2.3 .75-.3 .75 6.2 .75-8 .75 3 .75 2 .75-2 .75 3 .75-10.5 .75 11.6 .75-8.6 .75 3.5 .75-.5 .75 3 .75-2.4 .75-.9 .75 4.1 .75 5 .75-9.9 .75-.2 .75 .3 .75-2.4 .75 0 .75 2.7 .75 4.3 .75-4.5 .75-1.2 .75 2.6 .75-2.5 .75 12.9 .75-4.4 .75-5.6 .75-6.4 .75 4.2 .75-1.3 .75 0 .75-4.8 .75 6.1 .75-.3 .75-.3 .75-2.3 .75 6.1 .75-4.6 .75-5.2 .75 4.5 .75 6.8 .75 1.4 .75-8.6 .75 3.5 .75 2.7 .75 1.3 .75-5.2 .75 2.8 .75-2.7 .75-5.1 .75 10 .75-3.7 .75 1.8 .75-2.3 .75-2.5 .75 1.4 .75 3 .75-6 .75 10.4 .75 2.7 .75-16.9 .75 11.8 .75-5 .75 3.9 .75-1.6 .75-1.4 .75 4 .75-3.1 .75 5.2 .75-4.3 .75-6.6 .75 4.7 .75 .6 .75-2.2 .75-2.4 .75 11.8 .75-7.6 .75 .2 .75-6 .75 8.1 .75-2.5 .75 4.4 .75 2.2 .75-8.7 .75-.3 .75 7 .75-.3 .75-2.9 .75 1.5 .75-3.9 .75 1.1 .75 0 .75-7.9 .75 10.6 .75 .2 .75-6.4 .75 1.4 .75 3.1 .75 1.6 .75-2.7 .75-1.8 .75 3.3 .75-1.2 .75-4.1 .75 2.4 .75-.2 .75 3.9 .75-7.4 .75 1.8 .75 1.6 .75 1.5 .75 8.7 .75-9.5 .75 4.5 .75-1 .75 1.8 .75 1.6 .75-4.3 .75-5.8 .75 2.3 .75 6.8 .75 2.4 .75-3.3 .75 4.1 .75-6.4 .75-5.7 .75 3.4 .75 .7 .75 2.3 .75-.3 .75-6.6 .75 7.7 .75-6.6 .75 3.1 .75 1.4 .75 .1 .75-.7 .75-4.1 .75 1.5 .75 4 .75-5.3 .75-2.7 .75-5.2 .75 9.5 .75-3.5 .75 3.3 .75-4 .75 2.3 .75 .2 .75 4.9 .75-6.9 .75-1.3 .75 4.9 .75 2.6 .75-6.6 .75 5.3 .75-1.9 .75 1.8 .75-9 .75 7.3 .75-1.3 .75 1.7 .75-3.4 .75 2 .75-7.8 .75 8.1 .75 5.2 .75-4.5 .75-.5 .75 1 .75 4 .75-8 .75-3.1 .75 1.3 .75 1.6 .75 2.9 .75 2.7 .75-6 .75-1.1 .75 7.2 .75 .7 .75-7.1 .75 5.8 .75-3.7 .75-1.2 .75 1.3 .75-2.8 .75-3.3 .75 1 .75 2.5 .75 4 .75 .3 .75 1.7 .75-6.3 .75 2.9 .75-5.5 .75 1.7 .75 7.7 .75-4.4 .75 7.7"/>
</g>
<g font-size="60" text-anchor="middle">
<text x="249.5" y="1554.5">10</text>
<text x="624.5" y="1554.5">20</text>
<text x="999.5" y="1554.5">30</text>
<text x="1374.5" y="1554.5">40</text>
<text x="1749.5" y="1554.5">50</text>
<text x="2124.5" y="1554.5">60</text>
</g>
<g font-size="74">
<text transform="translate(1817.8 462.5) scale(0.9348 1)">2.0<tspan font-size="43" dy="27">2</tspan><tspan dy="-27">-7d-80</tspan></text>
<text transform="translate(1810.4 581.5) scale(0.9249 1)">1.0<tspan font-size="43" dy="27">2</tspan><tspan dy="-27">-7d-80</tspan></text>
<text transform="translate(1815.8 679.0) scale(0.9351 1)">0.5<tspan font-size="43" dy="27">2</tspan><tspan dy="-27">-7d-80</tspan></text>
<text transform="translate(1820.9 815.5) scale(0.9351 1)">2.0<tspan font-size="43" dy="27">2</tspan><tspan dy="-27">-7d-60</tspan></text>
<text transform="translate(1813.8 938.5) scale(0.9249 1)">1.0<tspan font-size="43" dy="27">2</tspan><tspan dy="-27">-7d-60</tspan></text>
<text transform="translate(1826.2 1049.0) scale(0.9338 1)">0.5<tspan font-size="43" dy="27">2</tspan><tspan dy="-27">-7d-60</tspan></text>
<text transform="translate(1818.2 1194.6) scale(0.9334 1)">2.0<tspan font-size="43" dy="27">2</tspan><tspan dy="-27">-7d-25</tspan></text>
<text transform="translate(1832.1 1293.1) scale(0.9193 1)">1.0<tspan font-size="43" dy="27">2</tspan><tspan dy="-27">-7d-25</tspan></text>
<text transform="translate(1818.2 1391.8) scale(0.9292 1)">0.5<tspan font-size="43" dy="27">2</tspan><tspan dy="-27">-7d-25</tspan></text>
</g>
<text font-size="66" font-weight="bold" transform="translate(1043.2 1614.0) scale(0.9751 1)">2<tspan font-size="60">θ</tspan> (degree)</text>
<text font-size="72" font-weight="bold" transform="translate(80.5 971.9) rotate(-90) scale(0.9733 1)">Intensity (a.u.)</text>
<text font-size="77" transform="translate(1049.0 1906.8) scale(0.9602 1)">(<tspan font-weight="bold">a</tspan>)</text>
</svg></body></html>
